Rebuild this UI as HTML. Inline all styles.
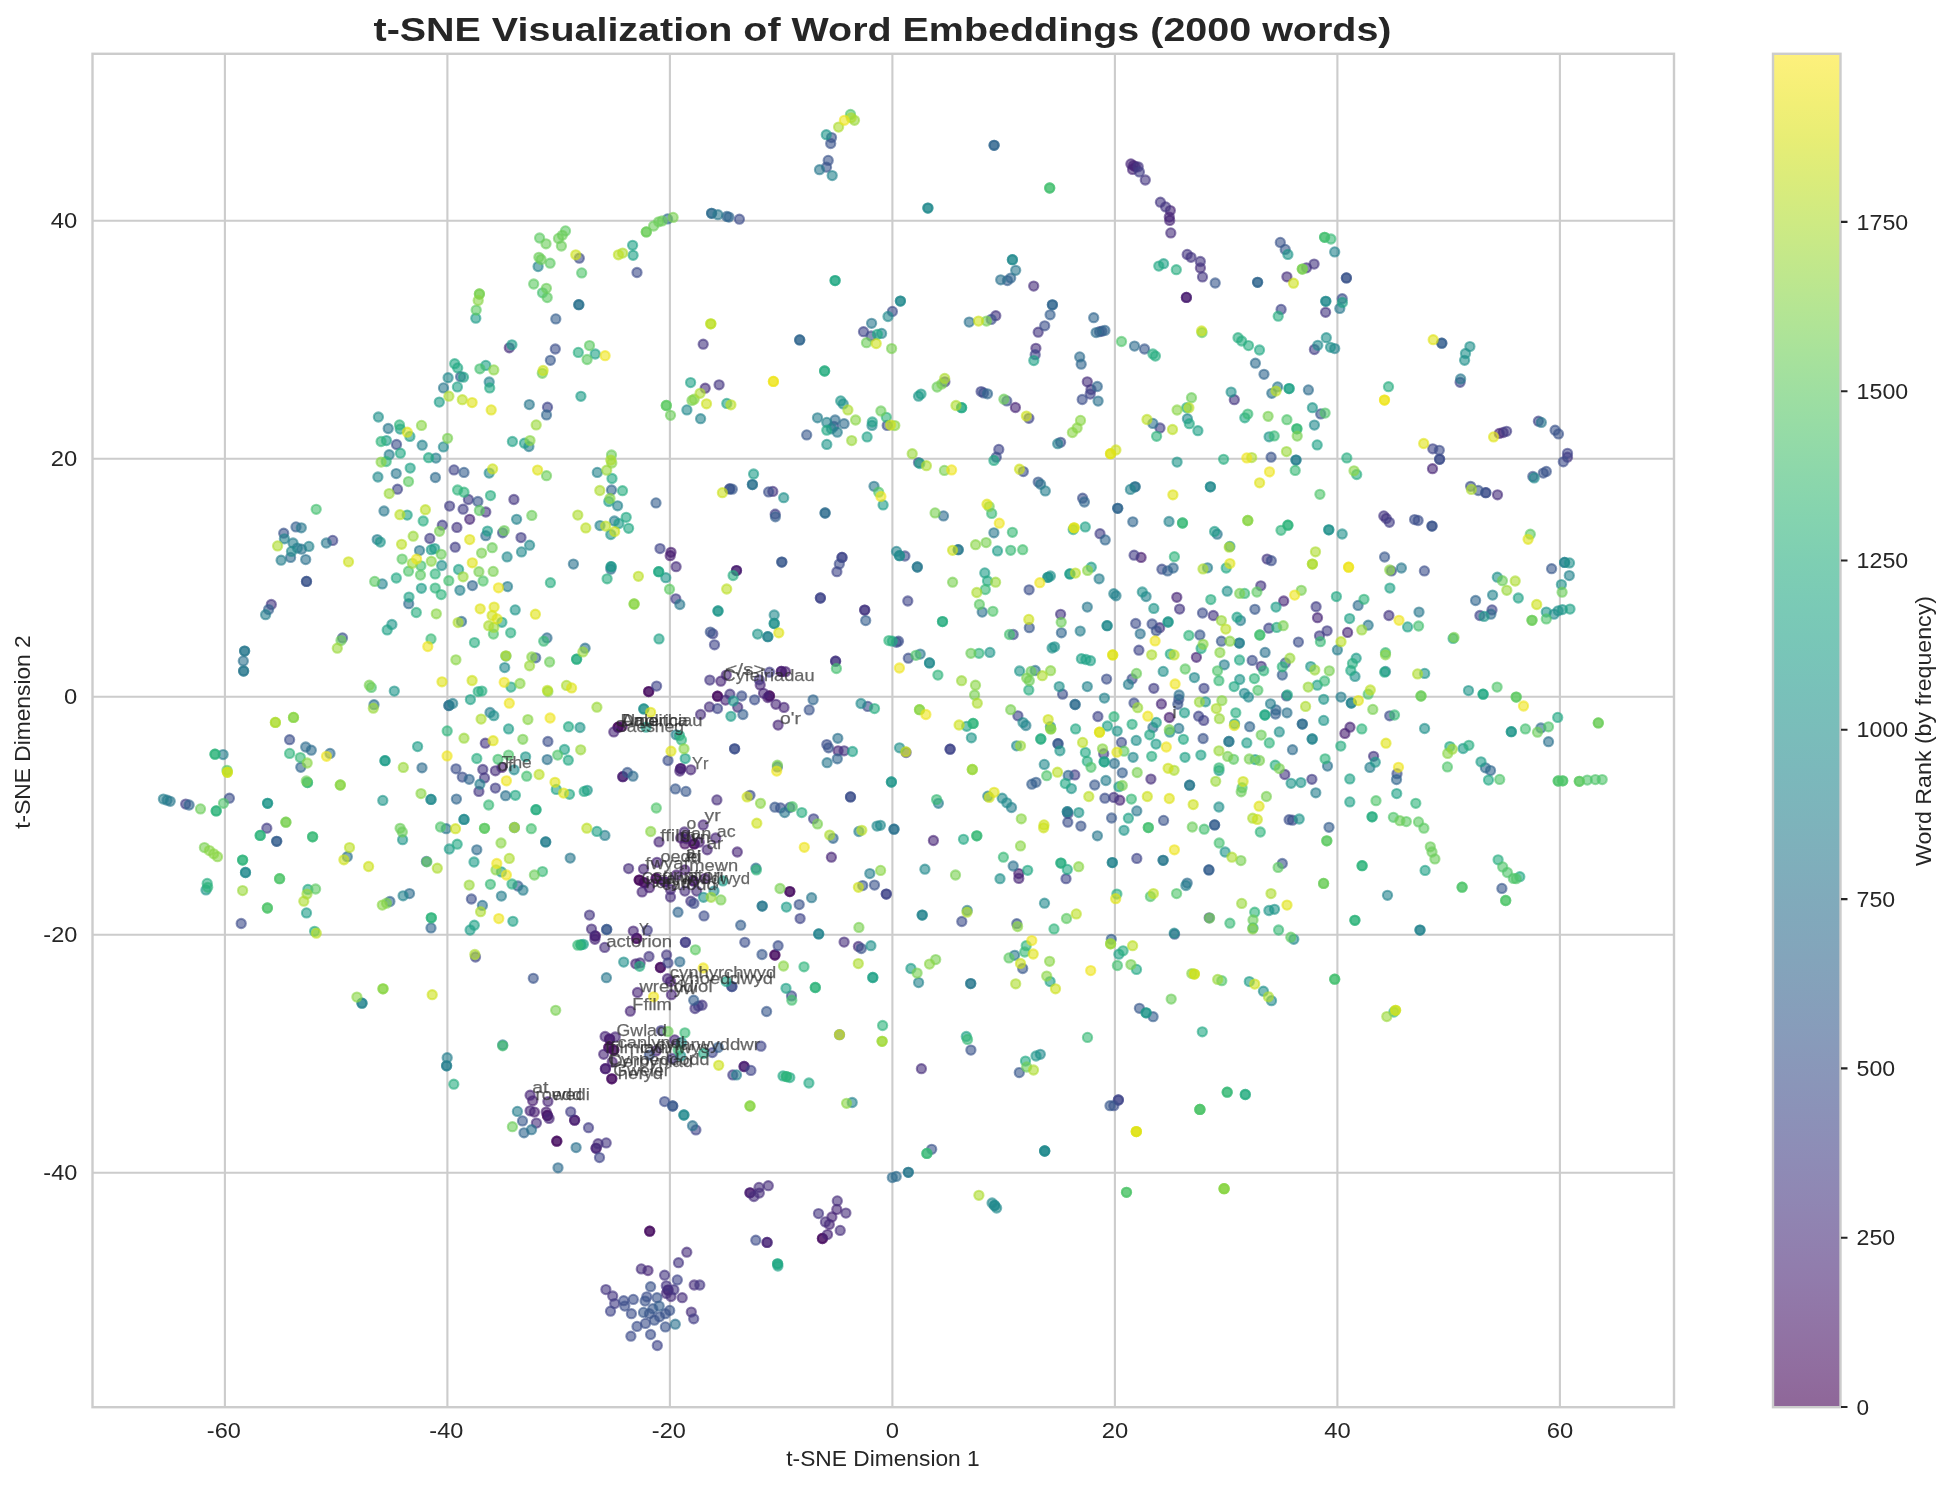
<!DOCTYPE html><html><head><meta charset="utf-8"><title>t-SNE</title><style>html,body{margin:0;padding:0;background:#fff}svg{display:block}text{font-family:"Liberation Sans",sans-serif;fill:#262626}</style></head><body>
<svg style="will-change:transform" width="1951" height="1485" viewBox="0 0 1951 1485">
<rect width="1951" height="1485" fill="#fff"/>
<path d="M224.9 53.8V1407.2M447.4 53.8V1407.2M669.9 53.8V1407.2M892.4 53.8V1407.2M1114.9 53.8V1407.2M1337.4 53.8V1407.2M1559.9 53.8V1407.2M92.5 220.8H1674.0M92.5 458.8H1674.0M92.5 696.8H1674.0M92.5 934.8H1674.0M92.5 1172.8H1674.0" stroke="#cccccc" stroke-width="2.1" fill="none"/>
<g fill-opacity="0.6" stroke-opacity="0.6" stroke-width="2.1"><circle cx="618.1" cy="727.2" r="4.6" fill="#450559" stroke="#450559"/>
<circle cx="618.1" cy="727.2" r="4.6" fill="#450559" stroke="#450559"/>
<circle cx="639.2" cy="880.1" r="4.6" fill="#450559" stroke="#450559"/>
<circle cx="639.2" cy="880.1" r="4.6" fill="#450559" stroke="#450559"/>
<circle cx="648.7" cy="691.6" r="4.6" fill="#470d60" stroke="#470d60"/>
<circle cx="648.7" cy="691.6" r="4.6" fill="#470d60" stroke="#470d60"/>
<circle cx="622.3" cy="726.3" r="4.6" fill="#470d60" stroke="#470d60"/>
<circle cx="769.5" cy="695.9" r="4.6" fill="#470d60" stroke="#470d60"/>
<circle cx="769.5" cy="695.9" r="4.6" fill="#470d60" stroke="#470d60"/>
<circle cx="717.5" cy="696.2" r="4.6" fill="#470d60" stroke="#470d60"/>
<circle cx="717.5" cy="696.2" r="4.6" fill="#470d60" stroke="#470d60"/>
<circle cx="684.9" cy="843.9" r="4.6" fill="#470d60" stroke="#470d60"/>
<circle cx="694.2" cy="843.9" r="4.6" fill="#470d60" stroke="#470d60"/>
<circle cx="694.2" cy="843.9" r="4.6" fill="#470d60" stroke="#470d60"/>
<circle cx="636.7" cy="938.4" r="4.6" fill="#470d60" stroke="#470d60"/>
<circle cx="636.7" cy="938.4" r="4.6" fill="#470d60" stroke="#470d60"/>
<circle cx="660.4" cy="967.5" r="4.6" fill="#470d60" stroke="#470d60"/>
<circle cx="660.4" cy="967.5" r="4.6" fill="#470d60" stroke="#470d60"/>
<circle cx="774.9" cy="955.0" r="4.6" fill="#470d60" stroke="#470d60"/>
<circle cx="774.9" cy="955.0" r="4.6" fill="#470d60" stroke="#470d60"/>
<circle cx="789.8" cy="891.6" r="4.6" fill="#470d60" stroke="#470d60"/>
<circle cx="789.8" cy="891.6" r="4.6" fill="#470d60" stroke="#470d60"/>
<circle cx="644.3" cy="882.6" r="4.6" fill="#470d60" stroke="#470d60"/>
<circle cx="644.3" cy="882.6" r="4.6" fill="#470d60" stroke="#470d60"/>
<circle cx="656.1" cy="878.4" r="4.6" fill="#470d60" stroke="#470d60"/>
<circle cx="656.1" cy="878.4" r="4.6" fill="#470d60" stroke="#470d60"/>
<circle cx="609.6" cy="1039.1" r="4.6" fill="#470d60" stroke="#470d60"/>
<circle cx="609.6" cy="1039.1" r="4.6" fill="#470d60" stroke="#470d60"/>
<circle cx="608.8" cy="1047.5" r="4.6" fill="#470d60" stroke="#470d60"/>
<circle cx="608.8" cy="1047.5" r="4.6" fill="#470d60" stroke="#470d60"/>
<circle cx="613.8" cy="1050.1" r="4.6" fill="#470d60" stroke="#470d60"/>
<circle cx="613.8" cy="1050.1" r="4.6" fill="#470d60" stroke="#470d60"/>
<circle cx="611.8" cy="1078.8" r="4.6" fill="#470d60" stroke="#470d60"/>
<circle cx="611.8" cy="1078.8" r="4.6" fill="#470d60" stroke="#470d60"/>
<circle cx="547.4" cy="1115.5" r="4.6" fill="#470d60" stroke="#470d60"/>
<circle cx="547.4" cy="1115.5" r="4.6" fill="#470d60" stroke="#470d60"/>
<circle cx="556.8" cy="1141.2" r="4.6" fill="#470d60" stroke="#470d60"/>
<circle cx="556.8" cy="1141.2" r="4.6" fill="#470d60" stroke="#470d60"/>
<circle cx="649.7" cy="1231.2" r="4.6" fill="#470d60" stroke="#470d60"/>
<circle cx="649.7" cy="1231.2" r="4.6" fill="#470d60" stroke="#470d60"/>
<circle cx="822.4" cy="1238.5" r="4.6" fill="#470d60" stroke="#470d60"/>
<circle cx="822.4" cy="1238.5" r="4.6" fill="#470d60" stroke="#470d60"/>
<circle cx="1186.4" cy="297.4" r="4.6" fill="#481d6f" stroke="#481d6f"/>
<circle cx="1186.4" cy="297.4" r="4.6" fill="#481d6f" stroke="#481d6f"/>
<circle cx="671.0" cy="552.3" r="4.6" fill="#481d6f" stroke="#481d6f"/>
<circle cx="670.2" cy="555.7" r="4.6" fill="#481d6f" stroke="#481d6f"/>
<circle cx="736.5" cy="570.6" r="4.6" fill="#481d6f" stroke="#481d6f"/>
<circle cx="736.5" cy="570.6" r="4.6" fill="#481d6f" stroke="#481d6f"/>
<circle cx="1141.1" cy="557.4" r="4.6" fill="#481d6f" stroke="#481d6f"/>
<circle cx="501.9" cy="767.4" r="4.6" fill="#481d6f" stroke="#481d6f"/>
<circle cx="622.8" cy="776.7" r="4.6" fill="#481d6f" stroke="#481d6f"/>
<circle cx="622.8" cy="776.7" r="4.6" fill="#481d6f" stroke="#481d6f"/>
<circle cx="680.7" cy="768.6" r="4.6" fill="#481d6f" stroke="#481d6f"/>
<circle cx="680.7" cy="768.6" r="4.6" fill="#481d6f" stroke="#481d6f"/>
<circle cx="781.3" cy="671.4" r="4.6" fill="#481d6f" stroke="#481d6f"/>
<circle cx="781.3" cy="671.4" r="4.6" fill="#481d6f" stroke="#481d6f"/>
<circle cx="785.5" cy="671.7" r="4.6" fill="#481d6f" stroke="#481d6f"/>
<circle cx="767.8" cy="697.6" r="4.6" fill="#481d6f" stroke="#481d6f"/>
<circle cx="680.7" cy="838.0" r="4.6" fill="#481d6f" stroke="#481d6f"/>
<circle cx="686.6" cy="838.8" r="4.6" fill="#481d6f" stroke="#481d6f"/>
<circle cx="699.3" cy="842.2" r="4.6" fill="#481d6f" stroke="#481d6f"/>
<circle cx="1169.3" cy="717.5" r="4.6" fill="#481d6f" stroke="#481d6f"/>
<circle cx="1344.9" cy="733.4" r="4.6" fill="#481d6f" stroke="#481d6f"/>
<circle cx="595.2" cy="935.9" r="4.6" fill="#481d6f" stroke="#481d6f"/>
<circle cx="595.2" cy="935.9" r="4.6" fill="#481d6f" stroke="#481d6f"/>
<circle cx="670.5" cy="981.6" r="4.6" fill="#481d6f" stroke="#481d6f"/>
<circle cx="649.4" cy="887.7" r="4.6" fill="#481d6f" stroke="#481d6f"/>
<circle cx="664.6" cy="881.8" r="4.6" fill="#481d6f" stroke="#481d6f"/>
<circle cx="664.6" cy="881.8" r="4.6" fill="#481d6f" stroke="#481d6f"/>
<circle cx="676.4" cy="875.0" r="4.6" fill="#481d6f" stroke="#481d6f"/>
<circle cx="684.9" cy="869.9" r="4.6" fill="#481d6f" stroke="#481d6f"/>
<circle cx="693.3" cy="880.9" r="4.6" fill="#481d6f" stroke="#481d6f"/>
<circle cx="693.3" cy="880.9" r="4.6" fill="#481d6f" stroke="#481d6f"/>
<circle cx="705.2" cy="878.4" r="4.6" fill="#481d6f" stroke="#481d6f"/>
<circle cx="605.4" cy="1068.7" r="4.6" fill="#481d6f" stroke="#481d6f"/>
<circle cx="605.4" cy="1068.7" r="4.6" fill="#481d6f" stroke="#481d6f"/>
<circle cx="612.2" cy="1061.9" r="4.6" fill="#481d6f" stroke="#481d6f"/>
<circle cx="744.1" cy="1066.5" r="4.6" fill="#481d6f" stroke="#481d6f"/>
<circle cx="744.1" cy="1066.5" r="4.6" fill="#481d6f" stroke="#481d6f"/>
<circle cx="532.7" cy="1100.8" r="4.6" fill="#481d6f" stroke="#481d6f"/>
<circle cx="1018.8" cy="873.6" r="4.6" fill="#481d6f" stroke="#481d6f"/>
<circle cx="534.4" cy="1112.1" r="4.6" fill="#481d6f" stroke="#481d6f"/>
<circle cx="546.2" cy="1112.1" r="4.6" fill="#481d6f" stroke="#481d6f"/>
<circle cx="574.6" cy="1120.2" r="4.6" fill="#481d6f" stroke="#481d6f"/>
<circle cx="574.6" cy="1120.2" r="4.6" fill="#481d6f" stroke="#481d6f"/>
<circle cx="750.0" cy="1192.8" r="4.6" fill="#481d6f" stroke="#481d6f"/>
<circle cx="750.0" cy="1192.8" r="4.6" fill="#481d6f" stroke="#481d6f"/>
<circle cx="1130.9" cy="163.9" r="4.6" fill="#482576" stroke="#482576"/>
<circle cx="1133.5" cy="165.6" r="4.6" fill="#482576" stroke="#482576"/>
<circle cx="1135.5" cy="166.8" r="4.6" fill="#482576" stroke="#482576"/>
<circle cx="1132.6" cy="169.4" r="4.6" fill="#482576" stroke="#482576"/>
<circle cx="1170.3" cy="210.6" r="4.6" fill="#482576" stroke="#482576"/>
<circle cx="1169.3" cy="217.1" r="4.6" fill="#482576" stroke="#482576"/>
<circle cx="1169.7" cy="220.4" r="4.6" fill="#482576" stroke="#482576"/>
<circle cx="469.7" cy="519.3" r="4.6" fill="#482576" stroke="#482576"/>
<circle cx="1015.4" cy="407.5" r="4.6" fill="#482576" stroke="#482576"/>
<circle cx="1432.5" cy="468.7" r="4.6" fill="#482576" stroke="#482576"/>
<circle cx="1176.8" cy="597.3" r="4.6" fill="#482576" stroke="#482576"/>
<circle cx="1283.7" cy="601.0" r="4.6" fill="#482576" stroke="#482576"/>
<circle cx="1499.3" cy="433.4" r="4.6" fill="#482576" stroke="#482576"/>
<circle cx="613.8" cy="731.9" r="4.6" fill="#482576" stroke="#482576"/>
<circle cx="679.8" cy="771.1" r="4.6" fill="#482576" stroke="#482576"/>
<circle cx="690.8" cy="769.8" r="4.6" fill="#482576" stroke="#482576"/>
<circle cx="720.8" cy="681.2" r="4.6" fill="#482576" stroke="#482576"/>
<circle cx="726.3" cy="675.1" r="4.6" fill="#482576" stroke="#482576"/>
<circle cx="760.2" cy="684.9" r="4.6" fill="#482576" stroke="#482576"/>
<circle cx="763.5" cy="693.3" r="4.6" fill="#482576" stroke="#482576"/>
<circle cx="775.9" cy="704.3" r="4.6" fill="#482576" stroke="#482576"/>
<circle cx="784.0" cy="707.4" r="4.6" fill="#482576" stroke="#482576"/>
<circle cx="725.5" cy="700.1" r="4.6" fill="#482576" stroke="#482576"/>
<circle cx="778.1" cy="725.1" r="4.6" fill="#482576" stroke="#482576"/>
<circle cx="703.2" cy="824.9" r="4.6" fill="#482576" stroke="#482576"/>
<circle cx="684.4" cy="832.0" r="4.6" fill="#482576" stroke="#482576"/>
<circle cx="659.0" cy="841.9" r="4.6" fill="#482576" stroke="#482576"/>
<circle cx="715.7" cy="838.0" r="4.6" fill="#482576" stroke="#482576"/>
<circle cx="707.2" cy="849.8" r="4.6" fill="#482576" stroke="#482576"/>
<circle cx="737.3" cy="852.0" r="4.6" fill="#482576" stroke="#482576"/>
<circle cx="838.1" cy="750.8" r="4.6" fill="#482576" stroke="#482576"/>
<circle cx="1119.8" cy="800.2" r="4.6" fill="#482576" stroke="#482576"/>
<circle cx="933.4" cy="840.5" r="4.6" fill="#482576" stroke="#482576"/>
<circle cx="1317.5" cy="617.7" r="4.6" fill="#482576" stroke="#482576"/>
<circle cx="1347.6" cy="632.4" r="4.6" fill="#482576" stroke="#482576"/>
<circle cx="1196.4" cy="657.3" r="4.6" fill="#482576" stroke="#482576"/>
<circle cx="1161.4" cy="704.0" r="4.6" fill="#482576" stroke="#482576"/>
<circle cx="1350.0" cy="727.2" r="4.6" fill="#482576" stroke="#482576"/>
<circle cx="594.9" cy="939.3" r="4.6" fill="#482576" stroke="#482576"/>
<circle cx="633.3" cy="931.1" r="4.6" fill="#482576" stroke="#482576"/>
<circle cx="635.8" cy="963.8" r="4.6" fill="#482576" stroke="#482576"/>
<circle cx="667.5" cy="978.7" r="4.6" fill="#482576" stroke="#482576"/>
<circle cx="637.5" cy="992.5" r="4.6" fill="#482576" stroke="#482576"/>
<circle cx="671.4" cy="994.7" r="4.6" fill="#482576" stroke="#482576"/>
<circle cx="630.3" cy="1011.2" r="4.6" fill="#482576" stroke="#482576"/>
<circle cx="643.5" cy="869.1" r="4.6" fill="#482576" stroke="#482576"/>
<circle cx="657.0" cy="862.3" r="4.6" fill="#482576" stroke="#482576"/>
<circle cx="642.1" cy="891.9" r="4.6" fill="#482576" stroke="#482576"/>
<circle cx="670.5" cy="889.4" r="4.6" fill="#482576" stroke="#482576"/>
<circle cx="605.1" cy="1036.5" r="4.6" fill="#482576" stroke="#482576"/>
<circle cx="615.2" cy="1037.0" r="4.6" fill="#482576" stroke="#482576"/>
<circle cx="674.7" cy="1039.9" r="4.6" fill="#482576" stroke="#482576"/>
<circle cx="603.7" cy="1054.3" r="4.6" fill="#482576" stroke="#482576"/>
<circle cx="656.1" cy="1050.9" r="4.6" fill="#482576" stroke="#482576"/>
<circle cx="530.1" cy="1095.2" r="4.6" fill="#482576" stroke="#482576"/>
<circle cx="547.9" cy="1101.6" r="4.6" fill="#482576" stroke="#482576"/>
<circle cx="831.4" cy="857.2" r="4.6" fill="#482576" stroke="#482576"/>
<circle cx="1018.8" cy="878.4" r="4.6" fill="#482576" stroke="#482576"/>
<circle cx="530.1" cy="1110.8" r="4.6" fill="#482576" stroke="#482576"/>
<circle cx="549.1" cy="1118.4" r="4.6" fill="#482576" stroke="#482576"/>
<circle cx="596.1" cy="1148.3" r="4.6" fill="#482576" stroke="#482576"/>
<circle cx="596.1" cy="1148.3" r="4.6" fill="#482576" stroke="#482576"/>
<circle cx="767.1" cy="1242.4" r="4.6" fill="#482576" stroke="#482576"/>
<circle cx="767.1" cy="1242.4" r="4.6" fill="#482576" stroke="#482576"/>
<circle cx="648.0" cy="1270.6" r="4.6" fill="#482576" stroke="#482576"/>
<circle cx="668.0" cy="1290.1" r="4.6" fill="#482576" stroke="#482576"/>
<circle cx="668.0" cy="1290.1" r="4.6" fill="#482576" stroke="#482576"/>
<circle cx="836.8" cy="1209.4" r="4.6" fill="#482576" stroke="#482576"/>
<circle cx="831.9" cy="1217.0" r="4.6" fill="#482576" stroke="#482576"/>
<circle cx="829.3" cy="1224.4" r="4.6" fill="#482576" stroke="#482576"/>
<circle cx="827.5" cy="1234.6" r="4.6" fill="#482576" stroke="#482576"/>
<circle cx="509.3" cy="347.8" r="4.6" fill="#472e7c" stroke="#472e7c"/>
<circle cx="1033.7" cy="286.1" r="4.6" fill="#472e7c" stroke="#472e7c"/>
<circle cx="1035.9" cy="348.3" r="4.6" fill="#472e7c" stroke="#472e7c"/>
<circle cx="1170.8" cy="232.9" r="4.6" fill="#472e7c" stroke="#472e7c"/>
<circle cx="1200.4" cy="268.0" r="4.6" fill="#472e7c" stroke="#472e7c"/>
<circle cx="1286.9" cy="276.8" r="4.6" fill="#472e7c" stroke="#472e7c"/>
<circle cx="676.1" cy="566.7" r="4.6" fill="#472e7c" stroke="#472e7c"/>
<circle cx="705.2" cy="388.2" r="4.6" fill="#472e7c" stroke="#472e7c"/>
<circle cx="1087.3" cy="381.8" r="4.6" fill="#472e7c" stroke="#472e7c"/>
<circle cx="1503.2" cy="432.5" r="4.6" fill="#472e7c" stroke="#472e7c"/>
<circle cx="1497.5" cy="494.8" r="4.6" fill="#472e7c" stroke="#472e7c"/>
<circle cx="495.4" cy="770.8" r="4.6" fill="#472e7c" stroke="#472e7c"/>
<circle cx="716.9" cy="799.9" r="4.6" fill="#472e7c" stroke="#472e7c"/>
<circle cx="737.7" cy="707.2" r="4.6" fill="#472e7c" stroke="#472e7c"/>
<circle cx="709.4" cy="706.9" r="4.6" fill="#472e7c" stroke="#472e7c"/>
<circle cx="700.6" cy="714.5" r="4.6" fill="#472e7c" stroke="#472e7c"/>
<circle cx="1150.9" cy="779.1" r="4.6" fill="#472e7c" stroke="#472e7c"/>
<circle cx="591.5" cy="929.1" r="4.6" fill="#472e7c" stroke="#472e7c"/>
<circle cx="604.7" cy="947.4" r="4.6" fill="#472e7c" stroke="#472e7c"/>
<circle cx="640.1" cy="962.9" r="4.6" fill="#472e7c" stroke="#472e7c"/>
<circle cx="628.6" cy="868.6" r="4.6" fill="#472e7c" stroke="#472e7c"/>
<circle cx="670.5" cy="897.0" r="4.6" fill="#472e7c" stroke="#472e7c"/>
<circle cx="684.9" cy="891.1" r="4.6" fill="#472e7c" stroke="#472e7c"/>
<circle cx="696.7" cy="891.1" r="4.6" fill="#472e7c" stroke="#472e7c"/>
<circle cx="844.1" cy="942.1" r="4.6" fill="#472e7c" stroke="#472e7c"/>
<circle cx="858.4" cy="946.5" r="4.6" fill="#472e7c" stroke="#472e7c"/>
<circle cx="921.4" cy="1068.7" r="4.6" fill="#472e7c" stroke="#472e7c"/>
<circle cx="536.4" cy="1123.1" r="4.6" fill="#472e7c" stroke="#472e7c"/>
<circle cx="598.1" cy="1143.7" r="4.6" fill="#472e7c" stroke="#472e7c"/>
<circle cx="768.3" cy="1185.7" r="4.6" fill="#472e7c" stroke="#472e7c"/>
<circle cx="759.0" cy="1187.4" r="4.6" fill="#472e7c" stroke="#472e7c"/>
<circle cx="759.3" cy="1193.1" r="4.6" fill="#472e7c" stroke="#472e7c"/>
<circle cx="753.9" cy="1196.5" r="4.6" fill="#472e7c" stroke="#472e7c"/>
<circle cx="686.8" cy="1252.2" r="4.6" fill="#472e7c" stroke="#472e7c"/>
<circle cx="641.3" cy="1268.9" r="4.6" fill="#472e7c" stroke="#472e7c"/>
<circle cx="694.2" cy="1285.0" r="4.6" fill="#472e7c" stroke="#472e7c"/>
<circle cx="666.3" cy="1293.4" r="4.6" fill="#472e7c" stroke="#472e7c"/>
<circle cx="671.0" cy="1296.5" r="4.6" fill="#472e7c" stroke="#472e7c"/>
<circle cx="682.2" cy="1297.7" r="4.6" fill="#472e7c" stroke="#472e7c"/>
<circle cx="691.3" cy="1312.1" r="4.6" fill="#472e7c" stroke="#472e7c"/>
<circle cx="837.3" cy="1200.9" r="4.6" fill="#472e7c" stroke="#472e7c"/>
<circle cx="845.9" cy="1213.1" r="4.6" fill="#472e7c" stroke="#472e7c"/>
<circle cx="825.4" cy="1221.9" r="4.6" fill="#472e7c" stroke="#472e7c"/>
<circle cx="840.2" cy="1230.4" r="4.6" fill="#472e7c" stroke="#472e7c"/>
<circle cx="703.2" cy="344.2" r="4.6" fill="#453581" stroke="#453581"/>
<circle cx="995.8" cy="315.7" r="4.6" fill="#453581" stroke="#453581"/>
<circle cx="1038.2" cy="332.2" r="4.6" fill="#453581" stroke="#453581"/>
<circle cx="1138.2" cy="166.8" r="4.6" fill="#453581" stroke="#453581"/>
<circle cx="1145.3" cy="180.0" r="4.6" fill="#453581" stroke="#453581"/>
<circle cx="1160.4" cy="202.2" r="4.6" fill="#453581" stroke="#453581"/>
<circle cx="1165.6" cy="206.9" r="4.6" fill="#453581" stroke="#453581"/>
<circle cx="1187.2" cy="254.4" r="4.6" fill="#453581" stroke="#453581"/>
<circle cx="1191.0" cy="257.3" r="4.6" fill="#453581" stroke="#453581"/>
<circle cx="1200.3" cy="261.5" r="4.6" fill="#453581" stroke="#453581"/>
<circle cx="1202.5" cy="276.9" r="4.6" fill="#453581" stroke="#453581"/>
<circle cx="1314.1" cy="264.1" r="4.6" fill="#453581" stroke="#453581"/>
<circle cx="1306.5" cy="267.8" r="4.6" fill="#453581" stroke="#453581"/>
<circle cx="1325.6" cy="312.3" r="4.6" fill="#453581" stroke="#453581"/>
<circle cx="456.9" cy="527.4" r="4.6" fill="#453581" stroke="#453581"/>
<circle cx="513.9" cy="499.5" r="4.6" fill="#453581" stroke="#453581"/>
<circle cx="485.8" cy="512.0" r="4.6" fill="#453581" stroke="#453581"/>
<circle cx="772.8" cy="491.4" r="4.6" fill="#453581" stroke="#453581"/>
<circle cx="719.1" cy="384.8" r="4.6" fill="#453581" stroke="#453581"/>
<circle cx="1091.0" cy="389.6" r="4.6" fill="#453581" stroke="#453581"/>
<circle cx="1234.3" cy="399.7" r="4.6" fill="#453581" stroke="#453581"/>
<circle cx="1383.8" cy="515.9" r="4.6" fill="#453581" stroke="#453581"/>
<circle cx="1386.3" cy="518.5" r="4.6" fill="#453581" stroke="#453581"/>
<circle cx="1267.1" cy="559.1" r="4.6" fill="#453581" stroke="#453581"/>
<circle cx="1260.8" cy="585.8" r="4.6" fill="#453581" stroke="#453581"/>
<circle cx="1567.5" cy="457.2" r="4.6" fill="#453581" stroke="#453581"/>
<circle cx="271.3" cy="604.5" r="4.6" fill="#453581" stroke="#453581"/>
<circle cx="485.3" cy="743.2" r="4.6" fill="#453581" stroke="#453581"/>
<circle cx="482.8" cy="769.5" r="4.6" fill="#453581" stroke="#453581"/>
<circle cx="484.5" cy="777.9" r="4.6" fill="#453581" stroke="#453581"/>
<circle cx="478.9" cy="791.4" r="4.6" fill="#453581" stroke="#453581"/>
<circle cx="709.8" cy="680.1" r="4.6" fill="#453581" stroke="#453581"/>
<circle cx="759.3" cy="679.8" r="4.6" fill="#453581" stroke="#453581"/>
<circle cx="729.9" cy="694.2" r="4.6" fill="#453581" stroke="#453581"/>
<circle cx="864.7" cy="610.1" r="4.6" fill="#453581" stroke="#453581"/>
<circle cx="864.7" cy="610.1" r="4.6" fill="#453581" stroke="#453581"/>
<circle cx="1060.6" cy="614.3" r="4.6" fill="#453581" stroke="#453581"/>
<circle cx="835.6" cy="661.2" r="4.6" fill="#453581" stroke="#453581"/>
<circle cx="835.6" cy="661.2" r="4.6" fill="#453581" stroke="#453581"/>
<circle cx="844.1" cy="750.8" r="4.6" fill="#453581" stroke="#453581"/>
<circle cx="1113.8" cy="797.4" r="4.6" fill="#453581" stroke="#453581"/>
<circle cx="1179.6" cy="609.1" r="4.6" fill="#453581" stroke="#453581"/>
<circle cx="1213.3" cy="615.5" r="4.6" fill="#453581" stroke="#453581"/>
<circle cx="1388.9" cy="615.5" r="4.6" fill="#453581" stroke="#453581"/>
<circle cx="1159.7" cy="627.7" r="4.6" fill="#453581" stroke="#453581"/>
<circle cx="1261.2" cy="666.3" r="4.6" fill="#453581" stroke="#453581"/>
<circle cx="1373.6" cy="756.3" r="4.6" fill="#453581" stroke="#453581"/>
<circle cx="1284.8" cy="774.5" r="4.6" fill="#453581" stroke="#453581"/>
<circle cx="589.5" cy="915.1" r="4.6" fill="#453581" stroke="#453581"/>
<circle cx="649.0" cy="956.5" r="4.6" fill="#453581" stroke="#453581"/>
<circle cx="666.6" cy="955.0" r="4.6" fill="#453581" stroke="#453581"/>
<circle cx="702.1" cy="1005.2" r="4.6" fill="#453581" stroke="#453581"/>
<circle cx="695.0" cy="1008.6" r="4.6" fill="#453581" stroke="#453581"/>
<circle cx="690.8" cy="901.2" r="4.6" fill="#453581" stroke="#453581"/>
<circle cx="672.2" cy="1058.5" r="4.6" fill="#453581" stroke="#453581"/>
<circle cx="606.2" cy="1142.9" r="4.6" fill="#453581" stroke="#453581"/>
<circle cx="678.5" cy="1262.7" r="4.6" fill="#453581" stroke="#453581"/>
<circle cx="664.6" cy="1275.2" r="4.6" fill="#453581" stroke="#453581"/>
<circle cx="699.8" cy="1285.0" r="4.6" fill="#453581" stroke="#453581"/>
<circle cx="666.3" cy="1285.8" r="4.6" fill="#453581" stroke="#453581"/>
<circle cx="673.9" cy="1289.7" r="4.6" fill="#453581" stroke="#453581"/>
<circle cx="605.9" cy="1289.6" r="4.6" fill="#453581" stroke="#453581"/>
<circle cx="612.7" cy="1296.0" r="4.6" fill="#453581" stroke="#453581"/>
<circle cx="818.5" cy="1213.6" r="4.6" fill="#453581" stroke="#453581"/>
<circle cx="1139.4" cy="171.9" r="4.6" fill="#433e85" stroke="#433e85"/>
<circle cx="1314.4" cy="349.5" r="4.6" fill="#433e85" stroke="#433e85"/>
<circle cx="449.6" cy="506.1" r="4.6" fill="#433e85" stroke="#433e85"/>
<circle cx="463.1" cy="509.2" r="4.6" fill="#433e85" stroke="#433e85"/>
<circle cx="442.3" cy="525.2" r="4.6" fill="#433e85" stroke="#433e85"/>
<circle cx="429.8" cy="538.4" r="4.6" fill="#433e85" stroke="#433e85"/>
<circle cx="455.2" cy="547.2" r="4.6" fill="#433e85" stroke="#433e85"/>
<circle cx="468.4" cy="499.5" r="4.6" fill="#433e85" stroke="#433e85"/>
<circle cx="521.0" cy="537.6" r="4.6" fill="#433e85" stroke="#433e85"/>
<circle cx="675.8" cy="598.8" r="4.6" fill="#433e85" stroke="#433e85"/>
<circle cx="775.2" cy="514.2" r="4.6" fill="#433e85" stroke="#433e85"/>
<circle cx="944.9" cy="381.8" r="4.6" fill="#433e85" stroke="#433e85"/>
<circle cx="1100.0" cy="533.7" r="4.6" fill="#433e85" stroke="#433e85"/>
<circle cx="1160.0" cy="428.0" r="4.6" fill="#433e85" stroke="#433e85"/>
<circle cx="1389.4" cy="522.3" r="4.6" fill="#433e85" stroke="#433e85"/>
<circle cx="1134.1" cy="555.2" r="4.6" fill="#433e85" stroke="#433e85"/>
<circle cx="1506.6" cy="431.3" r="4.6" fill="#433e85" stroke="#433e85"/>
<circle cx="185.7" cy="804.1" r="4.6" fill="#433e85" stroke="#433e85"/>
<circle cx="266.8" cy="828.2" r="4.6" fill="#433e85" stroke="#433e85"/>
<circle cx="495.4" cy="788.1" r="4.6" fill="#433e85" stroke="#433e85"/>
<circle cx="769.5" cy="672.2" r="4.6" fill="#433e85" stroke="#433e85"/>
<circle cx="1103.7" cy="753.7" r="4.6" fill="#433e85" stroke="#433e85"/>
<circle cx="906.1" cy="752.5" r="4.6" fill="#433e85" stroke="#433e85"/>
<circle cx="1074.8" cy="774.9" r="4.6" fill="#433e85" stroke="#433e85"/>
<circle cx="1316.1" cy="606.7" r="4.6" fill="#433e85" stroke="#433e85"/>
<circle cx="1327.1" cy="630.8" r="4.6" fill="#433e85" stroke="#433e85"/>
<circle cx="1319.5" cy="635.8" r="4.6" fill="#433e85" stroke="#433e85"/>
<circle cx="1153.8" cy="688.3" r="4.6" fill="#433e85" stroke="#433e85"/>
<circle cx="1203.7" cy="720.4" r="4.6" fill="#433e85" stroke="#433e85"/>
<circle cx="1311.9" cy="779.3" r="4.6" fill="#433e85" stroke="#433e85"/>
<circle cx="647.3" cy="930.3" r="4.6" fill="#433e85" stroke="#433e85"/>
<circle cx="685.4" cy="942.3" r="4.6" fill="#433e85" stroke="#433e85"/>
<circle cx="685.4" cy="942.3" r="4.6" fill="#433e85" stroke="#433e85"/>
<circle cx="698.4" cy="1006.1" r="4.6" fill="#433e85" stroke="#433e85"/>
<circle cx="661.2" cy="1030.6" r="4.6" fill="#433e85" stroke="#433e85"/>
<circle cx="732.8" cy="1074.9" r="4.6" fill="#433e85" stroke="#433e85"/>
<circle cx="1209.2" cy="917.8" r="4.6" fill="#433e85" stroke="#433e85"/>
<circle cx="570.7" cy="1111.8" r="4.6" fill="#433e85" stroke="#433e85"/>
<circle cx="588.5" cy="1127.7" r="4.6" fill="#433e85" stroke="#433e85"/>
<circle cx="614.7" cy="1303.6" r="4.6" fill="#433e85" stroke="#433e85"/>
<circle cx="693.7" cy="1318.8" r="4.6" fill="#433e85" stroke="#433e85"/>
<circle cx="863.5" cy="331.7" r="4.6" fill="#404588" stroke="#404588"/>
<circle cx="1281.1" cy="309.4" r="4.6" fill="#404588" stroke="#404588"/>
<circle cx="454.0" cy="469.9" r="4.6" fill="#404588" stroke="#404588"/>
<circle cx="397.5" cy="489.2" r="4.6" fill="#404588" stroke="#404588"/>
<circle cx="332.7" cy="540.4" r="4.6" fill="#404588" stroke="#404588"/>
<circle cx="547.5" cy="407.2" r="4.6" fill="#404588" stroke="#404588"/>
<circle cx="660.0" cy="548.6" r="4.6" fill="#404588" stroke="#404588"/>
<circle cx="1035.2" cy="354.7" r="4.6" fill="#404588" stroke="#404588"/>
<circle cx="1090.2" cy="394.1" r="4.6" fill="#404588" stroke="#404588"/>
<circle cx="981.1" cy="391.6" r="4.6" fill="#404588" stroke="#404588"/>
<circle cx="1028.9" cy="418.3" r="4.6" fill="#404588" stroke="#404588"/>
<circle cx="998.8" cy="449.4" r="4.6" fill="#404588" stroke="#404588"/>
<circle cx="842.0" cy="557.4" r="4.6" fill="#404588" stroke="#404588"/>
<circle cx="842.0" cy="557.4" r="4.6" fill="#404588" stroke="#404588"/>
<circle cx="836.9" cy="571.7" r="4.6" fill="#404588" stroke="#404588"/>
<circle cx="820.4" cy="598.0" r="4.6" fill="#404588" stroke="#404588"/>
<circle cx="820.4" cy="598.0" r="4.6" fill="#404588" stroke="#404588"/>
<circle cx="907.8" cy="601.0" r="4.6" fill="#404588" stroke="#404588"/>
<circle cx="1432.8" cy="448.8" r="4.6" fill="#404588" stroke="#404588"/>
<circle cx="1460.1" cy="382.3" r="4.6" fill="#404588" stroke="#404588"/>
<circle cx="1538.4" cy="421.2" r="4.6" fill="#404588" stroke="#404588"/>
<circle cx="1567.5" cy="453.3" r="4.6" fill="#404588" stroke="#404588"/>
<circle cx="712.8" cy="633.8" r="4.6" fill="#404588" stroke="#404588"/>
<circle cx="714.5" cy="644.8" r="4.6" fill="#404588" stroke="#404588"/>
<circle cx="656.6" cy="686.1" r="4.6" fill="#404588" stroke="#404588"/>
<circle cx="717.5" cy="708.6" r="4.6" fill="#404588" stroke="#404588"/>
<circle cx="1017.9" cy="715.8" r="4.6" fill="#404588" stroke="#404588"/>
<circle cx="1097.9" cy="716.5" r="4.6" fill="#404588" stroke="#404588"/>
<circle cx="950.1" cy="749.2" r="4.6" fill="#404588" stroke="#404588"/>
<circle cx="950.1" cy="749.2" r="4.6" fill="#404588" stroke="#404588"/>
<circle cx="1068.0" cy="813.4" r="4.6" fill="#404588" stroke="#404588"/>
<circle cx="813.6" cy="818.8" r="4.6" fill="#404588" stroke="#404588"/>
<circle cx="1268.8" cy="628.2" r="4.6" fill="#404588" stroke="#404588"/>
<circle cx="1138.9" cy="650.2" r="4.6" fill="#404588" stroke="#404588"/>
<circle cx="1204.0" cy="688.3" r="4.6" fill="#404588" stroke="#404588"/>
<circle cx="1198.6" cy="716.2" r="4.6" fill="#404588" stroke="#404588"/>
<circle cx="1492.0" cy="609.9" r="4.6" fill="#404588" stroke="#404588"/>
<circle cx="1479.9" cy="615.5" r="4.6" fill="#404588" stroke="#404588"/>
<circle cx="475.5" cy="957.0" r="4.6" fill="#404588" stroke="#404588"/>
<circle cx="668.0" cy="962.9" r="4.6" fill="#404588" stroke="#404588"/>
<circle cx="712.3" cy="1052.6" r="4.6" fill="#404588" stroke="#404588"/>
<circle cx="761.0" cy="1046.2" r="4.6" fill="#404588" stroke="#404588"/>
<circle cx="750.9" cy="1070.4" r="4.6" fill="#404588" stroke="#404588"/>
<circle cx="1066.0" cy="878.7" r="4.6" fill="#404588" stroke="#404588"/>
<circle cx="886.3" cy="894.1" r="4.6" fill="#404588" stroke="#404588"/>
<circle cx="886.3" cy="894.1" r="4.6" fill="#404588" stroke="#404588"/>
<circle cx="800.1" cy="918.6" r="4.6" fill="#404588" stroke="#404588"/>
<circle cx="1118.4" cy="1100.0" r="4.6" fill="#404588" stroke="#404588"/>
<circle cx="1118.4" cy="1100.0" r="4.6" fill="#404588" stroke="#404588"/>
<circle cx="1136.8" cy="858.4" r="4.6" fill="#404588" stroke="#404588"/>
<circle cx="599.5" cy="1157.6" r="4.6" fill="#404588" stroke="#404588"/>
<circle cx="695.9" cy="1129.9" r="4.6" fill="#404588" stroke="#404588"/>
<circle cx="677.3" cy="1279.9" r="4.6" fill="#404588" stroke="#404588"/>
<circle cx="610.5" cy="1311.2" r="4.6" fill="#404588" stroke="#404588"/>
<circle cx="657.3" cy="1345.5" r="4.6" fill="#404588" stroke="#404588"/>
<circle cx="579.3" cy="258.2" r="4.6" fill="#3e4c8a" stroke="#3e4c8a"/>
<circle cx="637.0" cy="272.5" r="4.6" fill="#3e4c8a" stroke="#3e4c8a"/>
<circle cx="739.4" cy="219.2" r="4.6" fill="#3e4c8a" stroke="#3e4c8a"/>
<circle cx="892.4" cy="311.4" r="4.6" fill="#3e4c8a" stroke="#3e4c8a"/>
<circle cx="871.1" cy="336.0" r="4.6" fill="#3e4c8a" stroke="#3e4c8a"/>
<circle cx="1006.8" cy="400.9" r="4.6" fill="#3e4c8a" stroke="#3e4c8a"/>
<circle cx="904.9" cy="556.0" r="4.6" fill="#3e4c8a" stroke="#3e4c8a"/>
<circle cx="839.3" cy="564.1" r="4.6" fill="#3e4c8a" stroke="#3e4c8a"/>
<circle cx="1439.3" cy="450.3" r="4.6" fill="#3e4c8a" stroke="#3e4c8a"/>
<circle cx="1439.6" cy="459.3" r="4.6" fill="#3e4c8a" stroke="#3e4c8a"/>
<circle cx="1439.6" cy="459.3" r="4.6" fill="#3e4c8a" stroke="#3e4c8a"/>
<circle cx="1161.9" cy="569.2" r="4.6" fill="#3e4c8a" stroke="#3e4c8a"/>
<circle cx="1391.4" cy="570.9" r="4.6" fill="#3e4c8a" stroke="#3e4c8a"/>
<circle cx="1563.3" cy="461.8" r="4.6" fill="#3e4c8a" stroke="#3e4c8a"/>
<circle cx="867.7" cy="706.4" r="4.6" fill="#3e4c8a" stroke="#3e4c8a"/>
<circle cx="1121.5" cy="742.4" r="4.6" fill="#3e4c8a" stroke="#3e4c8a"/>
<circle cx="1202.5" cy="613.0" r="4.6" fill="#3e4c8a" stroke="#3e4c8a"/>
<circle cx="1135.7" cy="623.5" r="4.6" fill="#3e4c8a" stroke="#3e4c8a"/>
<circle cx="1132.1" cy="679.0" r="4.6" fill="#3e4c8a" stroke="#3e4c8a"/>
<circle cx="1389.7" cy="715.8" r="4.6" fill="#3e4c8a" stroke="#3e4c8a"/>
<circle cx="241.2" cy="923.5" r="4.6" fill="#3e4c8a" stroke="#3e4c8a"/>
<circle cx="731.9" cy="986.6" r="4.6" fill="#3e4c8a" stroke="#3e4c8a"/>
<circle cx="731.9" cy="986.6" r="4.6" fill="#3e4c8a" stroke="#3e4c8a"/>
<circle cx="791.5" cy="995.9" r="4.6" fill="#3e4c8a" stroke="#3e4c8a"/>
<circle cx="704.0" cy="915.9" r="4.6" fill="#3e4c8a" stroke="#3e4c8a"/>
<circle cx="693.9" cy="903.4" r="4.6" fill="#3e4c8a" stroke="#3e4c8a"/>
<circle cx="664.6" cy="1101.6" r="4.6" fill="#3e4c8a" stroke="#3e4c8a"/>
<circle cx="961.8" cy="921.5" r="4.6" fill="#3e4c8a" stroke="#3e4c8a"/>
<circle cx="755.8" cy="1240.2" r="4.6" fill="#3e4c8a" stroke="#3e4c8a"/>
<circle cx="623.7" cy="1300.7" r="4.6" fill="#3e4c8a" stroke="#3e4c8a"/>
<circle cx="630.9" cy="1336.2" r="4.6" fill="#3e4c8a" stroke="#3e4c8a"/>
<circle cx="555.3" cy="349.0" r="4.6" fill="#3c4f8a" stroke="#3c4f8a"/>
<circle cx="991.2" cy="319.4" r="4.6" fill="#3c4f8a" stroke="#3c4f8a"/>
<circle cx="1044.7" cy="325.8" r="4.6" fill="#3c4f8a" stroke="#3c4f8a"/>
<circle cx="1342.2" cy="298.7" r="4.6" fill="#3c4f8a" stroke="#3c4f8a"/>
<circle cx="396.5" cy="444.5" r="4.6" fill="#3c4f8a" stroke="#3c4f8a"/>
<circle cx="502.6" cy="532.8" r="4.6" fill="#3c4f8a" stroke="#3c4f8a"/>
<circle cx="768.6" cy="491.9" r="4.6" fill="#3c4f8a" stroke="#3c4f8a"/>
<circle cx="729.7" cy="488.9" r="4.6" fill="#3c4f8a" stroke="#3c4f8a"/>
<circle cx="729.7" cy="488.9" r="4.6" fill="#3c4f8a" stroke="#3c4f8a"/>
<circle cx="1082.2" cy="399.5" r="4.6" fill="#3c4f8a" stroke="#3c4f8a"/>
<circle cx="983.6" cy="392.9" r="4.6" fill="#3c4f8a" stroke="#3c4f8a"/>
<circle cx="833.9" cy="426.3" r="4.6" fill="#3c4f8a" stroke="#3c4f8a"/>
<circle cx="887.2" cy="425.4" r="4.6" fill="#3c4f8a" stroke="#3c4f8a"/>
<circle cx="1060.6" cy="442.3" r="4.6" fill="#3c4f8a" stroke="#3c4f8a"/>
<circle cx="996.3" cy="457.2" r="4.6" fill="#3c4f8a" stroke="#3c4f8a"/>
<circle cx="1023.3" cy="471.6" r="4.6" fill="#3c4f8a" stroke="#3c4f8a"/>
<circle cx="1082.6" cy="498.2" r="4.6" fill="#3c4f8a" stroke="#3c4f8a"/>
<circle cx="1029.1" cy="589.8" r="4.6" fill="#3c4f8a" stroke="#3c4f8a"/>
<circle cx="1414.6" cy="519.6" r="4.6" fill="#3c4f8a" stroke="#3c4f8a"/>
<circle cx="1418.1" cy="520.5" r="4.6" fill="#3c4f8a" stroke="#3c4f8a"/>
<circle cx="1271.3" cy="560.7" r="4.6" fill="#3c4f8a" stroke="#3c4f8a"/>
<circle cx="1424.4" cy="570.9" r="4.6" fill="#3c4f8a" stroke="#3c4f8a"/>
<circle cx="1470.6" cy="486.3" r="4.6" fill="#3c4f8a" stroke="#3c4f8a"/>
<circle cx="1485.8" cy="492.7" r="4.6" fill="#3c4f8a" stroke="#3c4f8a"/>
<circle cx="1485.8" cy="492.7" r="4.6" fill="#3c4f8a" stroke="#3c4f8a"/>
<circle cx="289.6" cy="739.7" r="4.6" fill="#3c4f8a" stroke="#3c4f8a"/>
<circle cx="456.0" cy="768.8" r="4.6" fill="#3c4f8a" stroke="#3c4f8a"/>
<circle cx="462.3" cy="777.1" r="4.6" fill="#3c4f8a" stroke="#3c4f8a"/>
<circle cx="229.4" cy="798.2" r="4.6" fill="#3c4f8a" stroke="#3c4f8a"/>
<circle cx="547.9" cy="741.5" r="4.6" fill="#3c4f8a" stroke="#3c4f8a"/>
<circle cx="668.0" cy="760.5" r="4.6" fill="#3c4f8a" stroke="#3c4f8a"/>
<circle cx="734.6" cy="748.8" r="4.6" fill="#3c4f8a" stroke="#3c4f8a"/>
<circle cx="734.6" cy="748.8" r="4.6" fill="#3c4f8a" stroke="#3c4f8a"/>
<circle cx="750.0" cy="795.3" r="4.6" fill="#3c4f8a" stroke="#3c4f8a"/>
<circle cx="780.5" cy="807.9" r="4.6" fill="#3c4f8a" stroke="#3c4f8a"/>
<circle cx="741.7" cy="696.0" r="4.6" fill="#3c4f8a" stroke="#3c4f8a"/>
<circle cx="754.6" cy="699.8" r="4.6" fill="#3c4f8a" stroke="#3c4f8a"/>
<circle cx="1013.2" cy="634.5" r="4.6" fill="#3c4f8a" stroke="#3c4f8a"/>
<circle cx="896.5" cy="642.3" r="4.6" fill="#3c4f8a" stroke="#3c4f8a"/>
<circle cx="898.5" cy="641.2" r="4.6" fill="#3c4f8a" stroke="#3c4f8a"/>
<circle cx="908.3" cy="658.2" r="4.6" fill="#3c4f8a" stroke="#3c4f8a"/>
<circle cx="1062.6" cy="694.2" r="4.6" fill="#3c4f8a" stroke="#3c4f8a"/>
<circle cx="1106.6" cy="679.1" r="4.6" fill="#3c4f8a" stroke="#3c4f8a"/>
<circle cx="826.8" cy="744.6" r="4.6" fill="#3c4f8a" stroke="#3c4f8a"/>
<circle cx="1104.9" cy="798.2" r="4.6" fill="#3c4f8a" stroke="#3c4f8a"/>
<circle cx="850.5" cy="796.9" r="4.6" fill="#3c4f8a" stroke="#3c4f8a"/>
<circle cx="850.5" cy="796.9" r="4.6" fill="#3c4f8a" stroke="#3c4f8a"/>
<circle cx="1067.8" cy="822.2" r="4.6" fill="#3c4f8a" stroke="#3c4f8a"/>
<circle cx="1152.1" cy="624.0" r="4.6" fill="#3c4f8a" stroke="#3c4f8a"/>
<circle cx="1298.4" cy="642.1" r="4.6" fill="#3c4f8a" stroke="#3c4f8a"/>
<circle cx="1252.2" cy="660.4" r="4.6" fill="#3c4f8a" stroke="#3c4f8a"/>
<circle cx="1178.8" cy="699.3" r="4.6" fill="#3c4f8a" stroke="#3c4f8a"/>
<circle cx="1134.0" cy="703.0" r="4.6" fill="#3c4f8a" stroke="#3c4f8a"/>
<circle cx="1397.0" cy="773.7" r="4.6" fill="#3c4f8a" stroke="#3c4f8a"/>
<circle cx="1289.1" cy="819.7" r="4.6" fill="#3c4f8a" stroke="#3c4f8a"/>
<circle cx="1292.5" cy="820.2" r="4.6" fill="#3c4f8a" stroke="#3c4f8a"/>
<circle cx="471.4" cy="899.0" r="4.6" fill="#3c4f8a" stroke="#3c4f8a"/>
<circle cx="744.8" cy="942.3" r="4.6" fill="#3c4f8a" stroke="#3c4f8a"/>
<circle cx="778.1" cy="945.7" r="4.6" fill="#3c4f8a" stroke="#3c4f8a"/>
<circle cx="633.3" cy="1299.4" r="4.6" fill="#3c4f8a" stroke="#3c4f8a"/>
<circle cx="624.8" cy="1306.1" r="4.6" fill="#3c4f8a" stroke="#3c4f8a"/>
<circle cx="631.4" cy="1313.7" r="4.6" fill="#3c4f8a" stroke="#3c4f8a"/>
<circle cx="646.8" cy="1296.8" r="4.6" fill="#3c4f8a" stroke="#3c4f8a"/>
<circle cx="645.5" cy="1323.4" r="4.6" fill="#3c4f8a" stroke="#3c4f8a"/>
<circle cx="637.0" cy="1326.4" r="4.6" fill="#3c4f8a" stroke="#3c4f8a"/>
<circle cx="650.6" cy="1334.5" r="4.6" fill="#3c4f8a" stroke="#3c4f8a"/>
<circle cx="1113.8" cy="1105.7" r="4.6" fill="#3c4f8a" stroke="#3c4f8a"/>
<circle cx="831.5" cy="137.6" r="4.6" fill="#3a538b" stroke="#3a538b"/>
<circle cx="830.7" cy="143.5" r="4.6" fill="#3a538b" stroke="#3a538b"/>
<circle cx="828.2" cy="160.4" r="4.6" fill="#3a538b" stroke="#3a538b"/>
<circle cx="826.5" cy="167.2" r="4.6" fill="#3a538b" stroke="#3a538b"/>
<circle cx="1099.5" cy="331.7" r="4.6" fill="#3a538b" stroke="#3a538b"/>
<circle cx="1102.0" cy="331.2" r="4.6" fill="#3a538b" stroke="#3a538b"/>
<circle cx="1280.3" cy="242.4" r="4.6" fill="#3a538b" stroke="#3a538b"/>
<circle cx="1346.4" cy="277.9" r="4.6" fill="#3a538b" stroke="#3a538b"/>
<circle cx="1346.4" cy="277.9" r="4.6" fill="#3a538b" stroke="#3a538b"/>
<circle cx="283.7" cy="533.2" r="4.6" fill="#3a538b" stroke="#3a538b"/>
<circle cx="306.5" cy="581.4" r="4.6" fill="#3a538b" stroke="#3a538b"/>
<circle cx="306.5" cy="581.4" r="4.6" fill="#3a538b" stroke="#3a538b"/>
<circle cx="918.5" cy="462.6" r="4.6" fill="#3a538b" stroke="#3a538b"/>
<circle cx="1320.7" cy="413.9" r="4.6" fill="#3a538b" stroke="#3a538b"/>
<circle cx="1271.1" cy="457.2" r="4.6" fill="#3a538b" stroke="#3a538b"/>
<circle cx="1432.0" cy="526.1" r="4.6" fill="#3a538b" stroke="#3a538b"/>
<circle cx="1432.0" cy="526.1" r="4.6" fill="#3a538b" stroke="#3a538b"/>
<circle cx="1555.1" cy="430.2" r="4.6" fill="#3a538b" stroke="#3a538b"/>
<circle cx="1558.5" cy="433.9" r="4.6" fill="#3a538b" stroke="#3a538b"/>
<circle cx="1546.3" cy="471.4" r="4.6" fill="#3a538b" stroke="#3a538b"/>
<circle cx="1543.3" cy="473.1" r="4.6" fill="#3a538b" stroke="#3a538b"/>
<circle cx="1532.8" cy="476.5" r="4.6" fill="#3a538b" stroke="#3a538b"/>
<circle cx="1478.3" cy="490.5" r="4.6" fill="#3a538b" stroke="#3a538b"/>
<circle cx="342.5" cy="637.9" r="4.6" fill="#3a538b" stroke="#3a538b"/>
<circle cx="710.3" cy="632.1" r="4.6" fill="#3a538b" stroke="#3a538b"/>
<circle cx="789.8" cy="807.5" r="4.6" fill="#3a538b" stroke="#3a538b"/>
<circle cx="809.2" cy="709.9" r="4.6" fill="#3a538b" stroke="#3a538b"/>
<circle cx="828.5" cy="747.8" r="4.6" fill="#3a538b" stroke="#3a538b"/>
<circle cx="1080.9" cy="826.1" r="4.6" fill="#3a538b" stroke="#3a538b"/>
<circle cx="1156.3" cy="630.8" r="4.6" fill="#3a538b" stroke="#3a538b"/>
<circle cx="1177.8" cy="704.3" r="4.6" fill="#3a538b" stroke="#3a538b"/>
<circle cx="1286.5" cy="695.9" r="4.6" fill="#3a538b" stroke="#3a538b"/>
<circle cx="1203.1" cy="738.5" r="4.6" fill="#3a538b" stroke="#3a538b"/>
<circle cx="1163.6" cy="820.4" r="4.6" fill="#3a538b" stroke="#3a538b"/>
<circle cx="533.3" cy="978.3" r="4.6" fill="#3a538b" stroke="#3a538b"/>
<circle cx="649.4" cy="1055.1" r="4.6" fill="#3a538b" stroke="#3a538b"/>
<circle cx="874.5" cy="885.1" r="4.6" fill="#3a538b" stroke="#3a538b"/>
<circle cx="799.2" cy="904.6" r="4.6" fill="#3a538b" stroke="#3a538b"/>
<circle cx="1016.8" cy="923.7" r="4.6" fill="#3a538b" stroke="#3a538b"/>
<circle cx="861.3" cy="948.6" r="4.6" fill="#3a538b" stroke="#3a538b"/>
<circle cx="970.9" cy="1050.1" r="4.6" fill="#3a538b" stroke="#3a538b"/>
<circle cx="1282.3" cy="863.5" r="4.6" fill="#3a538b" stroke="#3a538b"/>
<circle cx="1174.6" cy="934.2" r="4.6" fill="#3a538b" stroke="#3a538b"/>
<circle cx="650.6" cy="1286.7" r="4.6" fill="#3a538b" stroke="#3a538b"/>
<circle cx="645.1" cy="1301.1" r="4.6" fill="#3a538b" stroke="#3a538b"/>
<circle cx="657.0" cy="1297.7" r="4.6" fill="#3a538b" stroke="#3a538b"/>
<circle cx="649.4" cy="1313.7" r="4.6" fill="#3a538b" stroke="#3a538b"/>
<circle cx="669.7" cy="1310.4" r="4.6" fill="#3a538b" stroke="#3a538b"/>
<circle cx="665.4" cy="1313.7" r="4.6" fill="#3a538b" stroke="#3a538b"/>
<circle cx="659.5" cy="1316.8" r="4.6" fill="#3a538b" stroke="#3a538b"/>
<circle cx="654.4" cy="1320.2" r="4.6" fill="#3a538b" stroke="#3a538b"/>
<circle cx="665.4" cy="1326.9" r="4.6" fill="#3a538b" stroke="#3a538b"/>
<circle cx="931.7" cy="1149.3" r="4.6" fill="#3a538b" stroke="#3a538b"/>
<circle cx="1215.2" cy="283.0" r="4.6" fill="#38598c" stroke="#38598c"/>
<circle cx="1285.2" cy="249.4" r="4.6" fill="#38598c" stroke="#38598c"/>
<circle cx="1144.5" cy="349.0" r="4.6" fill="#38598c" stroke="#38598c"/>
<circle cx="550.4" cy="360.3" r="4.6" fill="#38598c" stroke="#38598c"/>
<circle cx="477.9" cy="501.5" r="4.6" fill="#38598c" stroke="#38598c"/>
<circle cx="781.8" cy="562.1" r="4.6" fill="#38598c" stroke="#38598c"/>
<circle cx="781.8" cy="562.1" r="4.6" fill="#38598c" stroke="#38598c"/>
<circle cx="732.3" cy="489.2" r="4.6" fill="#38598c" stroke="#38598c"/>
<circle cx="806.7" cy="434.9" r="4.6" fill="#38598c" stroke="#38598c"/>
<circle cx="1038.2" cy="482.1" r="4.6" fill="#38598c" stroke="#38598c"/>
<circle cx="1384.6" cy="557.0" r="4.6" fill="#38598c" stroke="#38598c"/>
<circle cx="1551.6" cy="568.7" r="4.6" fill="#38598c" stroke="#38598c"/>
<circle cx="627.4" cy="772.5" r="4.6" fill="#38598c" stroke="#38598c"/>
<circle cx="675.4" cy="788.9" r="4.6" fill="#38598c" stroke="#38598c"/>
<circle cx="685.9" cy="791.4" r="4.6" fill="#38598c" stroke="#38598c"/>
<circle cx="774.9" cy="807.2" r="4.6" fill="#38598c" stroke="#38598c"/>
<circle cx="1029.3" cy="627.7" r="4.6" fill="#38598c" stroke="#38598c"/>
<circle cx="1058.0" cy="743.7" r="4.6" fill="#38598c" stroke="#38598c"/>
<circle cx="1058.0" cy="743.7" r="4.6" fill="#38598c" stroke="#38598c"/>
<circle cx="1094.7" cy="785.0" r="4.6" fill="#38598c" stroke="#38598c"/>
<circle cx="1111.6" cy="818.0" r="4.6" fill="#38598c" stroke="#38598c"/>
<circle cx="1254.9" cy="609.3" r="4.6" fill="#38598c" stroke="#38598c"/>
<circle cx="1199.9" cy="635.0" r="4.6" fill="#38598c" stroke="#38598c"/>
<circle cx="1221.4" cy="641.2" r="4.6" fill="#38598c" stroke="#38598c"/>
<circle cx="1285.4" cy="662.9" r="4.6" fill="#38598c" stroke="#38598c"/>
<circle cx="606.7" cy="929.5" r="4.6" fill="#38598c" stroke="#38598c"/>
<circle cx="606.7" cy="929.5" r="4.6" fill="#38598c" stroke="#38598c"/>
<circle cx="766.6" cy="1011.5" r="4.6" fill="#38598c" stroke="#38598c"/>
<circle cx="762.0" cy="954.5" r="4.6" fill="#38598c" stroke="#38598c"/>
<circle cx="862.7" cy="885.6" r="4.6" fill="#38598c" stroke="#38598c"/>
<circle cx="1022.7" cy="968.5" r="4.6" fill="#38598c" stroke="#38598c"/>
<circle cx="1019.3" cy="1072.6" r="4.6" fill="#38598c" stroke="#38598c"/>
<circle cx="1139.4" cy="1008.3" r="4.6" fill="#38598c" stroke="#38598c"/>
<circle cx="1501.9" cy="888.4" r="4.6" fill="#38598c" stroke="#38598c"/>
<circle cx="522.5" cy="1120.9" r="4.6" fill="#38598c" stroke="#38598c"/>
<circle cx="672.7" cy="1106.0" r="4.6" fill="#38598c" stroke="#38598c"/>
<circle cx="672.7" cy="1106.0" r="4.6" fill="#38598c" stroke="#38598c"/>
<circle cx="652.8" cy="1308.7" r="4.6" fill="#38598c" stroke="#38598c"/>
<circle cx="643.5" cy="1312.4" r="4.6" fill="#38598c" stroke="#38598c"/>
<circle cx="1110.0" cy="1105.7" r="4.6" fill="#38598c" stroke="#38598c"/>
<circle cx="555.8" cy="318.9" r="4.6" fill="#355f8d" stroke="#355f8d"/>
<circle cx="1007.4" cy="280.6" r="4.6" fill="#355f8d" stroke="#355f8d"/>
<circle cx="1050.1" cy="314.8" r="4.6" fill="#355f8d" stroke="#355f8d"/>
<circle cx="1441.8" cy="343.2" r="4.6" fill="#355f8d" stroke="#355f8d"/>
<circle cx="1441.8" cy="343.2" r="4.6" fill="#355f8d" stroke="#355f8d"/>
<circle cx="460.6" cy="376.7" r="4.6" fill="#355f8d" stroke="#355f8d"/>
<circle cx="464.0" cy="472.4" r="4.6" fill="#355f8d" stroke="#355f8d"/>
<circle cx="296.0" cy="526.9" r="4.6" fill="#355f8d" stroke="#355f8d"/>
<circle cx="656.0" cy="502.9" r="4.6" fill="#355f8d" stroke="#355f8d"/>
<circle cx="775.4" cy="516.8" r="4.6" fill="#355f8d" stroke="#355f8d"/>
<circle cx="1167.6" cy="570.9" r="4.6" fill="#355f8d" stroke="#355f8d"/>
<circle cx="268.6" cy="609.6" r="4.6" fill="#355f8d" stroke="#355f8d"/>
<circle cx="276.7" cy="841.3" r="4.6" fill="#355f8d" stroke="#355f8d"/>
<circle cx="276.7" cy="841.3" r="4.6" fill="#355f8d" stroke="#355f8d"/>
<circle cx="535.7" cy="657.8" r="4.6" fill="#355f8d" stroke="#355f8d"/>
<circle cx="777.4" cy="766.9" r="4.6" fill="#355f8d" stroke="#355f8d"/>
<circle cx="742.9" cy="714.5" r="4.6" fill="#355f8d" stroke="#355f8d"/>
<circle cx="865.7" cy="620.6" r="4.6" fill="#355f8d" stroke="#355f8d"/>
<circle cx="1031.8" cy="784.2" r="4.6" fill="#355f8d" stroke="#355f8d"/>
<circle cx="1036.0" cy="782.3" r="4.6" fill="#355f8d" stroke="#355f8d"/>
<circle cx="1122.3" cy="772.8" r="4.6" fill="#355f8d" stroke="#355f8d"/>
<circle cx="1282.3" cy="675.1" r="4.6" fill="#355f8d" stroke="#355f8d"/>
<circle cx="1275.5" cy="714.0" r="4.6" fill="#355f8d" stroke="#355f8d"/>
<circle cx="1214.6" cy="824.9" r="4.6" fill="#355f8d" stroke="#355f8d"/>
<circle cx="1214.6" cy="824.9" r="4.6" fill="#355f8d" stroke="#355f8d"/>
<circle cx="1329.0" cy="827.3" r="4.6" fill="#355f8d" stroke="#355f8d"/>
<circle cx="426.4" cy="861.5" r="4.6" fill="#355f8d" stroke="#355f8d"/>
<circle cx="517.9" cy="886.0" r="4.6" fill="#355f8d" stroke="#355f8d"/>
<circle cx="693.7" cy="1000.2" r="4.6" fill="#355f8d" stroke="#355f8d"/>
<circle cx="740.7" cy="925.2" r="4.6" fill="#355f8d" stroke="#355f8d"/>
<circle cx="718.2" cy="1047.5" r="4.6" fill="#355f8d" stroke="#355f8d"/>
<circle cx="1111.3" cy="939.3" r="4.6" fill="#355f8d" stroke="#355f8d"/>
<circle cx="839.5" cy="1034.7" r="4.6" fill="#355f8d" stroke="#355f8d"/>
<circle cx="1208.9" cy="869.9" r="4.6" fill="#355f8d" stroke="#355f8d"/>
<circle cx="1208.9" cy="869.9" r="4.6" fill="#355f8d" stroke="#355f8d"/>
<circle cx="1153.1" cy="1016.7" r="4.6" fill="#355f8d" stroke="#355f8d"/>
<circle cx="659.2" cy="1306.1" r="4.6" fill="#355f8d" stroke="#355f8d"/>
<circle cx="726.8" cy="216.4" r="4.6" fill="#31668e" stroke="#31668e"/>
<circle cx="728.9" cy="217.1" r="4.6" fill="#31668e" stroke="#31668e"/>
<circle cx="994.1" cy="145.3" r="4.6" fill="#31668e" stroke="#31668e"/>
<circle cx="994.1" cy="145.3" r="4.6" fill="#31668e" stroke="#31668e"/>
<circle cx="1010.7" cy="278.1" r="4.6" fill="#31668e" stroke="#31668e"/>
<circle cx="799.7" cy="339.9" r="4.6" fill="#31668e" stroke="#31668e"/>
<circle cx="799.7" cy="339.9" r="4.6" fill="#31668e" stroke="#31668e"/>
<circle cx="1052.4" cy="304.8" r="4.6" fill="#31668e" stroke="#31668e"/>
<circle cx="1052.4" cy="304.8" r="4.6" fill="#31668e" stroke="#31668e"/>
<circle cx="1093.7" cy="317.7" r="4.6" fill="#31668e" stroke="#31668e"/>
<circle cx="1104.9" cy="330.4" r="4.6" fill="#31668e" stroke="#31668e"/>
<circle cx="1257.6" cy="282.3" r="4.6" fill="#31668e" stroke="#31668e"/>
<circle cx="1257.6" cy="282.3" r="4.6" fill="#31668e" stroke="#31668e"/>
<circle cx="546.5" cy="414.9" r="4.6" fill="#31668e" stroke="#31668e"/>
<circle cx="611.5" cy="490.0" r="4.6" fill="#31668e" stroke="#31668e"/>
<circle cx="472.4" cy="585.6" r="4.6" fill="#31668e" stroke="#31668e"/>
<circle cx="1081.2" cy="364.2" r="4.6" fill="#31668e" stroke="#31668e"/>
<circle cx="1097.3" cy="386.5" r="4.6" fill="#31668e" stroke="#31668e"/>
<circle cx="987.5" cy="393.8" r="4.6" fill="#31668e" stroke="#31668e"/>
<circle cx="1084.4" cy="502.0" r="4.6" fill="#31668e" stroke="#31668e"/>
<circle cx="1117.7" cy="508.3" r="4.6" fill="#31668e" stroke="#31668e"/>
<circle cx="1117.7" cy="508.3" r="4.6" fill="#31668e" stroke="#31668e"/>
<circle cx="1105.2" cy="539.9" r="4.6" fill="#31668e" stroke="#31668e"/>
<circle cx="1264.0" cy="374.3" r="4.6" fill="#31668e" stroke="#31668e"/>
<circle cx="1132.8" cy="521.8" r="4.6" fill="#31668e" stroke="#31668e"/>
<circle cx="1173.2" cy="568.0" r="4.6" fill="#31668e" stroke="#31668e"/>
<circle cx="1475.6" cy="600.5" r="4.6" fill="#31668e" stroke="#31668e"/>
<circle cx="300.8" cy="767.3" r="4.6" fill="#31668e" stroke="#31668e"/>
<circle cx="189.1" cy="805.0" r="4.6" fill="#31668e" stroke="#31668e"/>
<circle cx="456.4" cy="799.1" r="4.6" fill="#31668e" stroke="#31668e"/>
<circle cx="469.2" cy="779.3" r="4.6" fill="#31668e" stroke="#31668e"/>
<circle cx="1061.4" cy="632.8" r="4.6" fill="#31668e" stroke="#31668e"/>
<circle cx="813.1" cy="699.8" r="4.6" fill="#31668e" stroke="#31668e"/>
<circle cx="837.3" cy="758.8" r="4.6" fill="#31668e" stroke="#31668e"/>
<circle cx="1068.2" cy="775.4" r="4.6" fill="#31668e" stroke="#31668e"/>
<circle cx="833.1" cy="838.3" r="4.6" fill="#31668e" stroke="#31668e"/>
<circle cx="1276.0" cy="709.9" r="4.6" fill="#31668e" stroke="#31668e"/>
<circle cx="1249.7" cy="726.7" r="4.6" fill="#31668e" stroke="#31668e"/>
<circle cx="1396.5" cy="779.6" r="4.6" fill="#31668e" stroke="#31668e"/>
<circle cx="1490.5" cy="770.6" r="4.6" fill="#31668e" stroke="#31668e"/>
<circle cx="389.9" cy="901.5" r="4.6" fill="#31668e" stroke="#31668e"/>
<circle cx="431.0" cy="927.9" r="4.6" fill="#31668e" stroke="#31668e"/>
<circle cx="678.0" cy="912.2" r="4.6" fill="#31668e" stroke="#31668e"/>
<circle cx="524.0" cy="1132.8" r="4.6" fill="#31668e" stroke="#31668e"/>
<circle cx="667.6" cy="218.9" r="4.6" fill="#2f6c8e" stroke="#2f6c8e"/>
<circle cx="711.6" cy="213.3" r="4.6" fill="#2f6c8e" stroke="#2f6c8e"/>
<circle cx="711.6" cy="213.3" r="4.6" fill="#2f6c8e" stroke="#2f6c8e"/>
<circle cx="1096.1" cy="332.6" r="4.6" fill="#2f6c8e" stroke="#2f6c8e"/>
<circle cx="1134.5" cy="346.1" r="4.6" fill="#2f6c8e" stroke="#2f6c8e"/>
<circle cx="435.4" cy="477.5" r="4.6" fill="#2f6c8e" stroke="#2f6c8e"/>
<circle cx="290.6" cy="557.4" r="4.6" fill="#2f6c8e" stroke="#2f6c8e"/>
<circle cx="485.8" cy="535.7" r="4.6" fill="#2f6c8e" stroke="#2f6c8e"/>
<circle cx="610.8" cy="569.2" r="4.6" fill="#2f6c8e" stroke="#2f6c8e"/>
<circle cx="1079.7" cy="356.9" r="4.6" fill="#2f6c8e" stroke="#2f6c8e"/>
<circle cx="835.1" cy="420.0" r="4.6" fill="#2f6c8e" stroke="#2f6c8e"/>
<circle cx="844.1" cy="423.7" r="4.6" fill="#2f6c8e" stroke="#2f6c8e"/>
<circle cx="825.1" cy="513.0" r="4.6" fill="#2f6c8e" stroke="#2f6c8e"/>
<circle cx="825.1" cy="513.0" r="4.6" fill="#2f6c8e" stroke="#2f6c8e"/>
<circle cx="943.5" cy="515.9" r="4.6" fill="#2f6c8e" stroke="#2f6c8e"/>
<circle cx="1255.4" cy="363.2" r="4.6" fill="#2f6c8e" stroke="#2f6c8e"/>
<circle cx="1308.4" cy="389.9" r="4.6" fill="#2f6c8e" stroke="#2f6c8e"/>
<circle cx="408.7" cy="603.7" r="4.6" fill="#2f6c8e" stroke="#2f6c8e"/>
<circle cx="461.5" cy="621.5" r="4.6" fill="#2f6c8e" stroke="#2f6c8e"/>
<circle cx="305.7" cy="747.0" r="4.6" fill="#2f6c8e" stroke="#2f6c8e"/>
<circle cx="311.3" cy="750.2" r="4.6" fill="#2f6c8e" stroke="#2f6c8e"/>
<circle cx="330.0" cy="753.4" r="4.6" fill="#2f6c8e" stroke="#2f6c8e"/>
<circle cx="422.0" cy="767.8" r="4.6" fill="#2f6c8e" stroke="#2f6c8e"/>
<circle cx="547.0" cy="637.9" r="4.6" fill="#2f6c8e" stroke="#2f6c8e"/>
<circle cx="476.8" cy="849.8" r="4.6" fill="#2f6c8e" stroke="#2f6c8e"/>
<circle cx="633.0" cy="776.2" r="4.6" fill="#2f6c8e" stroke="#2f6c8e"/>
<circle cx="1075.1" cy="704.5" r="4.6" fill="#2f6c8e" stroke="#2f6c8e"/>
<circle cx="1075.1" cy="704.5" r="4.6" fill="#2f6c8e" stroke="#2f6c8e"/>
<circle cx="1358.1" cy="605.4" r="4.6" fill="#2f6c8e" stroke="#2f6c8e"/>
<circle cx="1152.9" cy="727.5" r="4.6" fill="#2f6c8e" stroke="#2f6c8e"/>
<circle cx="1302.3" cy="724.1" r="4.6" fill="#2f6c8e" stroke="#2f6c8e"/>
<circle cx="1302.3" cy="724.1" r="4.6" fill="#2f6c8e" stroke="#2f6c8e"/>
<circle cx="1292.5" cy="749.7" r="4.6" fill="#2f6c8e" stroke="#2f6c8e"/>
<circle cx="1490.9" cy="614.2" r="4.6" fill="#2f6c8e" stroke="#2f6c8e"/>
<circle cx="1540.9" cy="728.0" r="4.6" fill="#2f6c8e" stroke="#2f6c8e"/>
<circle cx="1485.4" cy="767.8" r="4.6" fill="#2f6c8e" stroke="#2f6c8e"/>
<circle cx="409.5" cy="893.6" r="4.6" fill="#2f6c8e" stroke="#2f6c8e"/>
<circle cx="679.8" cy="961.8" r="4.6" fill="#2f6c8e" stroke="#2f6c8e"/>
<circle cx="755.9" cy="868.2" r="4.6" fill="#2f6c8e" stroke="#2f6c8e"/>
<circle cx="1187.2" cy="883.1" r="4.6" fill="#2f6c8e" stroke="#2f6c8e"/>
<circle cx="558.0" cy="1167.8" r="4.6" fill="#2f6c8e" stroke="#2f6c8e"/>
<circle cx="896.2" cy="1176.4" r="4.6" fill="#2f6c8e" stroke="#2f6c8e"/>
<circle cx="892.3" cy="1177.6" r="4.6" fill="#2f6c8e" stroke="#2f6c8e"/>
<circle cx="578.8" cy="304.7" r="4.6" fill="#2c728e" stroke="#2c728e"/>
<circle cx="578.8" cy="304.7" r="4.6" fill="#2c728e" stroke="#2c728e"/>
<circle cx="1000.7" cy="279.8" r="4.6" fill="#2c728e" stroke="#2c728e"/>
<circle cx="969.2" cy="322.1" r="4.6" fill="#2c728e" stroke="#2c728e"/>
<circle cx="301.6" cy="549.2" r="4.6" fill="#2c728e" stroke="#2c728e"/>
<circle cx="305.7" cy="559.6" r="4.6" fill="#2c728e" stroke="#2c728e"/>
<circle cx="573.4" cy="564.1" r="4.6" fill="#2c728e" stroke="#2c728e"/>
<circle cx="752.4" cy="484.6" r="4.6" fill="#2c728e" stroke="#2c728e"/>
<circle cx="752.4" cy="484.6" r="4.6" fill="#2c728e" stroke="#2c728e"/>
<circle cx="1098.1" cy="401.1" r="4.6" fill="#2c728e" stroke="#2c728e"/>
<circle cx="1040.6" cy="484.3" r="4.6" fill="#2c728e" stroke="#2c728e"/>
<circle cx="1271.8" cy="393.3" r="4.6" fill="#2c728e" stroke="#2c728e"/>
<circle cx="1152.9" cy="423.4" r="4.6" fill="#2c728e" stroke="#2c728e"/>
<circle cx="1135.1" cy="486.8" r="4.6" fill="#2c728e" stroke="#2c728e"/>
<circle cx="1135.1" cy="486.8" r="4.6" fill="#2c728e" stroke="#2c728e"/>
<circle cx="243.3" cy="660.9" r="4.6" fill="#2c728e" stroke="#2c728e"/>
<circle cx="374.0" cy="704.7" r="4.6" fill="#2c728e" stroke="#2c728e"/>
<circle cx="448.9" cy="705.5" r="4.6" fill="#2c728e" stroke="#2c728e"/>
<circle cx="448.9" cy="705.5" r="4.6" fill="#2c728e" stroke="#2c728e"/>
<circle cx="585.1" cy="648.2" r="4.6" fill="#2c728e" stroke="#2c728e"/>
<circle cx="547.2" cy="759.6" r="4.6" fill="#2c728e" stroke="#2c728e"/>
<circle cx="505.6" cy="795.7" r="4.6" fill="#2c728e" stroke="#2c728e"/>
<circle cx="982.2" cy="612.1" r="4.6" fill="#2c728e" stroke="#2c728e"/>
<circle cx="1035.2" cy="670.5" r="4.6" fill="#2c728e" stroke="#2c728e"/>
<circle cx="1114.4" cy="763.5" r="4.6" fill="#2c728e" stroke="#2c728e"/>
<circle cx="837.8" cy="738.3" r="4.6" fill="#2c728e" stroke="#2c728e"/>
<circle cx="894.0" cy="829.2" r="4.6" fill="#2c728e" stroke="#2c728e"/>
<circle cx="894.0" cy="829.2" r="4.6" fill="#2c728e" stroke="#2c728e"/>
<circle cx="1140.2" cy="633.8" r="4.6" fill="#2c728e" stroke="#2c728e"/>
<circle cx="1265.1" cy="652.4" r="4.6" fill="#2c728e" stroke="#2c728e"/>
<circle cx="1179.1" cy="695.0" r="4.6" fill="#2c728e" stroke="#2c728e"/>
<circle cx="1287.0" cy="712.8" r="4.6" fill="#2c728e" stroke="#2c728e"/>
<circle cx="1327.5" cy="766.1" r="4.6" fill="#2c728e" stroke="#2c728e"/>
<circle cx="1548.5" cy="741.7" r="4.6" fill="#2c728e" stroke="#2c728e"/>
<circle cx="347.3" cy="856.7" r="4.6" fill="#2c728e" stroke="#2c728e"/>
<circle cx="482.4" cy="905.4" r="4.6" fill="#2c728e" stroke="#2c728e"/>
<circle cx="1013.2" cy="866.0" r="4.6" fill="#2c728e" stroke="#2c728e"/>
<circle cx="531.5" cy="1129.7" r="4.6" fill="#2c728e" stroke="#2c728e"/>
<circle cx="576.1" cy="1147.6" r="4.6" fill="#2c728e" stroke="#2c728e"/>
<circle cx="692.5" cy="1125.7" r="4.6" fill="#2c728e" stroke="#2c728e"/>
<circle cx="675.3" cy="1324.2" r="4.6" fill="#2c728e" stroke="#2c728e"/>
<circle cx="717.9" cy="214.7" r="4.6" fill="#2a788e" stroke="#2a788e"/>
<circle cx="819.5" cy="169.7" r="4.6" fill="#2a788e" stroke="#2a788e"/>
<circle cx="1015.7" cy="270.3" r="4.6" fill="#2a788e" stroke="#2a788e"/>
<circle cx="871.6" cy="323.3" r="4.6" fill="#2a788e" stroke="#2a788e"/>
<circle cx="1339.8" cy="308.4" r="4.6" fill="#2a788e" stroke="#2a788e"/>
<circle cx="443.5" cy="387.9" r="4.6" fill="#2a788e" stroke="#2a788e"/>
<circle cx="388.2" cy="428.5" r="4.6" fill="#2a788e" stroke="#2a788e"/>
<circle cx="396.2" cy="473.6" r="4.6" fill="#2a788e" stroke="#2a788e"/>
<circle cx="384.0" cy="511.0" r="4.6" fill="#2a788e" stroke="#2a788e"/>
<circle cx="419.5" cy="550.6" r="4.6" fill="#2a788e" stroke="#2a788e"/>
<circle cx="301.3" cy="527.8" r="4.6" fill="#2a788e" stroke="#2a788e"/>
<circle cx="326.3" cy="543.0" r="4.6" fill="#2a788e" stroke="#2a788e"/>
<circle cx="529.3" cy="404.6" r="4.6" fill="#2a788e" stroke="#2a788e"/>
<circle cx="874.0" cy="486.3" r="4.6" fill="#2a788e" stroke="#2a788e"/>
<circle cx="993.9" cy="532.8" r="4.6" fill="#2a788e" stroke="#2a788e"/>
<circle cx="958.2" cy="549.7" r="4.6" fill="#2a788e" stroke="#2a788e"/>
<circle cx="958.2" cy="549.7" r="4.6" fill="#2a788e" stroke="#2a788e"/>
<circle cx="917.3" cy="567.0" r="4.6" fill="#2a788e" stroke="#2a788e"/>
<circle cx="917.3" cy="567.0" r="4.6" fill="#2a788e" stroke="#2a788e"/>
<circle cx="1277.6" cy="386.9" r="4.6" fill="#2a788e" stroke="#2a788e"/>
<circle cx="1217.2" cy="534.2" r="4.6" fill="#2a788e" stroke="#2a788e"/>
<circle cx="1401.4" cy="568.0" r="4.6" fill="#2a788e" stroke="#2a788e"/>
<circle cx="1460.6" cy="378.9" r="4.6" fill="#2a788e" stroke="#2a788e"/>
<circle cx="1541.3" cy="422.4" r="4.6" fill="#2a788e" stroke="#2a788e"/>
<circle cx="244.6" cy="651.1" r="4.6" fill="#2a788e" stroke="#2a788e"/>
<circle cx="244.6" cy="651.1" r="4.6" fill="#2a788e" stroke="#2a788e"/>
<circle cx="243.6" cy="671.0" r="4.6" fill="#2a788e" stroke="#2a788e"/>
<circle cx="243.6" cy="671.0" r="4.6" fill="#2a788e" stroke="#2a788e"/>
<circle cx="167.1" cy="800.2" r="4.6" fill="#2a788e" stroke="#2a788e"/>
<circle cx="170.2" cy="801.3" r="4.6" fill="#2a788e" stroke="#2a788e"/>
<circle cx="446.2" cy="828.7" r="4.6" fill="#2a788e" stroke="#2a788e"/>
<circle cx="679.8" cy="604.5" r="4.6" fill="#2a788e" stroke="#2a788e"/>
<circle cx="784.7" cy="812.6" r="4.6" fill="#2a788e" stroke="#2a788e"/>
<circle cx="1087.3" cy="607.1" r="4.6" fill="#2a788e" stroke="#2a788e"/>
<circle cx="920.2" cy="654.1" r="4.6" fill="#2a788e" stroke="#2a788e"/>
<circle cx="827.1" cy="762.7" r="4.6" fill="#2a788e" stroke="#2a788e"/>
<circle cx="1097.4" cy="835.8" r="4.6" fill="#2a788e" stroke="#2a788e"/>
<circle cx="1419.0" cy="612.1" r="4.6" fill="#2a788e" stroke="#2a788e"/>
<circle cx="1368.2" cy="625.2" r="4.6" fill="#2a788e" stroke="#2a788e"/>
<circle cx="1178.8" cy="728.4" r="4.6" fill="#2a788e" stroke="#2a788e"/>
<circle cx="1228.9" cy="741.5" r="4.6" fill="#2a788e" stroke="#2a788e"/>
<circle cx="1228.9" cy="741.5" r="4.6" fill="#2a788e" stroke="#2a788e"/>
<circle cx="1189.6" cy="785.2" r="4.6" fill="#2a788e" stroke="#2a788e"/>
<circle cx="1189.6" cy="785.2" r="4.6" fill="#2a788e" stroke="#2a788e"/>
<circle cx="1136.8" cy="810.9" r="4.6" fill="#2a788e" stroke="#2a788e"/>
<circle cx="570.2" cy="858.1" r="4.6" fill="#2a788e" stroke="#2a788e"/>
<circle cx="502.7" cy="1045.0" r="4.6" fill="#2a788e" stroke="#2a788e"/>
<circle cx="606.4" cy="977.7" r="4.6" fill="#2a788e" stroke="#2a788e"/>
<circle cx="762.2" cy="906.1" r="4.6" fill="#2a788e" stroke="#2a788e"/>
<circle cx="762.2" cy="906.1" r="4.6" fill="#2a788e" stroke="#2a788e"/>
<circle cx="811.6" cy="897.7" r="4.6" fill="#2a788e" stroke="#2a788e"/>
<circle cx="967.2" cy="910.5" r="4.6" fill="#2a788e" stroke="#2a788e"/>
<circle cx="1014.6" cy="955.3" r="4.6" fill="#2a788e" stroke="#2a788e"/>
<circle cx="970.7" cy="983.6" r="4.6" fill="#2a788e" stroke="#2a788e"/>
<circle cx="970.7" cy="983.6" r="4.6" fill="#2a788e" stroke="#2a788e"/>
<circle cx="1163.1" cy="860.3" r="4.6" fill="#2a788e" stroke="#2a788e"/>
<circle cx="1163.1" cy="860.3" r="4.6" fill="#2a788e" stroke="#2a788e"/>
<circle cx="908.3" cy="1172.3" r="4.6" fill="#2a788e" stroke="#2a788e"/>
<circle cx="908.3" cy="1172.3" r="4.6" fill="#2a788e" stroke="#2a788e"/>
<circle cx="389.2" cy="454.7" r="4.6" fill="#277e8e" stroke="#277e8e"/>
<circle cx="435.9" cy="458.1" r="4.6" fill="#277e8e" stroke="#277e8e"/>
<circle cx="377.2" cy="539.6" r="4.6" fill="#277e8e" stroke="#277e8e"/>
<circle cx="293.0" cy="543.0" r="4.6" fill="#277e8e" stroke="#277e8e"/>
<circle cx="297.4" cy="548.1" r="4.6" fill="#277e8e" stroke="#277e8e"/>
<circle cx="281.1" cy="560.2" r="4.6" fill="#277e8e" stroke="#277e8e"/>
<circle cx="528.9" cy="446.6" r="4.6" fill="#277e8e" stroke="#277e8e"/>
<circle cx="614.4" cy="521.0" r="4.6" fill="#277e8e" stroke="#277e8e"/>
<circle cx="507.5" cy="586.6" r="4.6" fill="#277e8e" stroke="#277e8e"/>
<circle cx="817.5" cy="417.8" r="4.6" fill="#277e8e" stroke="#277e8e"/>
<circle cx="837.3" cy="432.2" r="4.6" fill="#277e8e" stroke="#277e8e"/>
<circle cx="1057.7" cy="443.7" r="4.6" fill="#277e8e" stroke="#277e8e"/>
<circle cx="1045.3" cy="490.9" r="4.6" fill="#277e8e" stroke="#277e8e"/>
<circle cx="1099.1" cy="578.8" r="4.6" fill="#277e8e" stroke="#277e8e"/>
<circle cx="1116.0" cy="595.8" r="4.6" fill="#277e8e" stroke="#277e8e"/>
<circle cx="1296.0" cy="460.1" r="4.6" fill="#277e8e" stroke="#277e8e"/>
<circle cx="1296.0" cy="460.1" r="4.6" fill="#277e8e" stroke="#277e8e"/>
<circle cx="1207.5" cy="567.8" r="4.6" fill="#277e8e" stroke="#277e8e"/>
<circle cx="265.6" cy="614.7" r="4.6" fill="#277e8e" stroke="#277e8e"/>
<circle cx="452.7" cy="703.5" r="4.6" fill="#277e8e" stroke="#277e8e"/>
<circle cx="223.1" cy="754.6" r="4.6" fill="#277e8e" stroke="#277e8e"/>
<circle cx="163.4" cy="799.1" r="4.6" fill="#277e8e" stroke="#277e8e"/>
<circle cx="490.0" cy="712.5" r="4.6" fill="#277e8e" stroke="#277e8e"/>
<circle cx="479.9" cy="784.2" r="4.6" fill="#277e8e" stroke="#277e8e"/>
<circle cx="604.9" cy="835.4" r="4.6" fill="#277e8e" stroke="#277e8e"/>
<circle cx="545.7" cy="841.9" r="4.6" fill="#277e8e" stroke="#277e8e"/>
<circle cx="545.7" cy="841.9" r="4.6" fill="#277e8e" stroke="#277e8e"/>
<circle cx="676.1" cy="734.8" r="4.6" fill="#277e8e" stroke="#277e8e"/>
<circle cx="1080.2" cy="631.1" r="4.6" fill="#277e8e" stroke="#277e8e"/>
<circle cx="1025.9" cy="725.5" r="4.6" fill="#277e8e" stroke="#277e8e"/>
<circle cx="1105.9" cy="780.5" r="4.6" fill="#277e8e" stroke="#277e8e"/>
<circle cx="1011.5" cy="807.5" r="4.6" fill="#277e8e" stroke="#277e8e"/>
<circle cx="938.4" cy="803.3" r="4.6" fill="#277e8e" stroke="#277e8e"/>
<circle cx="1067.3" cy="811.7" r="4.6" fill="#277e8e" stroke="#277e8e"/>
<circle cx="1067.3" cy="811.7" r="4.6" fill="#277e8e" stroke="#277e8e"/>
<circle cx="858.9" cy="831.5" r="4.6" fill="#277e8e" stroke="#277e8e"/>
<circle cx="1240.5" cy="620.6" r="4.6" fill="#277e8e" stroke="#277e8e"/>
<circle cx="1239.3" cy="643.1" r="4.6" fill="#277e8e" stroke="#277e8e"/>
<circle cx="1239.3" cy="643.1" r="4.6" fill="#277e8e" stroke="#277e8e"/>
<circle cx="1337.4" cy="649.9" r="4.6" fill="#277e8e" stroke="#277e8e"/>
<circle cx="1224.3" cy="664.8" r="4.6" fill="#277e8e" stroke="#277e8e"/>
<circle cx="1128.4" cy="684.4" r="4.6" fill="#277e8e" stroke="#277e8e"/>
<circle cx="1341.0" cy="697.1" r="4.6" fill="#277e8e" stroke="#277e8e"/>
<circle cx="1270.5" cy="703.8" r="4.6" fill="#277e8e" stroke="#277e8e"/>
<circle cx="1369.9" cy="767.4" r="4.6" fill="#277e8e" stroke="#277e8e"/>
<circle cx="1315.8" cy="792.8" r="4.6" fill="#277e8e" stroke="#277e8e"/>
<circle cx="447.2" cy="1057.7" r="4.6" fill="#277e8e" stroke="#277e8e"/>
<circle cx="446.6" cy="1065.8" r="4.6" fill="#277e8e" stroke="#277e8e"/>
<circle cx="446.6" cy="1065.8" r="4.6" fill="#277e8e" stroke="#277e8e"/>
<circle cx="523.0" cy="890.2" r="4.6" fill="#277e8e" stroke="#277e8e"/>
<circle cx="501.4" cy="896.1" r="4.6" fill="#277e8e" stroke="#277e8e"/>
<circle cx="736.5" cy="1074.9" r="4.6" fill="#277e8e" stroke="#277e8e"/>
<circle cx="869.8" cy="873.6" r="4.6" fill="#277e8e" stroke="#277e8e"/>
<circle cx="1185.9" cy="885.5" r="4.6" fill="#277e8e" stroke="#277e8e"/>
<circle cx="517.4" cy="1111.4" r="4.6" fill="#277e8e" stroke="#277e8e"/>
<circle cx="538.1" cy="266.6" r="4.6" fill="#25848e" stroke="#25848e"/>
<circle cx="832.2" cy="175.6" r="4.6" fill="#25848e" stroke="#25848e"/>
<circle cx="881.6" cy="333.4" r="4.6" fill="#25848e" stroke="#25848e"/>
<circle cx="1334.7" cy="251.9" r="4.6" fill="#25848e" stroke="#25848e"/>
<circle cx="1334.7" cy="348.6" r="4.6" fill="#25848e" stroke="#25848e"/>
<circle cx="422.2" cy="445.2" r="4.6" fill="#25848e" stroke="#25848e"/>
<circle cx="382.3" cy="583.9" r="4.6" fill="#25848e" stroke="#25848e"/>
<circle cx="459.9" cy="590.3" r="4.6" fill="#25848e" stroke="#25848e"/>
<circle cx="284.4" cy="538.8" r="4.6" fill="#25848e" stroke="#25848e"/>
<circle cx="308.9" cy="546.4" r="4.6" fill="#25848e" stroke="#25848e"/>
<circle cx="489.2" cy="382.0" r="4.6" fill="#25848e" stroke="#25848e"/>
<circle cx="597.3" cy="472.4" r="4.6" fill="#25848e" stroke="#25848e"/>
<circle cx="617.6" cy="505.8" r="4.6" fill="#25848e" stroke="#25848e"/>
<circle cx="600.0" cy="525.6" r="4.6" fill="#25848e" stroke="#25848e"/>
<circle cx="516.6" cy="519.3" r="4.6" fill="#25848e" stroke="#25848e"/>
<circle cx="700.6" cy="418.7" r="4.6" fill="#25848e" stroke="#25848e"/>
<circle cx="826.8" cy="422.4" r="4.6" fill="#25848e" stroke="#25848e"/>
<circle cx="831.4" cy="428.8" r="4.6" fill="#25848e" stroke="#25848e"/>
<circle cx="896.5" cy="551.4" r="4.6" fill="#25848e" stroke="#25848e"/>
<circle cx="1113.8" cy="593.7" r="4.6" fill="#25848e" stroke="#25848e"/>
<circle cx="1130.4" cy="489.4" r="4.6" fill="#25848e" stroke="#25848e"/>
<circle cx="1169.0" cy="521.5" r="4.6" fill="#25848e" stroke="#25848e"/>
<circle cx="1146.1" cy="596.6" r="4.6" fill="#25848e" stroke="#25848e"/>
<circle cx="1564.6" cy="562.4" r="4.6" fill="#25848e" stroke="#25848e"/>
<circle cx="1564.6" cy="562.4" r="4.6" fill="#25848e" stroke="#25848e"/>
<circle cx="1569.3" cy="575.6" r="4.6" fill="#25848e" stroke="#25848e"/>
<circle cx="1492.6" cy="595.1" r="4.6" fill="#25848e" stroke="#25848e"/>
<circle cx="767.8" cy="636.7" r="4.6" fill="#25848e" stroke="#25848e"/>
<circle cx="767.8" cy="636.7" r="4.6" fill="#25848e" stroke="#25848e"/>
<circle cx="514.4" cy="827.5" r="4.6" fill="#25848e" stroke="#25848e"/>
<circle cx="1087.3" cy="686.6" r="4.6" fill="#25848e" stroke="#25848e"/>
<circle cx="1104.4" cy="698.1" r="4.6" fill="#25848e" stroke="#25848e"/>
<circle cx="987.8" cy="796.2" r="4.6" fill="#25848e" stroke="#25848e"/>
<circle cx="1385.5" cy="671.4" r="4.6" fill="#25848e" stroke="#25848e"/>
<circle cx="1351.3" cy="703.0" r="4.6" fill="#25848e" stroke="#25848e"/>
<circle cx="1351.3" cy="703.0" r="4.6" fill="#25848e" stroke="#25848e"/>
<circle cx="1312.2" cy="739.0" r="4.6" fill="#25848e" stroke="#25848e"/>
<circle cx="1312.2" cy="739.0" r="4.6" fill="#25848e" stroke="#25848e"/>
<circle cx="403.1" cy="895.8" r="4.6" fill="#25848e" stroke="#25848e"/>
<circle cx="362.0" cy="1003.2" r="4.6" fill="#25848e" stroke="#25848e"/>
<circle cx="362.0" cy="1003.2" r="4.6" fill="#25848e" stroke="#25848e"/>
<circle cx="1112.3" cy="862.6" r="4.6" fill="#25848e" stroke="#25848e"/>
<circle cx="1112.3" cy="862.6" r="4.6" fill="#25848e" stroke="#25848e"/>
<circle cx="818.7" cy="933.9" r="4.6" fill="#25848e" stroke="#25848e"/>
<circle cx="818.7" cy="933.9" r="4.6" fill="#25848e" stroke="#25848e"/>
<circle cx="922.2" cy="915.1" r="4.6" fill="#25848e" stroke="#25848e"/>
<circle cx="922.2" cy="915.1" r="4.6" fill="#25848e" stroke="#25848e"/>
<circle cx="918.6" cy="982.6" r="4.6" fill="#25848e" stroke="#25848e"/>
<circle cx="852.2" cy="1102.5" r="4.6" fill="#25848e" stroke="#25848e"/>
<circle cx="1387.5" cy="895.3" r="4.6" fill="#25848e" stroke="#25848e"/>
<circle cx="1420.0" cy="930.1" r="4.6" fill="#25848e" stroke="#25848e"/>
<circle cx="1420.0" cy="930.1" r="4.6" fill="#25848e" stroke="#25848e"/>
<circle cx="927.9" cy="208.1" r="4.6" fill="#238a8d" stroke="#238a8d"/>
<circle cx="927.9" cy="208.1" r="4.6" fill="#238a8d" stroke="#238a8d"/>
<circle cx="1012.4" cy="259.7" r="4.6" fill="#238a8d" stroke="#238a8d"/>
<circle cx="1012.4" cy="259.7" r="4.6" fill="#238a8d" stroke="#238a8d"/>
<circle cx="900.4" cy="301.1" r="4.6" fill="#238a8d" stroke="#238a8d"/>
<circle cx="900.4" cy="301.1" r="4.6" fill="#238a8d" stroke="#238a8d"/>
<circle cx="888.0" cy="316.5" r="4.6" fill="#238a8d" stroke="#238a8d"/>
<circle cx="1325.8" cy="301.3" r="4.6" fill="#238a8d" stroke="#238a8d"/>
<circle cx="1325.8" cy="301.3" r="4.6" fill="#238a8d" stroke="#238a8d"/>
<circle cx="1317.8" cy="345.3" r="4.6" fill="#238a8d" stroke="#238a8d"/>
<circle cx="448.1" cy="377.7" r="4.6" fill="#238a8d" stroke="#238a8d"/>
<circle cx="443.4" cy="446.9" r="4.6" fill="#238a8d" stroke="#238a8d"/>
<circle cx="377.9" cy="477.0" r="4.6" fill="#238a8d" stroke="#238a8d"/>
<circle cx="291.5" cy="551.4" r="4.6" fill="#238a8d" stroke="#238a8d"/>
<circle cx="489.2" cy="473.1" r="4.6" fill="#238a8d" stroke="#238a8d"/>
<circle cx="529.6" cy="545.2" r="4.6" fill="#238a8d" stroke="#238a8d"/>
<circle cx="521.5" cy="551.9" r="4.6" fill="#238a8d" stroke="#238a8d"/>
<circle cx="507.1" cy="556.9" r="4.6" fill="#238a8d" stroke="#238a8d"/>
<circle cx="686.9" cy="409.9" r="4.6" fill="#238a8d" stroke="#238a8d"/>
<circle cx="843.2" cy="403.9" r="4.6" fill="#238a8d" stroke="#238a8d"/>
<circle cx="872.0" cy="425.4" r="4.6" fill="#238a8d" stroke="#238a8d"/>
<circle cx="899.5" cy="555.7" r="4.6" fill="#238a8d" stroke="#238a8d"/>
<circle cx="899.5" cy="555.7" r="4.6" fill="#238a8d" stroke="#238a8d"/>
<circle cx="1187.4" cy="418.7" r="4.6" fill="#238a8d" stroke="#238a8d"/>
<circle cx="1314.4" cy="425.1" r="4.6" fill="#238a8d" stroke="#238a8d"/>
<circle cx="1210.4" cy="486.8" r="4.6" fill="#238a8d" stroke="#238a8d"/>
<circle cx="1210.4" cy="486.8" r="4.6" fill="#238a8d" stroke="#238a8d"/>
<circle cx="1534.2" cy="477.9" r="4.6" fill="#238a8d" stroke="#238a8d"/>
<circle cx="431.0" cy="799.4" r="4.6" fill="#238a8d" stroke="#238a8d"/>
<circle cx="431.0" cy="799.4" r="4.6" fill="#238a8d" stroke="#238a8d"/>
<circle cx="464.0" cy="819.4" r="4.6" fill="#238a8d" stroke="#238a8d"/>
<circle cx="464.0" cy="819.4" r="4.6" fill="#238a8d" stroke="#238a8d"/>
<circle cx="504.7" cy="667.6" r="4.6" fill="#238a8d" stroke="#238a8d"/>
<circle cx="774.2" cy="615.0" r="4.6" fill="#238a8d" stroke="#238a8d"/>
<circle cx="514.1" cy="769.8" r="4.6" fill="#238a8d" stroke="#238a8d"/>
<circle cx="1107.1" cy="625.7" r="4.6" fill="#238a8d" stroke="#238a8d"/>
<circle cx="1107.1" cy="625.7" r="4.6" fill="#238a8d" stroke="#238a8d"/>
<circle cx="929.5" cy="662.9" r="4.6" fill="#238a8d" stroke="#238a8d"/>
<circle cx="929.5" cy="662.9" r="4.6" fill="#238a8d" stroke="#238a8d"/>
<circle cx="861.0" cy="703.5" r="4.6" fill="#238a8d" stroke="#238a8d"/>
<circle cx="1023.0" cy="722.6" r="4.6" fill="#238a8d" stroke="#238a8d"/>
<circle cx="1050.4" cy="726.7" r="4.6" fill="#238a8d" stroke="#238a8d"/>
<circle cx="1016.6" cy="745.8" r="4.6" fill="#238a8d" stroke="#238a8d"/>
<circle cx="1044.3" cy="764.4" r="4.6" fill="#238a8d" stroke="#238a8d"/>
<circle cx="1002.2" cy="798.2" r="4.6" fill="#238a8d" stroke="#238a8d"/>
<circle cx="1006.8" cy="802.8" r="4.6" fill="#238a8d" stroke="#238a8d"/>
<circle cx="877.0" cy="826.1" r="4.6" fill="#238a8d" stroke="#238a8d"/>
<circle cx="880.4" cy="825.3" r="4.6" fill="#238a8d" stroke="#238a8d"/>
<circle cx="1194.4" cy="677.6" r="4.6" fill="#238a8d" stroke="#238a8d"/>
<circle cx="1244.4" cy="693.3" r="4.6" fill="#238a8d" stroke="#238a8d"/>
<circle cx="1248.5" cy="697.1" r="4.6" fill="#238a8d" stroke="#238a8d"/>
<circle cx="1133.1" cy="757.3" r="4.6" fill="#238a8d" stroke="#238a8d"/>
<circle cx="1554.0" cy="614.2" r="4.6" fill="#238a8d" stroke="#238a8d"/>
<circle cx="245.5" cy="872.5" r="4.6" fill="#238a8d" stroke="#238a8d"/>
<circle cx="245.5" cy="872.5" r="4.6" fill="#238a8d" stroke="#238a8d"/>
<circle cx="714.0" cy="891.1" r="4.6" fill="#238a8d" stroke="#238a8d"/>
<circle cx="924.9" cy="869.2" r="4.6" fill="#238a8d" stroke="#238a8d"/>
<circle cx="1044.5" cy="903.2" r="4.6" fill="#238a8d" stroke="#238a8d"/>
<circle cx="1040.3" cy="1054.3" r="4.6" fill="#238a8d" stroke="#238a8d"/>
<circle cx="1174.2" cy="933.2" r="4.6" fill="#238a8d" stroke="#238a8d"/>
<circle cx="1293.8" cy="939.3" r="4.6" fill="#238a8d" stroke="#238a8d"/>
<circle cx="1271.5" cy="1000.7" r="4.6" fill="#238a8d" stroke="#238a8d"/>
<circle cx="683.9" cy="1115.0" r="4.6" fill="#238a8d" stroke="#238a8d"/>
<circle cx="683.9" cy="1115.0" r="4.6" fill="#238a8d" stroke="#238a8d"/>
<circle cx="1044.7" cy="1151.0" r="4.6" fill="#238a8d" stroke="#238a8d"/>
<circle cx="1044.7" cy="1151.0" r="4.6" fill="#238a8d" stroke="#238a8d"/>
<circle cx="1044.7" cy="1151.0" r="4.6" fill="#238a8d" stroke="#238a8d"/>
<circle cx="992.1" cy="1203.0" r="4.6" fill="#238a8d" stroke="#238a8d"/>
<circle cx="994.6" cy="1205.5" r="4.6" fill="#238a8d" stroke="#238a8d"/>
<circle cx="994.6" cy="1205.5" r="4.6" fill="#238a8d" stroke="#238a8d"/>
<circle cx="996.6" cy="1208.0" r="4.6" fill="#238a8d" stroke="#238a8d"/>
<circle cx="1326.3" cy="337.7" r="4.6" fill="#21918c" stroke="#21918c"/>
<circle cx="1330.5" cy="347.3" r="4.6" fill="#21918c" stroke="#21918c"/>
<circle cx="1469.9" cy="346.6" r="4.6" fill="#21918c" stroke="#21918c"/>
<circle cx="378.4" cy="417.0" r="4.6" fill="#21918c" stroke="#21918c"/>
<circle cx="441.7" cy="565.5" r="4.6" fill="#21918c" stroke="#21918c"/>
<circle cx="783.7" cy="497.7" r="4.6" fill="#21918c" stroke="#21918c"/>
<circle cx="1047.9" cy="577.3" r="4.6" fill="#21918c" stroke="#21918c"/>
<circle cx="1047.9" cy="577.3" r="4.6" fill="#21918c" stroke="#21918c"/>
<circle cx="1050.4" cy="576.0" r="4.6" fill="#21918c" stroke="#21918c"/>
<circle cx="1231.1" cy="392.1" r="4.6" fill="#21918c" stroke="#21918c"/>
<circle cx="1328.8" cy="529.8" r="4.6" fill="#21918c" stroke="#21918c"/>
<circle cx="1328.8" cy="529.8" r="4.6" fill="#21918c" stroke="#21918c"/>
<circle cx="1342.2" cy="534.0" r="4.6" fill="#21918c" stroke="#21918c"/>
<circle cx="1229.9" cy="546.4" r="4.6" fill="#21918c" stroke="#21918c"/>
<circle cx="1227.2" cy="591.2" r="4.6" fill="#21918c" stroke="#21918c"/>
<circle cx="1142.3" cy="592.0" r="4.6" fill="#21918c" stroke="#21918c"/>
<circle cx="1464.6" cy="360.3" r="4.6" fill="#21918c" stroke="#21918c"/>
<circle cx="1465.5" cy="353.5" r="4.6" fill="#21918c" stroke="#21918c"/>
<circle cx="1569.5" cy="562.9" r="4.6" fill="#21918c" stroke="#21918c"/>
<circle cx="1561.4" cy="584.6" r="4.6" fill="#21918c" stroke="#21918c"/>
<circle cx="1497.3" cy="577.2" r="4.6" fill="#21918c" stroke="#21918c"/>
<circle cx="774.2" cy="623.5" r="4.6" fill="#21918c" stroke="#21918c"/>
<circle cx="774.2" cy="623.5" r="4.6" fill="#21918c" stroke="#21918c"/>
<circle cx="493.8" cy="715.7" r="4.6" fill="#21918c" stroke="#21918c"/>
<circle cx="643.8" cy="708.9" r="4.6" fill="#21918c" stroke="#21918c"/>
<circle cx="643.8" cy="708.9" r="4.6" fill="#21918c" stroke="#21918c"/>
<circle cx="1052.1" cy="648.0" r="4.6" fill="#21918c" stroke="#21918c"/>
<circle cx="1054.6" cy="646.8" r="4.6" fill="#21918c" stroke="#21918c"/>
<circle cx="1059.2" cy="686.6" r="4.6" fill="#21918c" stroke="#21918c"/>
<circle cx="899.5" cy="747.8" r="4.6" fill="#21918c" stroke="#21918c"/>
<circle cx="1163.2" cy="671.4" r="4.6" fill="#21918c" stroke="#21918c"/>
<circle cx="1355.0" cy="676.4" r="4.6" fill="#21918c" stroke="#21918c"/>
<circle cx="1169.8" cy="732.2" r="4.6" fill="#21918c" stroke="#21918c"/>
<circle cx="1424.6" cy="728.5" r="4.6" fill="#21918c" stroke="#21918c"/>
<circle cx="1279.3" cy="731.9" r="4.6" fill="#21918c" stroke="#21918c"/>
<circle cx="1136.2" cy="740.4" r="4.6" fill="#21918c" stroke="#21918c"/>
<circle cx="1218.9" cy="807.0" r="4.6" fill="#21918c" stroke="#21918c"/>
<circle cx="1558.2" cy="610.8" r="4.6" fill="#21918c" stroke="#21918c"/>
<circle cx="623.7" cy="962.1" r="4.6" fill="#21918c" stroke="#21918c"/>
<circle cx="703.5" cy="897.3" r="4.6" fill="#21918c" stroke="#21918c"/>
<circle cx="681.5" cy="1042.4" r="4.6" fill="#21918c" stroke="#21918c"/>
<circle cx="680.7" cy="1056.0" r="4.6" fill="#21918c" stroke="#21918c"/>
<circle cx="1000.0" cy="878.7" r="4.6" fill="#21918c" stroke="#21918c"/>
<circle cx="870.9" cy="945.7" r="4.6" fill="#21918c" stroke="#21918c"/>
<circle cx="1263.4" cy="991.2" r="4.6" fill="#21918c" stroke="#21918c"/>
<circle cx="826.3" cy="134.7" r="4.6" fill="#1f968b" stroke="#1f968b"/>
<circle cx="1287.9" cy="254.4" r="4.6" fill="#1f968b" stroke="#1f968b"/>
<circle cx="380.3" cy="542.1" r="4.6" fill="#1f968b" stroke="#1f968b"/>
<circle cx="610.8" cy="534.5" r="4.6" fill="#1f968b" stroke="#1f968b"/>
<circle cx="611.1" cy="566.7" r="4.6" fill="#1f968b" stroke="#1f968b"/>
<circle cx="611.1" cy="566.7" r="4.6" fill="#1f968b" stroke="#1f968b"/>
<circle cx="665.8" cy="577.7" r="4.6" fill="#1f968b" stroke="#1f968b"/>
<circle cx="918.5" cy="396.2" r="4.6" fill="#1f968b" stroke="#1f968b"/>
<circle cx="840.7" cy="400.9" r="4.6" fill="#1f968b" stroke="#1f968b"/>
<circle cx="826.8" cy="444.4" r="4.6" fill="#1f968b" stroke="#1f968b"/>
<circle cx="1312.4" cy="407.7" r="4.6" fill="#1f968b" stroke="#1f968b"/>
<circle cx="1269.1" cy="436.8" r="4.6" fill="#1f968b" stroke="#1f968b"/>
<circle cx="1177.1" cy="462.1" r="4.6" fill="#1f968b" stroke="#1f968b"/>
<circle cx="391.9" cy="624.5" r="4.6" fill="#1f968b" stroke="#1f968b"/>
<circle cx="394.3" cy="691.1" r="4.6" fill="#1f968b" stroke="#1f968b"/>
<circle cx="267.6" cy="803.3" r="4.6" fill="#1f968b" stroke="#1f968b"/>
<circle cx="267.6" cy="803.3" r="4.6" fill="#1f968b" stroke="#1f968b"/>
<circle cx="382.8" cy="800.4" r="4.6" fill="#1f968b" stroke="#1f968b"/>
<circle cx="402.6" cy="839.7" r="4.6" fill="#1f968b" stroke="#1f968b"/>
<circle cx="515.2" cy="609.9" r="4.6" fill="#1f968b" stroke="#1f968b"/>
<circle cx="718.0" cy="611.0" r="4.6" fill="#1f968b" stroke="#1f968b"/>
<circle cx="718.0" cy="611.0" r="4.6" fill="#1f968b" stroke="#1f968b"/>
<circle cx="757.6" cy="634.1" r="4.6" fill="#1f968b" stroke="#1f968b"/>
<circle cx="580.0" cy="727.5" r="4.6" fill="#1f968b" stroke="#1f968b"/>
<circle cx="525.6" cy="756.8" r="4.6" fill="#1f968b" stroke="#1f968b"/>
<circle cx="587.3" cy="790.3" r="4.6" fill="#1f968b" stroke="#1f968b"/>
<circle cx="733.3" cy="701.0" r="4.6" fill="#1f968b" stroke="#1f968b"/>
<circle cx="989.9" cy="652.4" r="4.6" fill="#1f968b" stroke="#1f968b"/>
<circle cx="1019.6" cy="671.0" r="4.6" fill="#1f968b" stroke="#1f968b"/>
<circle cx="1117.2" cy="731.1" r="4.6" fill="#1f968b" stroke="#1f968b"/>
<circle cx="971.4" cy="737.8" r="4.6" fill="#1f968b" stroke="#1f968b"/>
<circle cx="1059.9" cy="750.8" r="4.6" fill="#1f968b" stroke="#1f968b"/>
<circle cx="1071.4" cy="788.6" r="4.6" fill="#1f968b" stroke="#1f968b"/>
<circle cx="891.4" cy="782.0" r="4.6" fill="#1f968b" stroke="#1f968b"/>
<circle cx="891.4" cy="782.0" r="4.6" fill="#1f968b" stroke="#1f968b"/>
<circle cx="1078.8" cy="812.6" r="4.6" fill="#1f968b" stroke="#1f968b"/>
<circle cx="1124.0" cy="830.3" r="4.6" fill="#1f968b" stroke="#1f968b"/>
<circle cx="1153.8" cy="608.4" r="4.6" fill="#1f968b" stroke="#1f968b"/>
<circle cx="1168.1" cy="622.0" r="4.6" fill="#1f968b" stroke="#1f968b"/>
<circle cx="1168.1" cy="622.0" r="4.6" fill="#1f968b" stroke="#1f968b"/>
<circle cx="1310.7" cy="666.6" r="4.6" fill="#1f968b" stroke="#1f968b"/>
<circle cx="1424.7" cy="673.4" r="4.6" fill="#1f968b" stroke="#1f968b"/>
<circle cx="1239.7" cy="679.5" r="4.6" fill="#1f968b" stroke="#1f968b"/>
<circle cx="1323.7" cy="699.3" r="4.6" fill="#1f968b" stroke="#1f968b"/>
<circle cx="1205.5" cy="701.8" r="4.6" fill="#1f968b" stroke="#1f968b"/>
<circle cx="1323.7" cy="720.4" r="4.6" fill="#1f968b" stroke="#1f968b"/>
<circle cx="1375.3" cy="762.2" r="4.6" fill="#1f968b" stroke="#1f968b"/>
<circle cx="1291.1" cy="783.3" r="4.6" fill="#1f968b" stroke="#1f968b"/>
<circle cx="1300.9" cy="782.6" r="4.6" fill="#1f968b" stroke="#1f968b"/>
<circle cx="1299.2" cy="819.0" r="4.6" fill="#1f968b" stroke="#1f968b"/>
<circle cx="1225.1" cy="852.0" r="4.6" fill="#1f968b" stroke="#1f968b"/>
<circle cx="1484.1" cy="616.4" r="4.6" fill="#1f968b" stroke="#1f968b"/>
<circle cx="1546.3" cy="612.1" r="4.6" fill="#1f968b" stroke="#1f968b"/>
<circle cx="1562.4" cy="609.6" r="4.6" fill="#1f968b" stroke="#1f968b"/>
<circle cx="1468.5" cy="690.6" r="4.6" fill="#1f968b" stroke="#1f968b"/>
<circle cx="1511.3" cy="731.7" r="4.6" fill="#1f968b" stroke="#1f968b"/>
<circle cx="1511.3" cy="731.7" r="4.6" fill="#1f968b" stroke="#1f968b"/>
<circle cx="206.0" cy="889.9" r="4.6" fill="#1f968b" stroke="#1f968b"/>
<circle cx="1036.0" cy="1056.0" r="4.6" fill="#1f968b" stroke="#1f968b"/>
<circle cx="1268.9" cy="910.5" r="4.6" fill="#1f968b" stroke="#1f968b"/>
<circle cx="1274.5" cy="909.3" r="4.6" fill="#1f968b" stroke="#1f968b"/>
<circle cx="1146.1" cy="1012.8" r="4.6" fill="#1f968b" stroke="#1f968b"/>
<circle cx="1146.1" cy="1012.8" r="4.6" fill="#1f968b" stroke="#1f968b"/>
<circle cx="475.8" cy="318.2" r="4.6" fill="#1e9c89" stroke="#1e9c89"/>
<circle cx="511.9" cy="344.8" r="4.6" fill="#1e9c89" stroke="#1e9c89"/>
<circle cx="439.3" cy="402.1" r="4.6" fill="#1e9c89" stroke="#1e9c89"/>
<circle cx="400.2" cy="429.1" r="4.6" fill="#1e9c89" stroke="#1e9c89"/>
<circle cx="409.9" cy="436.4" r="4.6" fill="#1e9c89" stroke="#1e9c89"/>
<circle cx="386.4" cy="440.6" r="4.6" fill="#1e9c89" stroke="#1e9c89"/>
<circle cx="431.3" cy="549.7" r="4.6" fill="#1e9c89" stroke="#1e9c89"/>
<circle cx="434.7" cy="548.6" r="4.6" fill="#1e9c89" stroke="#1e9c89"/>
<circle cx="421.4" cy="588.3" r="4.6" fill="#1e9c89" stroke="#1e9c89"/>
<circle cx="580.9" cy="396.3" r="4.6" fill="#1e9c89" stroke="#1e9c89"/>
<circle cx="524.5" cy="443.2" r="4.6" fill="#1e9c89" stroke="#1e9c89"/>
<circle cx="608.8" cy="501.5" r="4.6" fill="#1e9c89" stroke="#1e9c89"/>
<circle cx="618.9" cy="523.5" r="4.6" fill="#1e9c89" stroke="#1e9c89"/>
<circle cx="487.5" cy="531.1" r="4.6" fill="#1e9c89" stroke="#1e9c89"/>
<circle cx="753.6" cy="474.0" r="4.6" fill="#1e9c89" stroke="#1e9c89"/>
<circle cx="921.0" cy="394.1" r="4.6" fill="#1e9c89" stroke="#1e9c89"/>
<circle cx="883.1" cy="504.9" r="4.6" fill="#1e9c89" stroke="#1e9c89"/>
<circle cx="997.5" cy="550.9" r="4.6" fill="#1e9c89" stroke="#1e9c89"/>
<circle cx="984.8" cy="572.9" r="4.6" fill="#1e9c89" stroke="#1e9c89"/>
<circle cx="1069.9" cy="573.9" r="4.6" fill="#1e9c89" stroke="#1e9c89"/>
<circle cx="1069.9" cy="573.9" r="4.6" fill="#1e9c89" stroke="#1e9c89"/>
<circle cx="1091.3" cy="567.2" r="4.6" fill="#1e9c89" stroke="#1e9c89"/>
<circle cx="1214.6" cy="531.5" r="4.6" fill="#1e9c89" stroke="#1e9c89"/>
<circle cx="417.6" cy="746.6" r="4.6" fill="#1e9c89" stroke="#1e9c89"/>
<circle cx="385.0" cy="760.7" r="4.6" fill="#1e9c89" stroke="#1e9c89"/>
<circle cx="385.0" cy="760.7" r="4.6" fill="#1e9c89" stroke="#1e9c89"/>
<circle cx="449.3" cy="849.0" r="4.6" fill="#1e9c89" stroke="#1e9c89"/>
<circle cx="508.6" cy="728.9" r="4.6" fill="#1e9c89" stroke="#1e9c89"/>
<circle cx="646.0" cy="727.2" r="4.6" fill="#1e9c89" stroke="#1e9c89"/>
<circle cx="730.9" cy="716.3" r="4.6" fill="#1e9c89" stroke="#1e9c89"/>
<circle cx="1118.9" cy="786.7" r="4.6" fill="#1e9c89" stroke="#1e9c89"/>
<circle cx="1276.0" cy="607.1" r="4.6" fill="#1e9c89" stroke="#1e9c89"/>
<circle cx="1356.2" cy="658.2" r="4.6" fill="#1e9c89" stroke="#1e9c89"/>
<circle cx="1184.5" cy="712.8" r="4.6" fill="#1e9c89" stroke="#1e9c89"/>
<circle cx="1156.3" cy="722.4" r="4.6" fill="#1e9c89" stroke="#1e9c89"/>
<circle cx="1156.0" cy="744.1" r="4.6" fill="#1e9c89" stroke="#1e9c89"/>
<circle cx="1246.8" cy="742.9" r="4.6" fill="#1e9c89" stroke="#1e9c89"/>
<circle cx="1219.0" cy="770.6" r="4.6" fill="#1e9c89" stroke="#1e9c89"/>
<circle cx="1463.1" cy="748.5" r="4.6" fill="#1e9c89" stroke="#1e9c89"/>
<circle cx="1481.0" cy="761.8" r="4.6" fill="#1e9c89" stroke="#1e9c89"/>
<circle cx="306.5" cy="912.9" r="4.6" fill="#1e9c89" stroke="#1e9c89"/>
<circle cx="474.0" cy="862.0" r="4.6" fill="#1e9c89" stroke="#1e9c89"/>
<circle cx="501.4" cy="871.9" r="4.6" fill="#1e9c89" stroke="#1e9c89"/>
<circle cx="470.1" cy="930.0" r="4.6" fill="#1e9c89" stroke="#1e9c89"/>
<circle cx="786.4" cy="907.1" r="4.6" fill="#1e9c89" stroke="#1e9c89"/>
<circle cx="722.9" cy="880.9" r="4.6" fill="#1e9c89" stroke="#1e9c89"/>
<circle cx="910.9" cy="968.5" r="4.6" fill="#1e9c89" stroke="#1e9c89"/>
<circle cx="1253.0" cy="927.9" r="4.6" fill="#1e9c89" stroke="#1e9c89"/>
<circle cx="1249.3" cy="981.6" r="4.6" fill="#1e9c89" stroke="#1e9c89"/>
<circle cx="632.6" cy="245.3" r="4.6" fill="#1fa287" stroke="#1fa287"/>
<circle cx="633.1" cy="255.3" r="4.6" fill="#1fa287" stroke="#1fa287"/>
<circle cx="1163.6" cy="263.7" r="4.6" fill="#1fa287" stroke="#1fa287"/>
<circle cx="1342.4" cy="302.5" r="4.6" fill="#1fa287" stroke="#1fa287"/>
<circle cx="463.5" cy="377.2" r="4.6" fill="#1fa287" stroke="#1fa287"/>
<circle cx="457.4" cy="386.9" r="4.6" fill="#1fa287" stroke="#1fa287"/>
<circle cx="410.2" cy="468.1" r="4.6" fill="#1fa287" stroke="#1fa287"/>
<circle cx="407.2" cy="515.1" r="4.6" fill="#1fa287" stroke="#1fa287"/>
<circle cx="458.6" cy="569.5" r="4.6" fill="#1fa287" stroke="#1fa287"/>
<circle cx="409.0" cy="597.1" r="4.6" fill="#1fa287" stroke="#1fa287"/>
<circle cx="595.2" cy="354.0" r="4.6" fill="#1fa287" stroke="#1fa287"/>
<circle cx="485.8" cy="365.4" r="4.6" fill="#1fa287" stroke="#1fa287"/>
<circle cx="512.4" cy="441.5" r="4.6" fill="#1fa287" stroke="#1fa287"/>
<circle cx="690.6" cy="382.6" r="4.6" fill="#1fa287" stroke="#1fa287"/>
<circle cx="726.8" cy="403.4" r="4.6" fill="#1fa287" stroke="#1fa287"/>
<circle cx="1033.8" cy="360.6" r="4.6" fill="#1fa287" stroke="#1fa287"/>
<circle cx="872.3" cy="422.0" r="4.6" fill="#1fa287" stroke="#1fa287"/>
<circle cx="867.1" cy="436.9" r="4.6" fill="#1fa287" stroke="#1fa287"/>
<circle cx="919.8" cy="463.5" r="4.6" fill="#1fa287" stroke="#1fa287"/>
<circle cx="1085.3" cy="526.9" r="4.6" fill="#1fa287" stroke="#1fa287"/>
<circle cx="1289.1" cy="388.6" r="4.6" fill="#1fa287" stroke="#1fa287"/>
<circle cx="1289.1" cy="388.6" r="4.6" fill="#1fa287" stroke="#1fa287"/>
<circle cx="1197.9" cy="430.7" r="4.6" fill="#1fa287" stroke="#1fa287"/>
<circle cx="1317.2" cy="444.9" r="4.6" fill="#1fa287" stroke="#1fa287"/>
<circle cx="1389.9" cy="588.1" r="4.6" fill="#1fa287" stroke="#1fa287"/>
<circle cx="1518.3" cy="598.0" r="4.6" fill="#1fa287" stroke="#1fa287"/>
<circle cx="387.2" cy="629.9" r="4.6" fill="#1fa287" stroke="#1fa287"/>
<circle cx="501.9" cy="622.3" r="4.6" fill="#1fa287" stroke="#1fa287"/>
<circle cx="659.0" cy="638.9" r="4.6" fill="#1fa287" stroke="#1fa287"/>
<circle cx="470.4" cy="699.6" r="4.6" fill="#1fa287" stroke="#1fa287"/>
<circle cx="564.5" cy="749.5" r="4.6" fill="#1fa287" stroke="#1fa287"/>
<circle cx="556.3" cy="789.4" r="4.6" fill="#1fa287" stroke="#1fa287"/>
<circle cx="596.9" cy="831.4" r="4.6" fill="#1fa287" stroke="#1fa287"/>
<circle cx="685.2" cy="758.6" r="4.6" fill="#1fa287" stroke="#1fa287"/>
<circle cx="1081.4" cy="658.7" r="4.6" fill="#1fa287" stroke="#1fa287"/>
<circle cx="1085.9" cy="659.5" r="4.6" fill="#1fa287" stroke="#1fa287"/>
<circle cx="1090.5" cy="660.7" r="4.6" fill="#1fa287" stroke="#1fa287"/>
<circle cx="1107.4" cy="726.0" r="4.6" fill="#1fa287" stroke="#1fa287"/>
<circle cx="966.7" cy="726.3" r="4.6" fill="#1fa287" stroke="#1fa287"/>
<circle cx="1104.2" cy="761.8" r="4.6" fill="#1fa287" stroke="#1fa287"/>
<circle cx="1104.2" cy="761.8" r="4.6" fill="#1fa287" stroke="#1fa287"/>
<circle cx="852.5" cy="751.5" r="4.6" fill="#1fa287" stroke="#1fa287"/>
<circle cx="1349.6" cy="618.6" r="4.6" fill="#1fa287" stroke="#1fa287"/>
<circle cx="1237.0" cy="617.2" r="4.6" fill="#1fa287" stroke="#1fa287"/>
<circle cx="1407.6" cy="626.9" r="4.6" fill="#1fa287" stroke="#1fa287"/>
<circle cx="1453.1" cy="638.4" r="4.6" fill="#1fa287" stroke="#1fa287"/>
<circle cx="1317.3" cy="685.2" r="4.6" fill="#1fa287" stroke="#1fa287"/>
<circle cx="1234.6" cy="723.8" r="4.6" fill="#1fa287" stroke="#1fa287"/>
<circle cx="1185.0" cy="757.3" r="4.6" fill="#1fa287" stroke="#1fa287"/>
<circle cx="1200.9" cy="755.1" r="4.6" fill="#1fa287" stroke="#1fa287"/>
<circle cx="1255.2" cy="759.6" r="4.6" fill="#1fa287" stroke="#1fa287"/>
<circle cx="1349.8" cy="778.9" r="4.6" fill="#1fa287" stroke="#1fa287"/>
<circle cx="1396.7" cy="793.6" r="4.6" fill="#1fa287" stroke="#1fa287"/>
<circle cx="1349.8" cy="801.9" r="4.6" fill="#1fa287" stroke="#1fa287"/>
<circle cx="1128.4" cy="818.2" r="4.6" fill="#1fa287" stroke="#1fa287"/>
<circle cx="1570.0" cy="609.1" r="4.6" fill="#1fa287" stroke="#1fa287"/>
<circle cx="512.9" cy="921.3" r="4.6" fill="#1fa287" stroke="#1fa287"/>
<circle cx="474.3" cy="925.2" r="4.6" fill="#1fa287" stroke="#1fa287"/>
<circle cx="583.4" cy="944.3" r="4.6" fill="#1fa287" stroke="#1fa287"/>
<circle cx="726.3" cy="981.6" r="4.6" fill="#1fa287" stroke="#1fa287"/>
<circle cx="786.0" cy="988.3" r="4.6" fill="#1fa287" stroke="#1fa287"/>
<circle cx="1118.9" cy="954.2" r="4.6" fill="#1fa287" stroke="#1fa287"/>
<circle cx="872.8" cy="977.5" r="4.6" fill="#1fa287" stroke="#1fa287"/>
<circle cx="872.8" cy="977.5" r="4.6" fill="#1fa287" stroke="#1fa287"/>
<circle cx="1050.1" cy="981.6" r="4.6" fill="#1fa287" stroke="#1fa287"/>
<circle cx="966.3" cy="1036.5" r="4.6" fill="#1fa287" stroke="#1fa287"/>
<circle cx="1425.1" cy="870.4" r="4.6" fill="#1fa287" stroke="#1fa287"/>
<circle cx="777.9" cy="1266.0" r="4.6" fill="#1fa287" stroke="#1fa287"/>
<circle cx="835.1" cy="280.6" r="4.6" fill="#22a884" stroke="#22a884"/>
<circle cx="835.1" cy="280.6" r="4.6" fill="#22a884" stroke="#22a884"/>
<circle cx="877.4" cy="334.3" r="4.6" fill="#22a884" stroke="#22a884"/>
<circle cx="1158.8" cy="266.1" r="4.6" fill="#22a884" stroke="#22a884"/>
<circle cx="1259.5" cy="350.0" r="4.6" fill="#22a884" stroke="#22a884"/>
<circle cx="454.7" cy="363.7" r="4.6" fill="#22a884" stroke="#22a884"/>
<circle cx="457.7" cy="367.9" r="4.6" fill="#22a884" stroke="#22a884"/>
<circle cx="400.4" cy="453.2" r="4.6" fill="#22a884" stroke="#22a884"/>
<circle cx="428.6" cy="457.7" r="4.6" fill="#22a884" stroke="#22a884"/>
<circle cx="396.3" cy="578.0" r="4.6" fill="#22a884" stroke="#22a884"/>
<circle cx="489.7" cy="387.9" r="4.6" fill="#22a884" stroke="#22a884"/>
<circle cx="612.0" cy="478.5" r="4.6" fill="#22a884" stroke="#22a884"/>
<circle cx="626.2" cy="517.3" r="4.6" fill="#22a884" stroke="#22a884"/>
<circle cx="628.6" cy="528.3" r="4.6" fill="#22a884" stroke="#22a884"/>
<circle cx="658.7" cy="571.7" r="4.6" fill="#22a884" stroke="#22a884"/>
<circle cx="658.7" cy="571.7" r="4.6" fill="#22a884" stroke="#22a884"/>
<circle cx="961.6" cy="407.7" r="4.6" fill="#22a884" stroke="#22a884"/>
<circle cx="961.6" cy="407.7" r="4.6" fill="#22a884" stroke="#22a884"/>
<circle cx="826.8" cy="430.2" r="4.6" fill="#22a884" stroke="#22a884"/>
<circle cx="993.9" cy="460.4" r="4.6" fill="#22a884" stroke="#22a884"/>
<circle cx="1073.2" cy="529.5" r="4.6" fill="#22a884" stroke="#22a884"/>
<circle cx="987.5" cy="581.0" r="4.6" fill="#22a884" stroke="#22a884"/>
<circle cx="1189.3" cy="423.7" r="4.6" fill="#22a884" stroke="#22a884"/>
<circle cx="1244.8" cy="417.8" r="4.6" fill="#22a884" stroke="#22a884"/>
<circle cx="1226.2" cy="568.0" r="4.6" fill="#22a884" stroke="#22a884"/>
<circle cx="1336.4" cy="596.6" r="4.6" fill="#22a884" stroke="#22a884"/>
<circle cx="457.2" cy="844.2" r="4.6" fill="#22a884" stroke="#22a884"/>
<circle cx="505.9" cy="656.1" r="4.6" fill="#22a884" stroke="#22a884"/>
<circle cx="511.0" cy="687.1" r="4.6" fill="#22a884" stroke="#22a884"/>
<circle cx="568.5" cy="726.7" r="4.6" fill="#22a884" stroke="#22a884"/>
<circle cx="568.3" cy="760.2" r="4.6" fill="#22a884" stroke="#22a884"/>
<circle cx="515.4" cy="795.3" r="4.6" fill="#22a884" stroke="#22a884"/>
<circle cx="569.5" cy="794.3" r="4.6" fill="#22a884" stroke="#22a884"/>
<circle cx="584.2" cy="791.4" r="4.6" fill="#22a884" stroke="#22a884"/>
<circle cx="679.5" cy="735.6" r="4.6" fill="#22a884" stroke="#22a884"/>
<circle cx="892.3" cy="641.2" r="4.6" fill="#22a884" stroke="#22a884"/>
<circle cx="1075.6" cy="728.9" r="4.6" fill="#22a884" stroke="#22a884"/>
<circle cx="1085.4" cy="752.5" r="4.6" fill="#22a884" stroke="#22a884"/>
<circle cx="1065.3" cy="783.5" r="4.6" fill="#22a884" stroke="#22a884"/>
<circle cx="963.5" cy="839.3" r="4.6" fill="#22a884" stroke="#22a884"/>
<circle cx="1201.1" cy="648.5" r="4.6" fill="#22a884" stroke="#22a884"/>
<circle cx="1170.3" cy="654.1" r="4.6" fill="#22a884" stroke="#22a884"/>
<circle cx="1239.5" cy="660.0" r="4.6" fill="#22a884" stroke="#22a884"/>
<circle cx="1350.8" cy="670.5" r="4.6" fill="#22a884" stroke="#22a884"/>
<circle cx="1384.6" cy="672.2" r="4.6" fill="#22a884" stroke="#22a884"/>
<circle cx="1234.1" cy="686.6" r="4.6" fill="#22a884" stroke="#22a884"/>
<circle cx="1287.4" cy="695.0" r="4.6" fill="#22a884" stroke="#22a884"/>
<circle cx="1264.9" cy="715.0" r="4.6" fill="#22a884" stroke="#22a884"/>
<circle cx="1264.9" cy="715.0" r="4.6" fill="#22a884" stroke="#22a884"/>
<circle cx="1149.7" cy="734.8" r="4.6" fill="#22a884" stroke="#22a884"/>
<circle cx="1183.4" cy="739.3" r="4.6" fill="#22a884" stroke="#22a884"/>
<circle cx="1449.8" cy="746.6" r="4.6" fill="#22a884" stroke="#22a884"/>
<circle cx="1483.1" cy="694.2" r="4.6" fill="#22a884" stroke="#22a884"/>
<circle cx="1483.1" cy="694.2" r="4.6" fill="#22a884" stroke="#22a884"/>
<circle cx="1557.7" cy="717.4" r="4.6" fill="#22a884" stroke="#22a884"/>
<circle cx="1488.5" cy="780.1" r="4.6" fill="#22a884" stroke="#22a884"/>
<circle cx="307.9" cy="889.4" r="4.6" fill="#22a884" stroke="#22a884"/>
<circle cx="314.6" cy="931.3" r="4.6" fill="#22a884" stroke="#22a884"/>
<circle cx="703.5" cy="1053.4" r="4.6" fill="#22a884" stroke="#22a884"/>
<circle cx="783.0" cy="1075.9" r="4.6" fill="#22a884" stroke="#22a884"/>
<circle cx="789.8" cy="1077.6" r="4.6" fill="#22a884" stroke="#22a884"/>
<circle cx="1027.7" cy="870.3" r="4.6" fill="#22a884" stroke="#22a884"/>
<circle cx="1067.3" cy="869.4" r="4.6" fill="#22a884" stroke="#22a884"/>
<circle cx="1025.5" cy="1061.1" r="4.6" fill="#22a884" stroke="#22a884"/>
<circle cx="808.9" cy="1083.0" r="4.6" fill="#22a884" stroke="#22a884"/>
<circle cx="1136.5" cy="969.4" r="4.6" fill="#22a884" stroke="#22a884"/>
<circle cx="1202.3" cy="1031.8" r="4.6" fill="#22a884" stroke="#22a884"/>
<circle cx="1519.8" cy="876.7" r="4.6" fill="#22a884" stroke="#22a884"/>
<circle cx="777.6" cy="1263.8" r="4.6" fill="#22a884" stroke="#22a884"/>
<circle cx="777.6" cy="1263.8" r="4.6" fill="#22a884" stroke="#22a884"/>
<circle cx="1176.3" cy="269.7" r="4.6" fill="#28ae80" stroke="#28ae80"/>
<circle cx="1278.2" cy="316.2" r="4.6" fill="#28ae80" stroke="#28ae80"/>
<circle cx="1238.0" cy="337.7" r="4.6" fill="#28ae80" stroke="#28ae80"/>
<circle cx="1241.7" cy="341.0" r="4.6" fill="#28ae80" stroke="#28ae80"/>
<circle cx="1248.5" cy="345.6" r="4.6" fill="#28ae80" stroke="#28ae80"/>
<circle cx="423.2" cy="521.0" r="4.6" fill="#28ae80" stroke="#28ae80"/>
<circle cx="578.3" cy="352.4" r="4.6" fill="#28ae80" stroke="#28ae80"/>
<circle cx="622.5" cy="490.7" r="4.6" fill="#28ae80" stroke="#28ae80"/>
<circle cx="490.5" cy="495.6" r="4.6" fill="#28ae80" stroke="#28ae80"/>
<circle cx="550.4" cy="582.7" r="4.6" fill="#28ae80" stroke="#28ae80"/>
<circle cx="607.1" cy="578.8" r="4.6" fill="#28ae80" stroke="#28ae80"/>
<circle cx="733.1" cy="575.5" r="4.6" fill="#28ae80" stroke="#28ae80"/>
<circle cx="824.6" cy="371.0" r="4.6" fill="#28ae80" stroke="#28ae80"/>
<circle cx="824.6" cy="371.0" r="4.6" fill="#28ae80" stroke="#28ae80"/>
<circle cx="1152.9" cy="354.0" r="4.6" fill="#28ae80" stroke="#28ae80"/>
<circle cx="1155.4" cy="356.1" r="4.6" fill="#28ae80" stroke="#28ae80"/>
<circle cx="1186.7" cy="407.7" r="4.6" fill="#28ae80" stroke="#28ae80"/>
<circle cx="1388.5" cy="386.7" r="4.6" fill="#28ae80" stroke="#28ae80"/>
<circle cx="1223.6" cy="459.3" r="4.6" fill="#28ae80" stroke="#28ae80"/>
<circle cx="1346.8" cy="457.9" r="4.6" fill="#28ae80" stroke="#28ae80"/>
<circle cx="1356.7" cy="474.5" r="4.6" fill="#28ae80" stroke="#28ae80"/>
<circle cx="1210.8" cy="599.6" r="4.6" fill="#28ae80" stroke="#28ae80"/>
<circle cx="416.3" cy="612.5" r="4.6" fill="#28ae80" stroke="#28ae80"/>
<circle cx="510.7" cy="632.8" r="4.6" fill="#28ae80" stroke="#28ae80"/>
<circle cx="474.5" cy="642.6" r="4.6" fill="#28ae80" stroke="#28ae80"/>
<circle cx="576.6" cy="659.2" r="4.6" fill="#28ae80" stroke="#28ae80"/>
<circle cx="576.6" cy="659.2" r="4.6" fill="#28ae80" stroke="#28ae80"/>
<circle cx="478.2" cy="691.6" r="4.6" fill="#28ae80" stroke="#28ae80"/>
<circle cx="481.9" cy="691.1" r="4.6" fill="#28ae80" stroke="#28ae80"/>
<circle cx="476.8" cy="758.5" r="4.6" fill="#28ae80" stroke="#28ae80"/>
<circle cx="536.0" cy="809.7" r="4.6" fill="#28ae80" stroke="#28ae80"/>
<circle cx="536.0" cy="809.7" r="4.6" fill="#28ae80" stroke="#28ae80"/>
<circle cx="942.5" cy="621.6" r="4.6" fill="#28ae80" stroke="#28ae80"/>
<circle cx="942.5" cy="621.6" r="4.6" fill="#28ae80" stroke="#28ae80"/>
<circle cx="1028.8" cy="690.0" r="4.6" fill="#28ae80" stroke="#28ae80"/>
<circle cx="874.5" cy="708.6" r="4.6" fill="#28ae80" stroke="#28ae80"/>
<circle cx="1040.8" cy="739.0" r="4.6" fill="#28ae80" stroke="#28ae80"/>
<circle cx="1040.8" cy="739.0" r="4.6" fill="#28ae80" stroke="#28ae80"/>
<circle cx="1087.3" cy="761.3" r="4.6" fill="#28ae80" stroke="#28ae80"/>
<circle cx="801.8" cy="812.6" r="4.6" fill="#28ae80" stroke="#28ae80"/>
<circle cx="1276.7" cy="627.4" r="4.6" fill="#28ae80" stroke="#28ae80"/>
<circle cx="1352.5" cy="663.4" r="4.6" fill="#28ae80" stroke="#28ae80"/>
<circle cx="1235.8" cy="712.8" r="4.6" fill="#28ae80" stroke="#28ae80"/>
<circle cx="1132.1" cy="724.3" r="4.6" fill="#28ae80" stroke="#28ae80"/>
<circle cx="1340.8" cy="746.1" r="4.6" fill="#28ae80" stroke="#28ae80"/>
<circle cx="1151.7" cy="756.3" r="4.6" fill="#28ae80" stroke="#28ae80"/>
<circle cx="1275.2" cy="765.2" r="4.6" fill="#28ae80" stroke="#28ae80"/>
<circle cx="1372.1" cy="816.8" r="4.6" fill="#28ae80" stroke="#28ae80"/>
<circle cx="1372.1" cy="816.8" r="4.6" fill="#28ae80" stroke="#28ae80"/>
<circle cx="1468.9" cy="745.3" r="4.6" fill="#28ae80" stroke="#28ae80"/>
<circle cx="207.2" cy="883.4" r="4.6" fill="#28ae80" stroke="#28ae80"/>
<circle cx="453.8" cy="1084.2" r="4.6" fill="#28ae80" stroke="#28ae80"/>
<circle cx="512.0" cy="884.0" r="4.6" fill="#28ae80" stroke="#28ae80"/>
<circle cx="580.9" cy="944.8" r="4.6" fill="#28ae80" stroke="#28ae80"/>
<circle cx="580.9" cy="944.8" r="4.6" fill="#28ae80" stroke="#28ae80"/>
<circle cx="639.7" cy="966.3" r="4.6" fill="#28ae80" stroke="#28ae80"/>
<circle cx="1060.9" cy="863.1" r="4.6" fill="#28ae80" stroke="#28ae80"/>
<circle cx="1060.9" cy="863.1" r="4.6" fill="#28ae80" stroke="#28ae80"/>
<circle cx="1116.9" cy="894.1" r="4.6" fill="#28ae80" stroke="#28ae80"/>
<circle cx="1123.1" cy="950.8" r="4.6" fill="#28ae80" stroke="#28ae80"/>
<circle cx="1245.3" cy="1094.5" r="4.6" fill="#28ae80" stroke="#28ae80"/>
<circle cx="1245.3" cy="1094.5" r="4.6" fill="#28ae80" stroke="#28ae80"/>
<circle cx="1498.1" cy="859.8" r="4.6" fill="#28ae80" stroke="#28ae80"/>
<circle cx="399.5" cy="424.9" r="4.6" fill="#2fb47c" stroke="#2fb47c"/>
<circle cx="381.1" cy="441.5" r="4.6" fill="#2fb47c" stroke="#2fb47c"/>
<circle cx="386.2" cy="461.5" r="4.6" fill="#2fb47c" stroke="#2fb47c"/>
<circle cx="457.6" cy="490.0" r="4.6" fill="#2fb47c" stroke="#2fb47c"/>
<circle cx="464.0" cy="492.2" r="4.6" fill="#2fb47c" stroke="#2fb47c"/>
<circle cx="435.2" cy="573.9" r="4.6" fill="#2fb47c" stroke="#2fb47c"/>
<circle cx="435.2" cy="588.1" r="4.6" fill="#2fb47c" stroke="#2fb47c"/>
<circle cx="441.2" cy="594.6" r="4.6" fill="#2fb47c" stroke="#2fb47c"/>
<circle cx="886.3" cy="417.3" r="4.6" fill="#2fb47c" stroke="#2fb47c"/>
<circle cx="1156.6" cy="436.3" r="4.6" fill="#2fb47c" stroke="#2fb47c"/>
<circle cx="1287.9" cy="525.2" r="4.6" fill="#2fb47c" stroke="#2fb47c"/>
<circle cx="1287.9" cy="525.2" r="4.6" fill="#2fb47c" stroke="#2fb47c"/>
<circle cx="1281.0" cy="530.3" r="4.6" fill="#2fb47c" stroke="#2fb47c"/>
<circle cx="1174.4" cy="556.7" r="4.6" fill="#2fb47c" stroke="#2fb47c"/>
<circle cx="1364.0" cy="599.3" r="4.6" fill="#2fb47c" stroke="#2fb47c"/>
<circle cx="447.2" cy="730.9" r="4.6" fill="#2fb47c" stroke="#2fb47c"/>
<circle cx="289.6" cy="753.4" r="4.6" fill="#2fb47c" stroke="#2fb47c"/>
<circle cx="215.0" cy="754.2" r="4.6" fill="#2fb47c" stroke="#2fb47c"/>
<circle cx="215.0" cy="754.2" r="4.6" fill="#2fb47c" stroke="#2fb47c"/>
<circle cx="216.2" cy="810.9" r="4.6" fill="#2fb47c" stroke="#2fb47c"/>
<circle cx="216.2" cy="810.9" r="4.6" fill="#2fb47c" stroke="#2fb47c"/>
<circle cx="260.2" cy="835.4" r="4.6" fill="#2fb47c" stroke="#2fb47c"/>
<circle cx="260.2" cy="835.4" r="4.6" fill="#2fb47c" stroke="#2fb47c"/>
<circle cx="681.5" cy="739.9" r="4.6" fill="#2fb47c" stroke="#2fb47c"/>
<circle cx="888.9" cy="640.6" r="4.6" fill="#2fb47c" stroke="#2fb47c"/>
<circle cx="979.0" cy="653.3" r="4.6" fill="#2fb47c" stroke="#2fb47c"/>
<circle cx="937.9" cy="675.1" r="4.6" fill="#2fb47c" stroke="#2fb47c"/>
<circle cx="1114.0" cy="716.7" r="4.6" fill="#2fb47c" stroke="#2fb47c"/>
<circle cx="973.1" cy="723.4" r="4.6" fill="#2fb47c" stroke="#2fb47c"/>
<circle cx="973.1" cy="723.4" r="4.6" fill="#2fb47c" stroke="#2fb47c"/>
<circle cx="1188.8" cy="635.5" r="4.6" fill="#2fb47c" stroke="#2fb47c"/>
<circle cx="1282.3" cy="666.8" r="4.6" fill="#2fb47c" stroke="#2fb47c"/>
<circle cx="1263.7" cy="670.8" r="4.6" fill="#2fb47c" stroke="#2fb47c"/>
<circle cx="1254.4" cy="678.6" r="4.6" fill="#2fb47c" stroke="#2fb47c"/>
<circle cx="1361.8" cy="728.9" r="4.6" fill="#2fb47c" stroke="#2fb47c"/>
<circle cx="1269.3" cy="742.9" r="4.6" fill="#2fb47c" stroke="#2fb47c"/>
<circle cx="1325.1" cy="758.8" r="4.6" fill="#2fb47c" stroke="#2fb47c"/>
<circle cx="1415.8" cy="803.3" r="4.6" fill="#2fb47c" stroke="#2fb47c"/>
<circle cx="1260.3" cy="832.0" r="4.6" fill="#2fb47c" stroke="#2fb47c"/>
<circle cx="242.6" cy="860.1" r="4.6" fill="#2fb47c" stroke="#2fb47c"/>
<circle cx="242.6" cy="860.1" r="4.6" fill="#2fb47c" stroke="#2fb47c"/>
<circle cx="207.7" cy="887.3" r="4.6" fill="#2fb47c" stroke="#2fb47c"/>
<circle cx="431.3" cy="917.8" r="4.6" fill="#2fb47c" stroke="#2fb47c"/>
<circle cx="431.3" cy="917.8" r="4.6" fill="#2fb47c" stroke="#2fb47c"/>
<circle cx="756.4" cy="869.9" r="4.6" fill="#2fb47c" stroke="#2fb47c"/>
<circle cx="786.4" cy="1076.6" r="4.6" fill="#2fb47c" stroke="#2fb47c"/>
<circle cx="786.4" cy="1076.6" r="4.6" fill="#2fb47c" stroke="#2fb47c"/>
<circle cx="1054.0" cy="928.9" r="4.6" fill="#2fb47c" stroke="#2fb47c"/>
<circle cx="1026.2" cy="945.7" r="4.6" fill="#2fb47c" stroke="#2fb47c"/>
<circle cx="804.0" cy="966.8" r="4.6" fill="#2fb47c" stroke="#2fb47c"/>
<circle cx="815.3" cy="987.5" r="4.6" fill="#2fb47c" stroke="#2fb47c"/>
<circle cx="815.3" cy="987.5" r="4.6" fill="#2fb47c" stroke="#2fb47c"/>
<circle cx="882.6" cy="1025.5" r="4.6" fill="#2fb47c" stroke="#2fb47c"/>
<circle cx="1362.1" cy="865.7" r="4.6" fill="#2fb47c" stroke="#2fb47c"/>
<circle cx="1362.1" cy="865.7" r="4.6" fill="#2fb47c" stroke="#2fb47c"/>
<circle cx="1254.7" cy="912.2" r="4.6" fill="#2fb47c" stroke="#2fb47c"/>
<circle cx="1354.9" cy="920.3" r="4.6" fill="#2fb47c" stroke="#2fb47c"/>
<circle cx="1354.9" cy="920.3" r="4.6" fill="#2fb47c" stroke="#2fb47c"/>
<circle cx="1393.9" cy="1012.0" r="4.6" fill="#2fb47c" stroke="#2fb47c"/>
<circle cx="1330.9" cy="239.0" r="4.6" fill="#38b977" stroke="#38b977"/>
<circle cx="991.7" cy="513.4" r="4.6" fill="#38b977" stroke="#38b977"/>
<circle cx="1012.4" cy="532.3" r="4.6" fill="#38b977" stroke="#38b977"/>
<circle cx="1010.7" cy="550.3" r="4.6" fill="#38b977" stroke="#38b977"/>
<circle cx="985.3" cy="589.5" r="4.6" fill="#38b977" stroke="#38b977"/>
<circle cx="1247.8" cy="414.1" r="4.6" fill="#38b977" stroke="#38b977"/>
<circle cx="1296.9" cy="428.8" r="4.6" fill="#38b977" stroke="#38b977"/>
<circle cx="1296.9" cy="428.8" r="4.6" fill="#38b977" stroke="#38b977"/>
<circle cx="1274.2" cy="435.9" r="4.6" fill="#38b977" stroke="#38b977"/>
<circle cx="1295.2" cy="470.4" r="4.6" fill="#38b977" stroke="#38b977"/>
<circle cx="1182.5" cy="523.0" r="4.6" fill="#38b977" stroke="#38b977"/>
<circle cx="1182.5" cy="523.0" r="4.6" fill="#38b977" stroke="#38b977"/>
<circle cx="1244.6" cy="593.4" r="4.6" fill="#38b977" stroke="#38b977"/>
<circle cx="431.0" cy="638.9" r="4.6" fill="#38b977" stroke="#38b977"/>
<circle cx="300.3" cy="757.6" r="4.6" fill="#38b977" stroke="#38b977"/>
<circle cx="307.5" cy="782.6" r="4.6" fill="#38b977" stroke="#38b977"/>
<circle cx="307.5" cy="782.6" r="4.6" fill="#38b977" stroke="#38b977"/>
<circle cx="312.6" cy="836.8" r="4.6" fill="#38b977" stroke="#38b977"/>
<circle cx="312.6" cy="836.8" r="4.6" fill="#38b977" stroke="#38b977"/>
<circle cx="543.7" cy="641.2" r="4.6" fill="#38b977" stroke="#38b977"/>
<circle cx="488.7" cy="805.0" r="4.6" fill="#38b977" stroke="#38b977"/>
<circle cx="936.6" cy="799.6" r="4.6" fill="#38b977" stroke="#38b977"/>
<circle cx="976.8" cy="835.8" r="4.6" fill="#38b977" stroke="#38b977"/>
<circle cx="976.8" cy="835.8" r="4.6" fill="#38b977" stroke="#38b977"/>
<circle cx="1320.4" cy="641.7" r="4.6" fill="#38b977" stroke="#38b977"/>
<circle cx="1385.5" cy="652.7" r="4.6" fill="#38b977" stroke="#38b977"/>
<circle cx="1218.9" cy="680.7" r="4.6" fill="#38b977" stroke="#38b977"/>
<circle cx="1324.6" cy="681.0" r="4.6" fill="#38b977" stroke="#38b977"/>
<circle cx="1394.5" cy="715.0" r="4.6" fill="#38b977" stroke="#38b977"/>
<circle cx="1219.0" cy="767.8" r="4.6" fill="#38b977" stroke="#38b977"/>
<circle cx="1131.4" cy="799.1" r="4.6" fill="#38b977" stroke="#38b977"/>
<circle cx="542.5" cy="871.6" r="4.6" fill="#38b977" stroke="#38b977"/>
<circle cx="490.4" cy="884.3" r="4.6" fill="#38b977" stroke="#38b977"/>
<circle cx="577.8" cy="945.2" r="4.6" fill="#38b977" stroke="#38b977"/>
<circle cx="684.9" cy="1032.8" r="4.6" fill="#38b977" stroke="#38b977"/>
<circle cx="678.1" cy="1050.1" r="4.6" fill="#38b977" stroke="#38b977"/>
<circle cx="1003.4" cy="857.2" r="4.6" fill="#38b977" stroke="#38b977"/>
<circle cx="1024.7" cy="952.0" r="4.6" fill="#38b977" stroke="#38b977"/>
<circle cx="967.5" cy="1039.4" r="4.6" fill="#38b977" stroke="#38b977"/>
<circle cx="1087.5" cy="1037.4" r="4.6" fill="#38b977" stroke="#38b977"/>
<circle cx="1229.9" cy="923.2" r="4.6" fill="#38b977" stroke="#38b977"/>
<circle cx="1278.6" cy="930.0" r="4.6" fill="#38b977" stroke="#38b977"/>
<circle cx="1227.2" cy="1092.2" r="4.6" fill="#38b977" stroke="#38b977"/>
<circle cx="1227.2" cy="1092.2" r="4.6" fill="#38b977" stroke="#38b977"/>
<circle cx="926.9" cy="1153.4" r="4.6" fill="#38b977" stroke="#38b977"/>
<circle cx="926.9" cy="1153.4" r="4.6" fill="#38b977" stroke="#38b977"/>
<circle cx="542.5" cy="292.8" r="4.6" fill="#44bf70" stroke="#44bf70"/>
<circle cx="1049.7" cy="188.0" r="4.6" fill="#44bf70" stroke="#44bf70"/>
<circle cx="1049.7" cy="188.0" r="4.6" fill="#44bf70" stroke="#44bf70"/>
<circle cx="1324.6" cy="237.3" r="4.6" fill="#44bf70" stroke="#44bf70"/>
<circle cx="1324.6" cy="237.3" r="4.6" fill="#44bf70" stroke="#44bf70"/>
<circle cx="316.2" cy="509.3" r="4.6" fill="#44bf70" stroke="#44bf70"/>
<circle cx="420.9" cy="565.8" r="4.6" fill="#44bf70" stroke="#44bf70"/>
<circle cx="448.8" cy="580.7" r="4.6" fill="#44bf70" stroke="#44bf70"/>
<circle cx="479.9" cy="368.8" r="4.6" fill="#44bf70" stroke="#44bf70"/>
<circle cx="1022.7" cy="549.7" r="4.6" fill="#44bf70" stroke="#44bf70"/>
<circle cx="498.0" cy="759.3" r="4.6" fill="#44bf70" stroke="#44bf70"/>
<circle cx="526.7" cy="776.2" r="4.6" fill="#44bf70" stroke="#44bf70"/>
<circle cx="531.3" cy="828.7" r="4.6" fill="#44bf70" stroke="#44bf70"/>
<circle cx="1009.5" cy="634.5" r="4.6" fill="#44bf70" stroke="#44bf70"/>
<circle cx="836.4" cy="668.5" r="4.6" fill="#44bf70" stroke="#44bf70"/>
<circle cx="1418.6" cy="626.0" r="4.6" fill="#44bf70" stroke="#44bf70"/>
<circle cx="1259.8" cy="635.0" r="4.6" fill="#44bf70" stroke="#44bf70"/>
<circle cx="1259.8" cy="635.0" r="4.6" fill="#44bf70" stroke="#44bf70"/>
<circle cx="1148.3" cy="827.6" r="4.6" fill="#44bf70" stroke="#44bf70"/>
<circle cx="1148.3" cy="827.6" r="4.6" fill="#44bf70" stroke="#44bf70"/>
<circle cx="1204.2" cy="829.2" r="4.6" fill="#44bf70" stroke="#44bf70"/>
<circle cx="1219.2" cy="843.0" r="4.6" fill="#44bf70" stroke="#44bf70"/>
<circle cx="1525.4" cy="728.9" r="4.6" fill="#44bf70" stroke="#44bf70"/>
<circle cx="502.7" cy="1045.8" r="4.6" fill="#44bf70" stroke="#44bf70"/>
<circle cx="791.8" cy="1000.2" r="4.6" fill="#44bf70" stroke="#44bf70"/>
<circle cx="1117.4" cy="965.5" r="4.6" fill="#44bf70" stroke="#44bf70"/>
<circle cx="1334.7" cy="979.2" r="4.6" fill="#44bf70" stroke="#44bf70"/>
<circle cx="1334.7" cy="979.2" r="4.6" fill="#44bf70" stroke="#44bf70"/>
<circle cx="581.7" cy="272.9" r="4.6" fill="#50c46a" stroke="#50c46a"/>
<circle cx="850.5" cy="114.4" r="4.6" fill="#50c46a" stroke="#50c46a"/>
<circle cx="1121.5" cy="341.5" r="4.6" fill="#50c46a" stroke="#50c46a"/>
<circle cx="408.5" cy="571.2" r="4.6" fill="#50c46a" stroke="#50c46a"/>
<circle cx="483.1" cy="581.0" r="4.6" fill="#50c46a" stroke="#50c46a"/>
<circle cx="878.7" cy="492.2" r="4.6" fill="#50c46a" stroke="#50c46a"/>
<circle cx="1286.9" cy="419.7" r="4.6" fill="#50c46a" stroke="#50c46a"/>
<circle cx="1325.1" cy="413.1" r="4.6" fill="#50c46a" stroke="#50c46a"/>
<circle cx="1319.9" cy="494.3" r="4.6" fill="#50c46a" stroke="#50c46a"/>
<circle cx="371.3" cy="687.4" r="4.6" fill="#50c46a" stroke="#50c46a"/>
<circle cx="223.5" cy="803.3" r="4.6" fill="#50c46a" stroke="#50c46a"/>
<circle cx="440.5" cy="827.0" r="4.6" fill="#50c46a" stroke="#50c46a"/>
<circle cx="493.4" cy="634.1" r="4.6" fill="#50c46a" stroke="#50c46a"/>
<circle cx="557.7" cy="755.1" r="4.6" fill="#50c46a" stroke="#50c46a"/>
<circle cx="508.6" cy="755.1" r="4.6" fill="#50c46a" stroke="#50c46a"/>
<circle cx="656.3" cy="808.0" r="4.6" fill="#50c46a" stroke="#50c46a"/>
<circle cx="792.3" cy="806.7" r="4.6" fill="#50c46a" stroke="#50c46a"/>
<circle cx="992.9" cy="611.3" r="4.6" fill="#50c46a" stroke="#50c46a"/>
<circle cx="915.9" cy="655.3" r="4.6" fill="#50c46a" stroke="#50c46a"/>
<circle cx="1091.0" cy="767.3" r="4.6" fill="#50c46a" stroke="#50c46a"/>
<circle cx="1046.7" cy="775.7" r="4.6" fill="#50c46a" stroke="#50c46a"/>
<circle cx="1217.5" cy="670.8" r="4.6" fill="#50c46a" stroke="#50c46a"/>
<circle cx="1257.9" cy="690.3" r="4.6" fill="#50c46a" stroke="#50c46a"/>
<circle cx="1368.2" cy="694.2" r="4.6" fill="#50c46a" stroke="#50c46a"/>
<circle cx="1447.4" cy="766.9" r="4.6" fill="#50c46a" stroke="#50c46a"/>
<circle cx="1242.1" cy="787.7" r="4.6" fill="#50c46a" stroke="#50c46a"/>
<circle cx="1376.0" cy="800.7" r="4.6" fill="#50c46a" stroke="#50c46a"/>
<circle cx="1393.4" cy="817.3" r="4.6" fill="#50c46a" stroke="#50c46a"/>
<circle cx="1546.3" cy="618.9" r="4.6" fill="#50c46a" stroke="#50c46a"/>
<circle cx="1497.1" cy="687.1" r="4.6" fill="#50c46a" stroke="#50c46a"/>
<circle cx="1548.5" cy="726.8" r="4.6" fill="#50c46a" stroke="#50c46a"/>
<circle cx="1499.7" cy="779.4" r="4.6" fill="#50c46a" stroke="#50c46a"/>
<circle cx="1558.2" cy="781.0" r="4.6" fill="#50c46a" stroke="#50c46a"/>
<circle cx="1558.2" cy="781.0" r="4.6" fill="#50c46a" stroke="#50c46a"/>
<circle cx="1562.7" cy="780.8" r="4.6" fill="#50c46a" stroke="#50c46a"/>
<circle cx="1562.7" cy="780.8" r="4.6" fill="#50c46a" stroke="#50c46a"/>
<circle cx="1587.3" cy="780.1" r="4.6" fill="#50c46a" stroke="#50c46a"/>
<circle cx="1595.4" cy="779.6" r="4.6" fill="#50c46a" stroke="#50c46a"/>
<circle cx="1602.2" cy="779.6" r="4.6" fill="#50c46a" stroke="#50c46a"/>
<circle cx="279.6" cy="878.7" r="4.6" fill="#50c46a" stroke="#50c46a"/>
<circle cx="279.6" cy="878.7" r="4.6" fill="#50c46a" stroke="#50c46a"/>
<circle cx="267.4" cy="908.0" r="4.6" fill="#50c46a" stroke="#50c46a"/>
<circle cx="267.4" cy="908.0" r="4.6" fill="#50c46a" stroke="#50c46a"/>
<circle cx="1150.4" cy="896.5" r="4.6" fill="#50c46a" stroke="#50c46a"/>
<circle cx="1176.6" cy="893.6" r="4.6" fill="#50c46a" stroke="#50c46a"/>
<circle cx="1221.8" cy="980.7" r="4.6" fill="#50c46a" stroke="#50c46a"/>
<circle cx="1502.7" cy="866.9" r="4.6" fill="#50c46a" stroke="#50c46a"/>
<circle cx="1507.4" cy="872.5" r="4.6" fill="#50c46a" stroke="#50c46a"/>
<circle cx="1513.4" cy="878.4" r="4.6" fill="#50c46a" stroke="#50c46a"/>
<circle cx="1516.2" cy="878.7" r="4.6" fill="#50c46a" stroke="#50c46a"/>
<circle cx="1462.1" cy="887.2" r="4.6" fill="#50c46a" stroke="#50c46a"/>
<circle cx="1462.1" cy="887.2" r="4.6" fill="#50c46a" stroke="#50c46a"/>
<circle cx="1505.7" cy="900.5" r="4.6" fill="#50c46a" stroke="#50c46a"/>
<circle cx="1505.7" cy="900.5" r="4.6" fill="#50c46a" stroke="#50c46a"/>
<circle cx="1126.5" cy="1192.3" r="4.6" fill="#50c46a" stroke="#50c46a"/>
<circle cx="1126.5" cy="1192.3" r="4.6" fill="#50c46a" stroke="#50c46a"/>
<circle cx="1199.9" cy="1109.4" r="4.6" fill="#50c46a" stroke="#50c46a"/>
<circle cx="1199.9" cy="1109.4" r="4.6" fill="#50c46a" stroke="#50c46a"/>
<circle cx="1199.9" cy="1109.4" r="4.6" fill="#50c46a" stroke="#50c46a"/>
<circle cx="476.2" cy="310.1" r="4.6" fill="#5ec962" stroke="#5ec962"/>
<circle cx="539.6" cy="238.0" r="4.6" fill="#5ec962" stroke="#5ec962"/>
<circle cx="565.5" cy="230.9" r="4.6" fill="#5ec962" stroke="#5ec962"/>
<circle cx="550.1" cy="263.2" r="4.6" fill="#5ec962" stroke="#5ec962"/>
<circle cx="533.7" cy="284.0" r="4.6" fill="#5ec962" stroke="#5ec962"/>
<circle cx="547.2" cy="297.6" r="4.6" fill="#5ec962" stroke="#5ec962"/>
<circle cx="589.5" cy="345.6" r="4.6" fill="#5ec962" stroke="#5ec962"/>
<circle cx="1202.0" cy="332.6" r="4.6" fill="#5ec962" stroke="#5ec962"/>
<circle cx="408.5" cy="481.6" r="4.6" fill="#5ec962" stroke="#5ec962"/>
<circle cx="402.1" cy="559.1" r="4.6" fill="#5ec962" stroke="#5ec962"/>
<circle cx="420.5" cy="575.1" r="4.6" fill="#5ec962" stroke="#5ec962"/>
<circle cx="374.7" cy="581.4" r="4.6" fill="#5ec962" stroke="#5ec962"/>
<circle cx="587.1" cy="359.5" r="4.6" fill="#5ec962" stroke="#5ec962"/>
<circle cx="479.4" cy="510.5" r="4.6" fill="#5ec962" stroke="#5ec962"/>
<circle cx="669.5" cy="589.2" r="4.6" fill="#5ec962" stroke="#5ec962"/>
<circle cx="666.3" cy="405.5" r="4.6" fill="#5ec962" stroke="#5ec962"/>
<circle cx="666.3" cy="405.5" r="4.6" fill="#5ec962" stroke="#5ec962"/>
<circle cx="1256.9" cy="592.0" r="4.6" fill="#5ec962" stroke="#5ec962"/>
<circle cx="1530.3" cy="534.2" r="4.6" fill="#5ec962" stroke="#5ec962"/>
<circle cx="227.0" cy="770.3" r="4.6" fill="#5ec962" stroke="#5ec962"/>
<circle cx="484.5" cy="828.3" r="4.6" fill="#5ec962" stroke="#5ec962"/>
<circle cx="484.5" cy="828.3" r="4.6" fill="#5ec962" stroke="#5ec962"/>
<circle cx="979.4" cy="604.5" r="4.6" fill="#5ec962" stroke="#5ec962"/>
<circle cx="1124.0" cy="751.2" r="4.6" fill="#5ec962" stroke="#5ec962"/>
<circle cx="1185.2" cy="669.0" r="4.6" fill="#5ec962" stroke="#5ec962"/>
<circle cx="1233.6" cy="759.3" r="4.6" fill="#5ec962" stroke="#5ec962"/>
<circle cx="1406.3" cy="821.6" r="4.6" fill="#5ec962" stroke="#5ec962"/>
<circle cx="1418.5" cy="821.9" r="4.6" fill="#5ec962" stroke="#5ec962"/>
<circle cx="1423.9" cy="828.2" r="4.6" fill="#5ec962" stroke="#5ec962"/>
<circle cx="1326.8" cy="840.8" r="4.6" fill="#5ec962" stroke="#5ec962"/>
<circle cx="1326.8" cy="840.8" r="4.6" fill="#5ec962" stroke="#5ec962"/>
<circle cx="1516.2" cy="697.1" r="4.6" fill="#5ec962" stroke="#5ec962"/>
<circle cx="1516.2" cy="697.1" r="4.6" fill="#5ec962" stroke="#5ec962"/>
<circle cx="1579.3" cy="781.3" r="4.6" fill="#5ec962" stroke="#5ec962"/>
<circle cx="1579.3" cy="781.3" r="4.6" fill="#5ec962" stroke="#5ec962"/>
<circle cx="315.6" cy="889.0" r="4.6" fill="#5ec962" stroke="#5ec962"/>
<circle cx="426.9" cy="861.8" r="4.6" fill="#5ec962" stroke="#5ec962"/>
<circle cx="695.4" cy="949.8" r="4.6" fill="#5ec962" stroke="#5ec962"/>
<circle cx="1066.5" cy="918.5" r="4.6" fill="#5ec962" stroke="#5ec962"/>
<circle cx="1009.0" cy="957.9" r="4.6" fill="#5ec962" stroke="#5ec962"/>
<circle cx="1278.1" cy="867.4" r="4.6" fill="#5ec962" stroke="#5ec962"/>
<circle cx="1290.8" cy="937.2" r="4.6" fill="#5ec962" stroke="#5ec962"/>
<circle cx="546.0" cy="243.8" r="4.6" fill="#6ccd5a" stroke="#6ccd5a"/>
<circle cx="562.3" cy="235.3" r="4.6" fill="#6ccd5a" stroke="#6ccd5a"/>
<circle cx="558.5" cy="238.4" r="4.6" fill="#6ccd5a" stroke="#6ccd5a"/>
<circle cx="561.4" cy="246.0" r="4.6" fill="#6ccd5a" stroke="#6ccd5a"/>
<circle cx="538.9" cy="257.3" r="4.6" fill="#6ccd5a" stroke="#6ccd5a"/>
<circle cx="541.1" cy="259.5" r="4.6" fill="#6ccd5a" stroke="#6ccd5a"/>
<circle cx="546.4" cy="288.3" r="4.6" fill="#6ccd5a" stroke="#6ccd5a"/>
<circle cx="646.3" cy="231.9" r="4.6" fill="#6ccd5a" stroke="#6ccd5a"/>
<circle cx="646.3" cy="231.9" r="4.6" fill="#6ccd5a" stroke="#6ccd5a"/>
<circle cx="653.6" cy="226.0" r="4.6" fill="#6ccd5a" stroke="#6ccd5a"/>
<circle cx="658.7" cy="221.8" r="4.6" fill="#6ccd5a" stroke="#6ccd5a"/>
<circle cx="662.1" cy="220.9" r="4.6" fill="#6ccd5a" stroke="#6ccd5a"/>
<circle cx="866.5" cy="342.7" r="4.6" fill="#6ccd5a" stroke="#6ccd5a"/>
<circle cx="441.2" cy="554.3" r="4.6" fill="#6ccd5a" stroke="#6ccd5a"/>
<circle cx="542.3" cy="373.3" r="4.6" fill="#6ccd5a" stroke="#6ccd5a"/>
<circle cx="611.5" cy="455.0" r="4.6" fill="#6ccd5a" stroke="#6ccd5a"/>
<circle cx="546.5" cy="475.7" r="4.6" fill="#6ccd5a" stroke="#6ccd5a"/>
<circle cx="531.8" cy="515.4" r="4.6" fill="#6ccd5a" stroke="#6ccd5a"/>
<circle cx="504.2" cy="530.6" r="4.6" fill="#6ccd5a" stroke="#6ccd5a"/>
<circle cx="492.2" cy="547.7" r="4.6" fill="#6ccd5a" stroke="#6ccd5a"/>
<circle cx="670.5" cy="415.3" r="4.6" fill="#6ccd5a" stroke="#6ccd5a"/>
<circle cx="937.1" cy="387.0" r="4.6" fill="#6ccd5a" stroke="#6ccd5a"/>
<circle cx="1003.9" cy="399.2" r="4.6" fill="#6ccd5a" stroke="#6ccd5a"/>
<circle cx="880.9" cy="411.0" r="4.6" fill="#6ccd5a" stroke="#6ccd5a"/>
<circle cx="1191.5" cy="397.7" r="4.6" fill="#6ccd5a" stroke="#6ccd5a"/>
<circle cx="1562.1" cy="592.2" r="4.6" fill="#6ccd5a" stroke="#6ccd5a"/>
<circle cx="1502.4" cy="580.7" r="4.6" fill="#6ccd5a" stroke="#6ccd5a"/>
<circle cx="341.0" cy="640.6" r="4.6" fill="#6ccd5a" stroke="#6ccd5a"/>
<circle cx="306.3" cy="781.0" r="4.6" fill="#6ccd5a" stroke="#6ccd5a"/>
<circle cx="200.5" cy="808.9" r="4.6" fill="#6ccd5a" stroke="#6ccd5a"/>
<circle cx="400.1" cy="828.3" r="4.6" fill="#6ccd5a" stroke="#6ccd5a"/>
<circle cx="402.3" cy="832.0" r="4.6" fill="#6ccd5a" stroke="#6ccd5a"/>
<circle cx="549.6" cy="662.0" r="4.6" fill="#6ccd5a" stroke="#6ccd5a"/>
<circle cx="1061.2" cy="622.3" r="4.6" fill="#6ccd5a" stroke="#6ccd5a"/>
<circle cx="970.9" cy="653.3" r="4.6" fill="#6ccd5a" stroke="#6ccd5a"/>
<circle cx="1031.0" cy="671.4" r="4.6" fill="#6ccd5a" stroke="#6ccd5a"/>
<circle cx="1029.3" cy="680.7" r="4.6" fill="#6ccd5a" stroke="#6ccd5a"/>
<circle cx="1136.5" cy="673.4" r="4.6" fill="#6ccd5a" stroke="#6ccd5a"/>
<circle cx="1421.0" cy="696.0" r="4.6" fill="#6ccd5a" stroke="#6ccd5a"/>
<circle cx="1421.0" cy="696.0" r="4.6" fill="#6ccd5a" stroke="#6ccd5a"/>
<circle cx="1261.2" cy="735.1" r="4.6" fill="#6ccd5a" stroke="#6ccd5a"/>
<circle cx="1241.2" cy="791.8" r="4.6" fill="#6ccd5a" stroke="#6ccd5a"/>
<circle cx="1399.9" cy="820.7" r="4.6" fill="#6ccd5a" stroke="#6ccd5a"/>
<circle cx="1192.3" cy="827.0" r="4.6" fill="#6ccd5a" stroke="#6ccd5a"/>
<circle cx="1430.3" cy="846.8" r="4.6" fill="#6ccd5a" stroke="#6ccd5a"/>
<circle cx="1432.0" cy="852.0" r="4.6" fill="#6ccd5a" stroke="#6ccd5a"/>
<circle cx="1532.0" cy="620.3" r="4.6" fill="#6ccd5a" stroke="#6ccd5a"/>
<circle cx="1532.0" cy="620.3" r="4.6" fill="#6ccd5a" stroke="#6ccd5a"/>
<circle cx="1598.3" cy="722.9" r="4.6" fill="#6ccd5a" stroke="#6ccd5a"/>
<circle cx="1598.3" cy="722.9" r="4.6" fill="#6ccd5a" stroke="#6ccd5a"/>
<circle cx="1537.5" cy="732.2" r="4.6" fill="#6ccd5a" stroke="#6ccd5a"/>
<circle cx="534.4" cy="875.0" r="4.6" fill="#6ccd5a" stroke="#6ccd5a"/>
<circle cx="668.0" cy="1031.5" r="4.6" fill="#6ccd5a" stroke="#6ccd5a"/>
<circle cx="1026.7" cy="1067.0" r="4.6" fill="#6ccd5a" stroke="#6ccd5a"/>
<circle cx="1434.9" cy="858.9" r="4.6" fill="#6ccd5a" stroke="#6ccd5a"/>
<circle cx="1323.6" cy="883.4" r="4.6" fill="#6ccd5a" stroke="#6ccd5a"/>
<circle cx="1323.6" cy="883.4" r="4.6" fill="#6ccd5a" stroke="#6ccd5a"/>
<circle cx="1209.6" cy="918.1" r="4.6" fill="#6ccd5a" stroke="#6ccd5a"/>
<circle cx="1253.0" cy="920.0" r="4.6" fill="#6ccd5a" stroke="#6ccd5a"/>
<circle cx="1171.2" cy="999.1" r="4.6" fill="#6ccd5a" stroke="#6ccd5a"/>
<circle cx="512.4" cy="1126.7" r="4.6" fill="#6ccd5a" stroke="#6ccd5a"/>
<circle cx="479.4" cy="294.0" r="4.6" fill="#7ad151" stroke="#7ad151"/>
<circle cx="479.4" cy="294.0" r="4.6" fill="#7ad151" stroke="#7ad151"/>
<circle cx="673.1" cy="217.4" r="4.6" fill="#7ad151" stroke="#7ad151"/>
<circle cx="891.6" cy="348.6" r="4.6" fill="#7ad151" stroke="#7ad151"/>
<circle cx="986.5" cy="321.1" r="4.6" fill="#7ad151" stroke="#7ad151"/>
<circle cx="1302.3" cy="269.1" r="4.6" fill="#7ad151" stroke="#7ad151"/>
<circle cx="1302.3" cy="269.1" r="4.6" fill="#7ad151" stroke="#7ad151"/>
<circle cx="447.6" cy="438.3" r="4.6" fill="#7ad151" stroke="#7ad151"/>
<circle cx="439.5" cy="531.3" r="4.6" fill="#7ad151" stroke="#7ad151"/>
<circle cx="481.6" cy="553.1" r="4.6" fill="#7ad151" stroke="#7ad151"/>
<circle cx="478.9" cy="571.7" r="4.6" fill="#7ad151" stroke="#7ad151"/>
<circle cx="493.2" cy="571.4" r="4.6" fill="#7ad151" stroke="#7ad151"/>
<circle cx="692.0" cy="400.4" r="4.6" fill="#7ad151" stroke="#7ad151"/>
<circle cx="941.8" cy="384.0" r="4.6" fill="#7ad151" stroke="#7ad151"/>
<circle cx="944.4" cy="470.4" r="4.6" fill="#7ad151" stroke="#7ad151"/>
<circle cx="989.2" cy="506.6" r="4.6" fill="#7ad151" stroke="#7ad151"/>
<circle cx="935.1" cy="512.9" r="4.6" fill="#7ad151" stroke="#7ad151"/>
<circle cx="986.1" cy="542.6" r="4.6" fill="#7ad151" stroke="#7ad151"/>
<circle cx="952.6" cy="582.2" r="4.6" fill="#7ad151" stroke="#7ad151"/>
<circle cx="1268.1" cy="416.3" r="4.6" fill="#7ad151" stroke="#7ad151"/>
<circle cx="1297.2" cy="436.1" r="4.6" fill="#7ad151" stroke="#7ad151"/>
<circle cx="1239.7" cy="593.4" r="4.6" fill="#7ad151" stroke="#7ad151"/>
<circle cx="1301.3" cy="590.3" r="4.6" fill="#7ad151" stroke="#7ad151"/>
<circle cx="369.3" cy="685.2" r="4.6" fill="#7ad151" stroke="#7ad151"/>
<circle cx="285.9" cy="822.2" r="4.6" fill="#7ad151" stroke="#7ad151"/>
<circle cx="285.9" cy="822.2" r="4.6" fill="#7ad151" stroke="#7ad151"/>
<circle cx="204.4" cy="847.6" r="4.6" fill="#7ad151" stroke="#7ad151"/>
<circle cx="522.8" cy="739.3" r="4.6" fill="#7ad151" stroke="#7ad151"/>
<circle cx="777.4" cy="765.2" r="4.6" fill="#7ad151" stroke="#7ad151"/>
<circle cx="974.6" cy="695.0" r="4.6" fill="#7ad151" stroke="#7ad151"/>
<circle cx="1026.7" cy="678.1" r="4.6" fill="#7ad151" stroke="#7ad151"/>
<circle cx="1010.7" cy="709.7" r="4.6" fill="#7ad151" stroke="#7ad151"/>
<circle cx="1122.3" cy="785.5" r="4.6" fill="#7ad151" stroke="#7ad151"/>
<circle cx="817.5" cy="823.9" r="4.6" fill="#7ad151" stroke="#7ad151"/>
<circle cx="1283.2" cy="625.7" r="4.6" fill="#7ad151" stroke="#7ad151"/>
<circle cx="1454.0" cy="637.5" r="4.6" fill="#7ad151" stroke="#7ad151"/>
<circle cx="1329.3" cy="670.8" r="4.6" fill="#7ad151" stroke="#7ad151"/>
<circle cx="1372.8" cy="709.4" r="4.6" fill="#7ad151" stroke="#7ad151"/>
<circle cx="1169.3" cy="729.7" r="4.6" fill="#7ad151" stroke="#7ad151"/>
<circle cx="1227.7" cy="756.4" r="4.6" fill="#7ad151" stroke="#7ad151"/>
<circle cx="1249.3" cy="759.0" r="4.6" fill="#7ad151" stroke="#7ad151"/>
<circle cx="1259.5" cy="760.5" r="4.6" fill="#7ad151" stroke="#7ad151"/>
<circle cx="1279.3" cy="768.6" r="4.6" fill="#7ad151" stroke="#7ad151"/>
<circle cx="1137.2" cy="772.5" r="4.6" fill="#7ad151" stroke="#7ad151"/>
<circle cx="1266.4" cy="796.5" r="4.6" fill="#7ad151" stroke="#7ad151"/>
<circle cx="386.5" cy="903.2" r="4.6" fill="#7ad151" stroke="#7ad151"/>
<circle cx="555.7" cy="1010.3" r="4.6" fill="#7ad151" stroke="#7ad151"/>
<circle cx="780.0" cy="888.5" r="4.6" fill="#7ad151" stroke="#7ad151"/>
<circle cx="720.9" cy="899.9" r="4.6" fill="#7ad151" stroke="#7ad151"/>
<circle cx="955.5" cy="875.0" r="4.6" fill="#7ad151" stroke="#7ad151"/>
<circle cx="858.9" cy="927.4" r="4.6" fill="#7ad151" stroke="#7ad151"/>
<circle cx="935.7" cy="959.6" r="4.6" fill="#7ad151" stroke="#7ad151"/>
<circle cx="917.1" cy="973.1" r="4.6" fill="#7ad151" stroke="#7ad151"/>
<circle cx="882.1" cy="1041.3" r="4.6" fill="#7ad151" stroke="#7ad151"/>
<circle cx="1240.9" cy="860.6" r="4.6" fill="#7ad151" stroke="#7ad151"/>
<circle cx="1130.9" cy="964.6" r="4.6" fill="#7ad151" stroke="#7ad151"/>
<circle cx="478.2" cy="300.4" r="4.6" fill="#8bd646" stroke="#8bd646"/>
<circle cx="421.5" cy="425.4" r="4.6" fill="#8bd646" stroke="#8bd646"/>
<circle cx="381.1" cy="462.1" r="4.6" fill="#8bd646" stroke="#8bd646"/>
<circle cx="431.3" cy="561.3" r="4.6" fill="#8bd646" stroke="#8bd646"/>
<circle cx="493.8" cy="369.9" r="4.6" fill="#8bd646" stroke="#8bd646"/>
<circle cx="530.0" cy="440.6" r="4.6" fill="#8bd646" stroke="#8bd646"/>
<circle cx="611.8" cy="463.0" r="4.6" fill="#8bd646" stroke="#8bd646"/>
<circle cx="610.0" cy="498.5" r="4.6" fill="#8bd646" stroke="#8bd646"/>
<circle cx="694.2" cy="399.2" r="4.6" fill="#8bd646" stroke="#8bd646"/>
<circle cx="855.6" cy="420.0" r="4.6" fill="#8bd646" stroke="#8bd646"/>
<circle cx="894.8" cy="425.6" r="4.6" fill="#8bd646" stroke="#8bd646"/>
<circle cx="1080.5" cy="420.4" r="4.6" fill="#8bd646" stroke="#8bd646"/>
<circle cx="1077.1" cy="428.0" r="4.6" fill="#8bd646" stroke="#8bd646"/>
<circle cx="1072.4" cy="432.5" r="4.6" fill="#8bd646" stroke="#8bd646"/>
<circle cx="975.6" cy="544.7" r="4.6" fill="#8bd646" stroke="#8bd646"/>
<circle cx="1087.6" cy="570.4" r="4.6" fill="#8bd646" stroke="#8bd646"/>
<circle cx="1177.1" cy="410.0" r="4.6" fill="#8bd646" stroke="#8bd646"/>
<circle cx="1354.0" cy="470.8" r="4.6" fill="#8bd646" stroke="#8bd646"/>
<circle cx="1247.8" cy="520.5" r="4.6" fill="#8bd646" stroke="#8bd646"/>
<circle cx="1247.8" cy="520.5" r="4.6" fill="#8bd646" stroke="#8bd646"/>
<circle cx="1389.7" cy="570.0" r="4.6" fill="#8bd646" stroke="#8bd646"/>
<circle cx="436.3" cy="613.8" r="4.6" fill="#8bd646" stroke="#8bd646"/>
<circle cx="455.9" cy="659.8" r="4.6" fill="#8bd646" stroke="#8bd646"/>
<circle cx="293.5" cy="717.4" r="4.6" fill="#8bd646" stroke="#8bd646"/>
<circle cx="293.5" cy="717.4" r="4.6" fill="#8bd646" stroke="#8bd646"/>
<circle cx="307.2" cy="763.0" r="4.6" fill="#8bd646" stroke="#8bd646"/>
<circle cx="340.3" cy="785.0" r="4.6" fill="#8bd646" stroke="#8bd646"/>
<circle cx="340.3" cy="785.0" r="4.6" fill="#8bd646" stroke="#8bd646"/>
<circle cx="421.0" cy="793.6" r="4.6" fill="#8bd646" stroke="#8bd646"/>
<circle cx="209.4" cy="850.6" r="4.6" fill="#8bd646" stroke="#8bd646"/>
<circle cx="531.8" cy="657.0" r="4.6" fill="#8bd646" stroke="#8bd646"/>
<circle cx="634.1" cy="604.0" r="4.6" fill="#8bd646" stroke="#8bd646"/>
<circle cx="634.1" cy="604.0" r="4.6" fill="#8bd646" stroke="#8bd646"/>
<circle cx="520.0" cy="683.5" r="4.6" fill="#8bd646" stroke="#8bd646"/>
<circle cx="547.9" cy="691.6" r="4.6" fill="#8bd646" stroke="#8bd646"/>
<circle cx="527.9" cy="719.6" r="4.6" fill="#8bd646" stroke="#8bd646"/>
<circle cx="501.0" cy="843.0" r="4.6" fill="#8bd646" stroke="#8bd646"/>
<circle cx="650.7" cy="831.5" r="4.6" fill="#8bd646" stroke="#8bd646"/>
<circle cx="684.0" cy="748.8" r="4.6" fill="#8bd646" stroke="#8bd646"/>
<circle cx="760.5" cy="803.3" r="4.6" fill="#8bd646" stroke="#8bd646"/>
<circle cx="975.5" cy="685.2" r="4.6" fill="#8bd646" stroke="#8bd646"/>
<circle cx="1050.6" cy="670.7" r="4.6" fill="#8bd646" stroke="#8bd646"/>
<circle cx="919.5" cy="709.7" r="4.6" fill="#8bd646" stroke="#8bd646"/>
<circle cx="919.5" cy="709.7" r="4.6" fill="#8bd646" stroke="#8bd646"/>
<circle cx="1050.8" cy="728.9" r="4.6" fill="#8bd646" stroke="#8bd646"/>
<circle cx="1050.8" cy="728.9" r="4.6" fill="#8bd646" stroke="#8bd646"/>
<circle cx="1102.5" cy="748.8" r="4.6" fill="#8bd646" stroke="#8bd646"/>
<circle cx="1021.3" cy="818.8" r="4.6" fill="#8bd646" stroke="#8bd646"/>
<circle cx="1020.5" cy="845.9" r="4.6" fill="#8bd646" stroke="#8bd646"/>
<circle cx="1229.9" cy="641.2" r="4.6" fill="#8bd646" stroke="#8bd646"/>
<circle cx="1203.1" cy="644.3" r="4.6" fill="#8bd646" stroke="#8bd646"/>
<circle cx="1219.9" cy="652.6" r="4.6" fill="#8bd646" stroke="#8bd646"/>
<circle cx="1385.5" cy="654.8" r="4.6" fill="#8bd646" stroke="#8bd646"/>
<circle cx="1221.9" cy="700.6" r="4.6" fill="#8bd646" stroke="#8bd646"/>
<circle cx="1447.7" cy="753.4" r="4.6" fill="#8bd646" stroke="#8bd646"/>
<circle cx="213.7" cy="853.8" r="4.6" fill="#8bd646" stroke="#8bd646"/>
<circle cx="217.5" cy="856.7" r="4.6" fill="#8bd646" stroke="#8bd646"/>
<circle cx="382.3" cy="905.1" r="4.6" fill="#8bd646" stroke="#8bd646"/>
<circle cx="383.0" cy="988.8" r="4.6" fill="#8bd646" stroke="#8bd646"/>
<circle cx="383.0" cy="988.8" r="4.6" fill="#8bd646" stroke="#8bd646"/>
<circle cx="356.9" cy="997.1" r="4.6" fill="#8bd646" stroke="#8bd646"/>
<circle cx="496.0" cy="869.9" r="4.6" fill="#8bd646" stroke="#8bd646"/>
<circle cx="783.5" cy="966.0" r="4.6" fill="#8bd646" stroke="#8bd646"/>
<circle cx="1078.7" cy="866.7" r="4.6" fill="#8bd646" stroke="#8bd646"/>
<circle cx="880.6" cy="870.4" r="4.6" fill="#8bd646" stroke="#8bd646"/>
<circle cx="1017.6" cy="926.6" r="4.6" fill="#8bd646" stroke="#8bd646"/>
<circle cx="1049.6" cy="961.3" r="4.6" fill="#8bd646" stroke="#8bd646"/>
<circle cx="929.5" cy="964.1" r="4.6" fill="#8bd646" stroke="#8bd646"/>
<circle cx="1046.7" cy="976.1" r="4.6" fill="#8bd646" stroke="#8bd646"/>
<circle cx="846.6" cy="1103.3" r="4.6" fill="#8bd646" stroke="#8bd646"/>
<circle cx="1252.7" cy="929.1" r="4.6" fill="#8bd646" stroke="#8bd646"/>
<circle cx="1191.8" cy="973.6" r="4.6" fill="#8bd646" stroke="#8bd646"/>
<circle cx="750.0" cy="1106.0" r="4.6" fill="#8bd646" stroke="#8bd646"/>
<circle cx="750.0" cy="1106.0" r="4.6" fill="#8bd646" stroke="#8bd646"/>
<circle cx="1224.1" cy="1188.7" r="4.6" fill="#8bd646" stroke="#8bd646"/>
<circle cx="1224.1" cy="1188.7" r="4.6" fill="#8bd646" stroke="#8bd646"/>
<circle cx="1224.1" cy="1188.7" r="4.6" fill="#8bd646" stroke="#8bd646"/>
<circle cx="854.5" cy="120.3" r="4.6" fill="#9bd93c" stroke="#9bd93c"/>
<circle cx="389.2" cy="493.6" r="4.6" fill="#9bd93c" stroke="#9bd93c"/>
<circle cx="413.2" cy="536.2" r="4.6" fill="#9bd93c" stroke="#9bd93c"/>
<circle cx="412.4" cy="563.3" r="4.6" fill="#9bd93c" stroke="#9bd93c"/>
<circle cx="463.1" cy="576.8" r="4.6" fill="#9bd93c" stroke="#9bd93c"/>
<circle cx="536.2" cy="424.9" r="4.6" fill="#9bd93c" stroke="#9bd93c"/>
<circle cx="606.7" cy="470.2" r="4.6" fill="#9bd93c" stroke="#9bd93c"/>
<circle cx="851.7" cy="440.6" r="4.6" fill="#9bd93c" stroke="#9bd93c"/>
<circle cx="912.2" cy="453.7" r="4.6" fill="#9bd93c" stroke="#9bd93c"/>
<circle cx="995.6" cy="582.2" r="4.6" fill="#9bd93c" stroke="#9bd93c"/>
<circle cx="1286.5" cy="451.6" r="4.6" fill="#9bd93c" stroke="#9bd93c"/>
<circle cx="1506.8" cy="590.3" r="4.6" fill="#9bd93c" stroke="#9bd93c"/>
<circle cx="337.3" cy="648.2" r="4.6" fill="#9bd93c" stroke="#9bd93c"/>
<circle cx="373.3" cy="708.2" r="4.6" fill="#9bd93c" stroke="#9bd93c"/>
<circle cx="464.0" cy="738.2" r="4.6" fill="#9bd93c" stroke="#9bd93c"/>
<circle cx="403.3" cy="767.4" r="4.6" fill="#9bd93c" stroke="#9bd93c"/>
<circle cx="493.8" cy="627.4" r="4.6" fill="#9bd93c" stroke="#9bd93c"/>
<circle cx="529.6" cy="665.8" r="4.6" fill="#9bd93c" stroke="#9bd93c"/>
<circle cx="582.9" cy="651.9" r="4.6" fill="#9bd93c" stroke="#9bd93c"/>
<circle cx="596.9" cy="707.2" r="4.6" fill="#9bd93c" stroke="#9bd93c"/>
<circle cx="580.7" cy="749.8" r="4.6" fill="#9bd93c" stroke="#9bd93c"/>
<circle cx="961.6" cy="680.7" r="4.6" fill="#9bd93c" stroke="#9bd93c"/>
<circle cx="1020.5" cy="745.8" r="4.6" fill="#9bd93c" stroke="#9bd93c"/>
<circle cx="972.3" cy="769.5" r="4.6" fill="#9bd93c" stroke="#9bd93c"/>
<circle cx="972.3" cy="769.5" r="4.6" fill="#9bd93c" stroke="#9bd93c"/>
<circle cx="1221.4" cy="620.6" r="4.6" fill="#9bd93c" stroke="#9bd93c"/>
<circle cx="1361.8" cy="629.9" r="4.6" fill="#9bd93c" stroke="#9bd93c"/>
<circle cx="1289.9" cy="658.2" r="4.6" fill="#9bd93c" stroke="#9bd93c"/>
<circle cx="1314.8" cy="670.0" r="4.6" fill="#9bd93c" stroke="#9bd93c"/>
<circle cx="1308.2" cy="687.1" r="4.6" fill="#9bd93c" stroke="#9bd93c"/>
<circle cx="1199.4" cy="702.1" r="4.6" fill="#9bd93c" stroke="#9bd93c"/>
<circle cx="1137.7" cy="707.7" r="4.6" fill="#9bd93c" stroke="#9bd93c"/>
<circle cx="1219.4" cy="718.7" r="4.6" fill="#9bd93c" stroke="#9bd93c"/>
<circle cx="1218.9" cy="750.8" r="4.6" fill="#9bd93c" stroke="#9bd93c"/>
<circle cx="1452.3" cy="749.2" r="4.6" fill="#9bd93c" stroke="#9bd93c"/>
<circle cx="1215.7" cy="781.3" r="4.6" fill="#9bd93c" stroke="#9bd93c"/>
<circle cx="242.6" cy="890.6" r="4.6" fill="#9bd93c" stroke="#9bd93c"/>
<circle cx="307.0" cy="894.1" r="4.6" fill="#9bd93c" stroke="#9bd93c"/>
<circle cx="469.2" cy="885.1" r="4.6" fill="#9bd93c" stroke="#9bd93c"/>
<circle cx="711.1" cy="897.3" r="4.6" fill="#9bd93c" stroke="#9bd93c"/>
<circle cx="1110.6" cy="943.8" r="4.6" fill="#9bd93c" stroke="#9bd93c"/>
<circle cx="1110.6" cy="943.8" r="4.6" fill="#9bd93c" stroke="#9bd93c"/>
<circle cx="1241.7" cy="903.4" r="4.6" fill="#9bd93c" stroke="#9bd93c"/>
<circle cx="1217.7" cy="979.4" r="4.6" fill="#9bd93c" stroke="#9bd93c"/>
<circle cx="1386.8" cy="1016.6" r="4.6" fill="#9bd93c" stroke="#9bd93c"/>
<circle cx="622.6" cy="253.1" r="4.6" fill="#addc30" stroke="#addc30"/>
<circle cx="851.2" cy="117.8" r="4.6" fill="#addc30" stroke="#addc30"/>
<circle cx="838.6" cy="127.1" r="4.6" fill="#addc30" stroke="#addc30"/>
<circle cx="448.9" cy="396.2" r="4.6" fill="#addc30" stroke="#addc30"/>
<circle cx="277.6" cy="545.9" r="4.6" fill="#addc30" stroke="#addc30"/>
<circle cx="610.8" cy="460.1" r="4.6" fill="#addc30" stroke="#addc30"/>
<circle cx="599.8" cy="490.5" r="4.6" fill="#addc30" stroke="#addc30"/>
<circle cx="577.8" cy="515.1" r="4.6" fill="#addc30" stroke="#addc30"/>
<circle cx="700.1" cy="393.3" r="4.6" fill="#addc30" stroke="#addc30"/>
<circle cx="944.7" cy="378.4" r="4.6" fill="#addc30" stroke="#addc30"/>
<circle cx="956.0" cy="405.5" r="4.6" fill="#addc30" stroke="#addc30"/>
<circle cx="847.9" cy="409.9" r="4.6" fill="#addc30" stroke="#addc30"/>
<circle cx="926.4" cy="465.7" r="4.6" fill="#addc30" stroke="#addc30"/>
<circle cx="976.8" cy="592.5" r="4.6" fill="#addc30" stroke="#addc30"/>
<circle cx="1251.7" cy="457.6" r="4.6" fill="#addc30" stroke="#addc30"/>
<circle cx="1229.2" cy="547.2" r="4.6" fill="#addc30" stroke="#addc30"/>
<circle cx="1315.5" cy="551.8" r="4.6" fill="#addc30" stroke="#addc30"/>
<circle cx="1312.4" cy="564.1" r="4.6" fill="#addc30" stroke="#addc30"/>
<circle cx="1312.4" cy="564.1" r="4.6" fill="#addc30" stroke="#addc30"/>
<circle cx="1203.0" cy="568.9" r="4.6" fill="#addc30" stroke="#addc30"/>
<circle cx="1471.4" cy="489.4" r="4.6" fill="#addc30" stroke="#addc30"/>
<circle cx="1515.2" cy="581.0" r="4.6" fill="#addc30" stroke="#addc30"/>
<circle cx="458.1" cy="622.6" r="4.6" fill="#addc30" stroke="#addc30"/>
<circle cx="275.4" cy="722.4" r="4.6" fill="#addc30" stroke="#addc30"/>
<circle cx="275.4" cy="722.4" r="4.6" fill="#addc30" stroke="#addc30"/>
<circle cx="488.7" cy="625.7" r="4.6" fill="#addc30" stroke="#addc30"/>
<circle cx="566.5" cy="685.4" r="4.6" fill="#addc30" stroke="#addc30"/>
<circle cx="481.1" cy="719.1" r="4.6" fill="#addc30" stroke="#addc30"/>
<circle cx="514.4" cy="827.5" r="4.6" fill="#addc30" stroke="#addc30"/>
<circle cx="977.3" cy="703.2" r="4.6" fill="#addc30" stroke="#addc30"/>
<circle cx="1042.3" cy="675.7" r="4.6" fill="#addc30" stroke="#addc30"/>
<circle cx="829.7" cy="835.1" r="4.6" fill="#addc30" stroke="#addc30"/>
<circle cx="1151.7" cy="654.8" r="4.6" fill="#addc30" stroke="#addc30"/>
<circle cx="1417.6" cy="673.9" r="4.6" fill="#addc30" stroke="#addc30"/>
<circle cx="1216.3" cy="708.6" r="4.6" fill="#addc30" stroke="#addc30"/>
<circle cx="1305.6" cy="706.4" r="4.6" fill="#addc30" stroke="#addc30"/>
<circle cx="1174.1" cy="770.3" r="4.6" fill="#addc30" stroke="#addc30"/>
<circle cx="1252.7" cy="818.2" r="4.6" fill="#addc30" stroke="#addc30"/>
<circle cx="303.8" cy="901.2" r="4.6" fill="#addc30" stroke="#addc30"/>
<circle cx="437.3" cy="868.2" r="4.6" fill="#addc30" stroke="#addc30"/>
<circle cx="509.3" cy="858.4" r="4.6" fill="#addc30" stroke="#addc30"/>
<circle cx="480.6" cy="911.7" r="4.6" fill="#addc30" stroke="#addc30"/>
<circle cx="474.8" cy="954.5" r="4.6" fill="#addc30" stroke="#addc30"/>
<circle cx="967.0" cy="912.2" r="4.6" fill="#addc30" stroke="#addc30"/>
<circle cx="858.3" cy="963.6" r="4.6" fill="#addc30" stroke="#addc30"/>
<circle cx="1015.7" cy="983.8" r="4.6" fill="#addc30" stroke="#addc30"/>
<circle cx="882.1" cy="1041.3" r="4.6" fill="#addc30" stroke="#addc30"/>
<circle cx="1033.5" cy="1070.0" r="4.6" fill="#addc30" stroke="#addc30"/>
<circle cx="1231.9" cy="857.2" r="4.6" fill="#addc30" stroke="#addc30"/>
<circle cx="1271.0" cy="893.6" r="4.6" fill="#addc30" stroke="#addc30"/>
<circle cx="1268.4" cy="996.8" r="4.6" fill="#addc30" stroke="#addc30"/>
<circle cx="978.9" cy="1195.3" r="4.6" fill="#addc30" stroke="#addc30"/>
<circle cx="618.4" cy="254.8" r="4.6" fill="#bddf26" stroke="#bddf26"/>
<circle cx="710.8" cy="323.8" r="4.6" fill="#bddf26" stroke="#bddf26"/>
<circle cx="710.8" cy="323.8" r="4.6" fill="#bddf26" stroke="#bddf26"/>
<circle cx="462.3" cy="399.7" r="4.6" fill="#bddf26" stroke="#bddf26"/>
<circle cx="399.9" cy="514.7" r="4.6" fill="#bddf26" stroke="#bddf26"/>
<circle cx="425.4" cy="509.7" r="4.6" fill="#bddf26" stroke="#bddf26"/>
<circle cx="401.6" cy="544.3" r="4.6" fill="#bddf26" stroke="#bddf26"/>
<circle cx="605.7" cy="526.1" r="4.6" fill="#bddf26" stroke="#bddf26"/>
<circle cx="585.8" cy="527.9" r="4.6" fill="#bddf26" stroke="#bddf26"/>
<circle cx="638.4" cy="576.3" r="4.6" fill="#bddf26" stroke="#bddf26"/>
<circle cx="726.7" cy="589.0" r="4.6" fill="#bddf26" stroke="#bddf26"/>
<circle cx="730.9" cy="404.8" r="4.6" fill="#bddf26" stroke="#bddf26"/>
<circle cx="1075.4" cy="573.1" r="4.6" fill="#bddf26" stroke="#bddf26"/>
<circle cx="1276.0" cy="391.1" r="4.6" fill="#bddf26" stroke="#bddf26"/>
<circle cx="1188.9" cy="407.7" r="4.6" fill="#bddf26" stroke="#bddf26"/>
<circle cx="1147.0" cy="419.5" r="4.6" fill="#bddf26" stroke="#bddf26"/>
<circle cx="1172.5" cy="429.5" r="4.6" fill="#bddf26" stroke="#bddf26"/>
<circle cx="349.5" cy="847.6" r="4.6" fill="#bddf26" stroke="#bddf26"/>
<circle cx="505.9" cy="655.8" r="4.6" fill="#bddf26" stroke="#bddf26"/>
<circle cx="547.4" cy="690.3" r="4.6" fill="#bddf26" stroke="#bddf26"/>
<circle cx="539.1" cy="774.5" r="4.6" fill="#bddf26" stroke="#bddf26"/>
<circle cx="586.8" cy="828.2" r="4.6" fill="#bddf26" stroke="#bddf26"/>
<circle cx="1082.6" cy="742.4" r="4.6" fill="#bddf26" stroke="#bddf26"/>
<circle cx="1057.5" cy="772.2" r="4.6" fill="#bddf26" stroke="#bddf26"/>
<circle cx="1088.8" cy="796.5" r="4.6" fill="#bddf26" stroke="#bddf26"/>
<circle cx="861.8" cy="830.3" r="4.6" fill="#bddf26" stroke="#bddf26"/>
<circle cx="1225.8" cy="629.1" r="4.6" fill="#bddf26" stroke="#bddf26"/>
<circle cx="1341.0" cy="641.7" r="4.6" fill="#bddf26" stroke="#bddf26"/>
<circle cx="1174.1" cy="654.9" r="4.6" fill="#bddf26" stroke="#bddf26"/>
<circle cx="1370.3" cy="690.0" r="4.6" fill="#bddf26" stroke="#bddf26"/>
<circle cx="316.3" cy="933.2" r="4.6" fill="#bddf26" stroke="#bddf26"/>
<circle cx="1076.3" cy="913.9" r="4.6" fill="#bddf26" stroke="#bddf26"/>
<circle cx="1153.4" cy="893.6" r="4.6" fill="#bddf26" stroke="#bddf26"/>
<circle cx="1132.6" cy="945.7" r="4.6" fill="#bddf26" stroke="#bddf26"/>
<circle cx="575.8" cy="254.8" r="4.6" fill="#cde11d" stroke="#cde11d"/>
<circle cx="876.2" cy="343.6" r="4.6" fill="#cde11d" stroke="#cde11d"/>
<circle cx="978.5" cy="321.1" r="4.6" fill="#cde11d" stroke="#cde11d"/>
<circle cx="1293.5" cy="283.2" r="4.6" fill="#cde11d" stroke="#cde11d"/>
<circle cx="1201.6" cy="330.9" r="4.6" fill="#cde11d" stroke="#cde11d"/>
<circle cx="348.5" cy="561.8" r="4.6" fill="#cde11d" stroke="#cde11d"/>
<circle cx="543.1" cy="370.5" r="4.6" fill="#cde11d" stroke="#cde11d"/>
<circle cx="614.7" cy="531.6" r="4.6" fill="#cde11d" stroke="#cde11d"/>
<circle cx="492.6" cy="468.9" r="4.6" fill="#cde11d" stroke="#cde11d"/>
<circle cx="722.4" cy="492.7" r="4.6" fill="#cde11d" stroke="#cde11d"/>
<circle cx="706.5" cy="403.8" r="4.6" fill="#cde11d" stroke="#cde11d"/>
<circle cx="1026.4" cy="416.1" r="4.6" fill="#cde11d" stroke="#cde11d"/>
<circle cx="890.6" cy="425.1" r="4.6" fill="#cde11d" stroke="#cde11d"/>
<circle cx="1115.9" cy="450.0" r="4.6" fill="#cde11d" stroke="#cde11d"/>
<circle cx="1019.5" cy="469.2" r="4.6" fill="#cde11d" stroke="#cde11d"/>
<circle cx="952.6" cy="550.3" r="4.6" fill="#cde11d" stroke="#cde11d"/>
<circle cx="227.4" cy="772.3" r="4.6" fill="#cde11d" stroke="#cde11d"/>
<circle cx="227.4" cy="772.3" r="4.6" fill="#cde11d" stroke="#cde11d"/>
<circle cx="455.5" cy="828.7" r="4.6" fill="#cde11d" stroke="#cde11d"/>
<circle cx="492.1" cy="615.5" r="4.6" fill="#cde11d" stroke="#cde11d"/>
<circle cx="472.1" cy="680.5" r="4.6" fill="#cde11d" stroke="#cde11d"/>
<circle cx="747.1" cy="796.9" r="4.6" fill="#cde11d" stroke="#cde11d"/>
<circle cx="756.8" cy="823.2" r="4.6" fill="#cde11d" stroke="#cde11d"/>
<circle cx="1028.8" cy="619.4" r="4.6" fill="#cde11d" stroke="#cde11d"/>
<circle cx="1048.2" cy="719.6" r="4.6" fill="#cde11d" stroke="#cde11d"/>
<circle cx="959.1" cy="725.0" r="4.6" fill="#cde11d" stroke="#cde11d"/>
<circle cx="905.8" cy="751.7" r="4.6" fill="#cde11d" stroke="#cde11d"/>
<circle cx="989.2" cy="797.4" r="4.6" fill="#cde11d" stroke="#cde11d"/>
<circle cx="1044.0" cy="824.9" r="4.6" fill="#cde11d" stroke="#cde11d"/>
<circle cx="1043.6" cy="827.8" r="4.6" fill="#cde11d" stroke="#cde11d"/>
<circle cx="1168.1" cy="768.3" r="4.6" fill="#cde11d" stroke="#cde11d"/>
<circle cx="1243.1" cy="781.6" r="4.6" fill="#cde11d" stroke="#cde11d"/>
<circle cx="1147.3" cy="796.5" r="4.6" fill="#cde11d" stroke="#cde11d"/>
<circle cx="1193.2" cy="804.6" r="4.6" fill="#cde11d" stroke="#cde11d"/>
<circle cx="1257.3" cy="819.4" r="4.6" fill="#cde11d" stroke="#cde11d"/>
<circle cx="1536.7" cy="604.5" r="4.6" fill="#cde11d" stroke="#cde11d"/>
<circle cx="343.9" cy="859.8" r="4.6" fill="#cde11d" stroke="#cde11d"/>
<circle cx="368.6" cy="866.5" r="4.6" fill="#cde11d" stroke="#cde11d"/>
<circle cx="432.2" cy="994.7" r="4.6" fill="#cde11d" stroke="#cde11d"/>
<circle cx="718.7" cy="1065.3" r="4.6" fill="#cde11d" stroke="#cde11d"/>
<circle cx="858.4" cy="887.3" r="4.6" fill="#cde11d" stroke="#cde11d"/>
<circle cx="1020.5" cy="963.5" r="4.6" fill="#cde11d" stroke="#cde11d"/>
<circle cx="1055.5" cy="988.8" r="4.6" fill="#cde11d" stroke="#cde11d"/>
<circle cx="839.5" cy="1034.7" r="4.6" fill="#cde11d" stroke="#cde11d"/>
<circle cx="1194.4" cy="974.1" r="4.6" fill="#cde11d" stroke="#cde11d"/>
<circle cx="1194.4" cy="974.1" r="4.6" fill="#cde11d" stroke="#cde11d"/>
<circle cx="1254.7" cy="984.1" r="4.6" fill="#cde11d" stroke="#cde11d"/>
<circle cx="1395.6" cy="1010.3" r="4.6" fill="#cde11d" stroke="#cde11d"/>
<circle cx="1395.6" cy="1010.3" r="4.6" fill="#cde11d" stroke="#cde11d"/>
<circle cx="1433.2" cy="339.7" r="4.6" fill="#dfe318" stroke="#dfe318"/>
<circle cx="407.3" cy="432.2" r="4.6" fill="#dfe318" stroke="#dfe318"/>
<circle cx="472.1" cy="402.6" r="4.6" fill="#dfe318" stroke="#dfe318"/>
<circle cx="491.2" cy="409.9" r="4.6" fill="#dfe318" stroke="#dfe318"/>
<circle cx="537.6" cy="470.1" r="4.6" fill="#dfe318" stroke="#dfe318"/>
<circle cx="469.7" cy="539.6" r="4.6" fill="#dfe318" stroke="#dfe318"/>
<circle cx="472.3" cy="562.8" r="4.6" fill="#dfe318" stroke="#dfe318"/>
<circle cx="1110.5" cy="453.7" r="4.6" fill="#dfe318" stroke="#dfe318"/>
<circle cx="1110.5" cy="453.7" r="4.6" fill="#dfe318" stroke="#dfe318"/>
<circle cx="987.0" cy="504.2" r="4.6" fill="#dfe318" stroke="#dfe318"/>
<circle cx="1074.1" cy="527.8" r="4.6" fill="#dfe318" stroke="#dfe318"/>
<circle cx="1074.1" cy="527.8" r="4.6" fill="#dfe318" stroke="#dfe318"/>
<circle cx="1423.7" cy="443.5" r="4.6" fill="#dfe318" stroke="#dfe318"/>
<circle cx="1259.6" cy="482.8" r="4.6" fill="#dfe318" stroke="#dfe318"/>
<circle cx="1172.9" cy="494.8" r="4.6" fill="#dfe318" stroke="#dfe318"/>
<circle cx="1229.9" cy="563.6" r="4.6" fill="#dfe318" stroke="#dfe318"/>
<circle cx="1493.6" cy="436.9" r="4.6" fill="#dfe318" stroke="#dfe318"/>
<circle cx="1528.1" cy="539.3" r="4.6" fill="#dfe318" stroke="#dfe318"/>
<circle cx="442.0" cy="681.8" r="4.6" fill="#dfe318" stroke="#dfe318"/>
<circle cx="480.2" cy="608.8" r="4.6" fill="#dfe318" stroke="#dfe318"/>
<circle cx="494.1" cy="607.1" r="4.6" fill="#dfe318" stroke="#dfe318"/>
<circle cx="497.1" cy="618.9" r="4.6" fill="#dfe318" stroke="#dfe318"/>
<circle cx="535.4" cy="614.2" r="4.6" fill="#dfe318" stroke="#dfe318"/>
<circle cx="778.8" cy="632.8" r="4.6" fill="#dfe318" stroke="#dfe318"/>
<circle cx="571.6" cy="687.9" r="4.6" fill="#dfe318" stroke="#dfe318"/>
<circle cx="493.1" cy="740.7" r="4.6" fill="#dfe318" stroke="#dfe318"/>
<circle cx="555.0" cy="782.3" r="4.6" fill="#dfe318" stroke="#dfe318"/>
<circle cx="563.6" cy="793.1" r="4.6" fill="#dfe318" stroke="#dfe318"/>
<circle cx="650.6" cy="712.3" r="4.6" fill="#dfe318" stroke="#dfe318"/>
<circle cx="671.0" cy="751.2" r="4.6" fill="#dfe318" stroke="#dfe318"/>
<circle cx="1112.7" cy="654.9" r="4.6" fill="#dfe318" stroke="#dfe318"/>
<circle cx="1112.7" cy="654.9" r="4.6" fill="#dfe318" stroke="#dfe318"/>
<circle cx="1099.5" cy="732.2" r="4.6" fill="#dfe318" stroke="#dfe318"/>
<circle cx="1099.5" cy="732.2" r="4.6" fill="#dfe318" stroke="#dfe318"/>
<circle cx="1116.9" cy="752.2" r="4.6" fill="#dfe318" stroke="#dfe318"/>
<circle cx="994.1" cy="792.3" r="4.6" fill="#dfe318" stroke="#dfe318"/>
<circle cx="1358.4" cy="700.6" r="4.6" fill="#dfe318" stroke="#dfe318"/>
<circle cx="1234.3" cy="725.5" r="4.6" fill="#dfe318" stroke="#dfe318"/>
<circle cx="1386.0" cy="743.2" r="4.6" fill="#dfe318" stroke="#dfe318"/>
<circle cx="1169.3" cy="798.5" r="4.6" fill="#dfe318" stroke="#dfe318"/>
<circle cx="1259.1" cy="806.2" r="4.6" fill="#dfe318" stroke="#dfe318"/>
<circle cx="1115.7" cy="898.7" r="4.6" fill="#dfe318" stroke="#dfe318"/>
<circle cx="1033.2" cy="954.0" r="4.6" fill="#dfe318" stroke="#dfe318"/>
<circle cx="1287.0" cy="905.1" r="4.6" fill="#dfe318" stroke="#dfe318"/>
<circle cx="1136.3" cy="1131.6" r="4.6" fill="#dfe318" stroke="#dfe318"/>
<circle cx="1136.3" cy="1131.6" r="4.6" fill="#dfe318" stroke="#dfe318"/>
<circle cx="1136.3" cy="1131.6" r="4.6" fill="#dfe318" stroke="#dfe318"/>
<circle cx="844.4" cy="120.3" r="4.6" fill="#efe51c" stroke="#efe51c"/>
<circle cx="416.6" cy="559.1" r="4.6" fill="#efe51c" stroke="#efe51c"/>
<circle cx="605.1" cy="355.7" r="4.6" fill="#efe51c" stroke="#efe51c"/>
<circle cx="498.5" cy="587.8" r="4.6" fill="#efe51c" stroke="#efe51c"/>
<circle cx="773.4" cy="381.4" r="4.6" fill="#efe51c" stroke="#efe51c"/>
<circle cx="773.4" cy="381.4" r="4.6" fill="#efe51c" stroke="#efe51c"/>
<circle cx="951.6" cy="469.9" r="4.6" fill="#efe51c" stroke="#efe51c"/>
<circle cx="880.9" cy="496.5" r="4.6" fill="#efe51c" stroke="#efe51c"/>
<circle cx="999.3" cy="523.2" r="4.6" fill="#efe51c" stroke="#efe51c"/>
<circle cx="1039.8" cy="582.7" r="4.6" fill="#efe51c" stroke="#efe51c"/>
<circle cx="1384.5" cy="400.1" r="4.6" fill="#efe51c" stroke="#efe51c"/>
<circle cx="1384.5" cy="400.1" r="4.6" fill="#efe51c" stroke="#efe51c"/>
<circle cx="1246.8" cy="457.9" r="4.6" fill="#efe51c" stroke="#efe51c"/>
<circle cx="1269.5" cy="471.8" r="4.6" fill="#efe51c" stroke="#efe51c"/>
<circle cx="1348.6" cy="567.2" r="4.6" fill="#efe51c" stroke="#efe51c"/>
<circle cx="1348.6" cy="567.2" r="4.6" fill="#efe51c" stroke="#efe51c"/>
<circle cx="1294.7" cy="595.1" r="4.6" fill="#efe51c" stroke="#efe51c"/>
<circle cx="427.8" cy="646.5" r="4.6" fill="#efe51c" stroke="#efe51c"/>
<circle cx="326.5" cy="756.3" r="4.6" fill="#efe51c" stroke="#efe51c"/>
<circle cx="447.1" cy="755.9" r="4.6" fill="#efe51c" stroke="#efe51c"/>
<circle cx="504.2" cy="682.3" r="4.6" fill="#efe51c" stroke="#efe51c"/>
<circle cx="509.3" cy="703.2" r="4.6" fill="#efe51c" stroke="#efe51c"/>
<circle cx="550.1" cy="718.0" r="4.6" fill="#efe51c" stroke="#efe51c"/>
<circle cx="506.4" cy="780.8" r="4.6" fill="#efe51c" stroke="#efe51c"/>
<circle cx="776.7" cy="771.1" r="4.6" fill="#efe51c" stroke="#efe51c"/>
<circle cx="899.4" cy="668.0" r="4.6" fill="#efe51c" stroke="#efe51c"/>
<circle cx="925.9" cy="714.5" r="4.6" fill="#efe51c" stroke="#efe51c"/>
<circle cx="804.3" cy="847.3" r="4.6" fill="#efe51c" stroke="#efe51c"/>
<circle cx="1399.0" cy="620.3" r="4.6" fill="#efe51c" stroke="#efe51c"/>
<circle cx="1155.1" cy="640.9" r="4.6" fill="#efe51c" stroke="#efe51c"/>
<circle cx="1175.1" cy="684.0" r="4.6" fill="#efe51c" stroke="#efe51c"/>
<circle cx="1147.8" cy="716.2" r="4.6" fill="#efe51c" stroke="#efe51c"/>
<circle cx="1166.3" cy="747.0" r="4.6" fill="#efe51c" stroke="#efe51c"/>
<circle cx="1398.5" cy="767.3" r="4.6" fill="#efe51c" stroke="#efe51c"/>
<circle cx="1174.4" cy="849.8" r="4.6" fill="#efe51c" stroke="#efe51c"/>
<circle cx="1523.5" cy="706.0" r="4.6" fill="#efe51c" stroke="#efe51c"/>
<circle cx="496.8" cy="863.5" r="4.6" fill="#efe51c" stroke="#efe51c"/>
<circle cx="506.4" cy="875.0" r="4.6" fill="#efe51c" stroke="#efe51c"/>
<circle cx="498.8" cy="918.6" r="4.6" fill="#efe51c" stroke="#efe51c"/>
<circle cx="703.2" cy="968.0" r="4.6" fill="#efe51c" stroke="#efe51c"/>
<circle cx="653.6" cy="996.8" r="4.6" fill="#efe51c" stroke="#efe51c"/>
<circle cx="1031.8" cy="940.6" r="4.6" fill="#efe51c" stroke="#efe51c"/>
<circle cx="1090.7" cy="970.6" r="4.6" fill="#efe51c" stroke="#efe51c"/></g>
<text x="725.0" y="675.2" font-size="17.2" textLength="40.8" lengthAdjust="spacingAndGlyphs" opacity="0.7" stroke="#262626" stroke-width="0.25">&lt;/s&gt;</text><text x="722.5" y="681.4" font-size="17.2" textLength="92.0" lengthAdjust="spacingAndGlyphs" opacity="0.7" stroke="#262626" stroke-width="0.25">Cyfeiriadau</text><text x="780.0" y="723.8" font-size="17.2" textLength="20.9" lengthAdjust="spacingAndGlyphs" opacity="0.7" stroke="#262626" stroke-width="0.25">o'r</text><text x="692.0" y="769.3" font-size="17.2" textLength="16.4" lengthAdjust="spacingAndGlyphs" opacity="0.7" stroke="#262626" stroke-width="0.25">Yr</text><text x="620.5" y="726.2" font-size="17.2" textLength="82.1" lengthAdjust="spacingAndGlyphs" opacity="0.7" stroke="#262626" stroke-width="0.25">Daleithiau</text><text x="621.5" y="726.0" font-size="17.2" textLength="66.4" lengthAdjust="spacingAndGlyphs" opacity="0.7" stroke="#262626" stroke-width="0.25">America</text><text x="622.5" y="725.6" font-size="17.2" textLength="36.3" lengthAdjust="spacingAndGlyphs" opacity="0.7" stroke="#262626" stroke-width="0.25">Unol</text><text x="615.2" y="731.6" font-size="17.2" textLength="68.7" lengthAdjust="spacingAndGlyphs" opacity="0.7" stroke="#262626" stroke-width="0.25">Saesneg</text><text x="501.8" y="767.5" font-size="17.2" textLength="29.9" lengthAdjust="spacingAndGlyphs" opacity="0.7" stroke="#262626" stroke-width="0.25">The</text><text x="497.6" y="770.5" font-size="17.2" textLength="15.5" lengthAdjust="spacingAndGlyphs" opacity="0.7" stroke="#262626" stroke-width="0.25">of</text><text x="704.6" y="821.1" font-size="17.2" textLength="16.1" lengthAdjust="spacingAndGlyphs" opacity="0.7" stroke="#262626" stroke-width="0.25">yr</text><text x="686.6" y="829.4" font-size="17.2" textLength="9.8" lengthAdjust="spacingAndGlyphs" opacity="0.7" stroke="#262626" stroke-width="0.25">o</text><text x="716.8" y="837.3" font-size="17.2" textLength="18.7" lengthAdjust="spacingAndGlyphs" opacity="0.7" stroke="#262626" stroke-width="0.25">ac</text><text x="660.2" y="841.2" font-size="17.2" textLength="35.7" lengthAdjust="spacingAndGlyphs" opacity="0.7" stroke="#262626" stroke-width="0.25">ffilm</text><text x="681.0" y="838.5" font-size="17.2" textLength="30.3" lengthAdjust="spacingAndGlyphs" opacity="0.7" stroke="#262626" stroke-width="0.25">gan</text><text x="690.5" y="842.5" font-size="17.2" textLength="19.7" lengthAdjust="spacingAndGlyphs" opacity="0.7" stroke="#262626" stroke-width="0.25">yn</text><text x="706.8" y="849.1" font-size="17.2" textLength="16.5" lengthAdjust="spacingAndGlyphs" opacity="0.7" stroke="#262626" stroke-width="0.25">ar</text><text x="660.5" y="861.7" font-size="17.2" textLength="40.2" lengthAdjust="spacingAndGlyphs" opacity="0.7" stroke="#262626" stroke-width="0.25">oedd</text><text x="687.2" y="861.7" font-size="17.2" textLength="14.4" lengthAdjust="spacingAndGlyphs" opacity="0.7" stroke="#262626" stroke-width="0.25">ei</text><text x="685.8" y="857.5" font-size="17.2" textLength="9.9" lengthAdjust="spacingAndGlyphs" opacity="0.7" stroke="#262626" stroke-width="0.25">a</text><text x="645.2" y="869.2" font-size="17.2" textLength="43.6" lengthAdjust="spacingAndGlyphs" opacity="0.7" stroke="#262626" stroke-width="0.25">fwyaf</text><text x="689.3" y="871.0" font-size="17.2" textLength="48.9" lengthAdjust="spacingAndGlyphs" opacity="0.7" stroke="#262626" stroke-width="0.25">mewn</text><text x="641.5" y="884.0" font-size="17.2" textLength="108.5" lengthAdjust="spacingAndGlyphs" opacity="0.7" stroke="#262626" stroke-width="0.25">Cyfarwyddwyd</text><text x="645.5" y="888.0" font-size="17.2" textLength="45.2" lengthAdjust="spacingAndGlyphs" opacity="0.7" stroke="#262626" stroke-width="0.25">hefyd</text><text x="653.0" y="881.0" font-size="17.2" textLength="46.2" lengthAdjust="spacingAndGlyphs" opacity="0.7" stroke="#262626" stroke-width="0.25">sgript</text><text x="662.0" y="889.5" font-size="17.2" textLength="54.6" lengthAdjust="spacingAndGlyphs" opacity="0.7" stroke="#262626" stroke-width="0.25">cafodd</text><text x="688.0" y="880.5" font-size="17.2" textLength="35.6" lengthAdjust="spacingAndGlyphs" opacity="0.7" stroke="#262626" stroke-width="0.25">stori</text><text x="714.5" y="886.0" font-size="17.2" textLength="5.1" lengthAdjust="spacingAndGlyphs" opacity="0.7" stroke="#262626" stroke-width="0.25">,</text><text x="700.0" y="884.0" font-size="17.2" textLength="5.1" lengthAdjust="spacingAndGlyphs" opacity="0.7" stroke="#262626" stroke-width="0.25">.</text><text x="639.0" y="934.5" font-size="17.2" textLength="9.8" lengthAdjust="spacingAndGlyphs" opacity="0.7" stroke="#262626" stroke-width="0.25">Y</text><text x="606.2" y="947.3" font-size="17.2" textLength="66.0" lengthAdjust="spacingAndGlyphs" opacity="0.7" stroke="#262626" stroke-width="0.25">actorion</text><text x="669.8" y="977.5" font-size="17.2" textLength="106.5" lengthAdjust="spacingAndGlyphs" opacity="0.7" stroke="#262626" stroke-width="0.25">cynhyrchwyd</text><text x="671.3" y="983.7" font-size="17.2" textLength="101.6" lengthAdjust="spacingAndGlyphs" opacity="0.7" stroke="#262626" stroke-width="0.25">cyhoeddwyd</text><text x="639.5" y="991.9" font-size="17.2" textLength="73.0" lengthAdjust="spacingAndGlyphs" opacity="0.7" stroke="#262626" stroke-width="0.25">wreiddiol</text><text x="674.0" y="994.0" font-size="17.2" textLength="22.7" lengthAdjust="spacingAndGlyphs" opacity="0.7" stroke="#262626" stroke-width="0.25">yw</text><text x="632.3" y="1010.3" font-size="17.2" textLength="39.5" lengthAdjust="spacingAndGlyphs" opacity="0.7" stroke="#262626" stroke-width="0.25">Ffilm</text><text x="616.6" y="1036.1" font-size="17.2" textLength="50.2" lengthAdjust="spacingAndGlyphs" opacity="0.7" stroke="#262626" stroke-width="0.25">Gwlad</text><text x="617.5" y="1047.7" font-size="17.2" textLength="67.4" lengthAdjust="spacingAndGlyphs" opacity="0.7" stroke="#262626" stroke-width="0.25">canlynol</text><text x="656.5" y="1050.4" font-size="17.2" textLength="103.4" lengthAdjust="spacingAndGlyphs" opacity="0.7" stroke="#262626" stroke-width="0.25">cyfarwyddwr</text><text x="605.0" y="1052.8" font-size="17.2" textLength="60.2" lengthAdjust="spacingAndGlyphs" opacity="0.7" stroke="#262626" stroke-width="0.25">ffilmiau</text><text x="640.0" y="1052.5" font-size="17.2" textLength="69.8" lengthAdjust="spacingAndGlyphs" opacity="0.7" stroke="#262626" stroke-width="0.25">cynnwys</text><text x="608.0" y="1065.2" font-size="17.2" textLength="101.4" lengthAdjust="spacingAndGlyphs" opacity="0.7" stroke="#262626" stroke-width="0.25">Cyhoeddodd</text><text x="609.5" y="1067.0" font-size="17.2" textLength="83.4" lengthAdjust="spacingAndGlyphs" opacity="0.7" stroke="#262626" stroke-width="0.25">Derbyniad</text><text x="613.3" y="1076.3" font-size="17.2" textLength="56.5" lengthAdjust="spacingAndGlyphs" opacity="0.7" stroke="#262626" stroke-width="0.25">Gweler</text><text x="617.8" y="1079.0" font-size="17.2" textLength="45.2" lengthAdjust="spacingAndGlyphs" opacity="0.7" stroke="#262626" stroke-width="0.25">hefyd</text><text x="532.2" y="1092.8" font-size="17.2" textLength="16.2" lengthAdjust="spacingAndGlyphs" opacity="0.7" stroke="#262626" stroke-width="0.25">at</text><text x="535.6" y="1100.4" font-size="17.2" textLength="46.4" lengthAdjust="spacingAndGlyphs" opacity="0.7" stroke="#262626" stroke-width="0.25">roedd</text><text x="552.2" y="1100.4" font-size="17.2" textLength="37.7" lengthAdjust="spacingAndGlyphs" opacity="0.7" stroke="#262626" stroke-width="0.25">wedi</text><text x="1172.2" y="717.9" font-size="17.2" textLength="4.5" lengthAdjust="spacingAndGlyphs" opacity="0.7" stroke="#262626" stroke-width="0.25">i</text>
<rect x="92.5" y="53.8" width="1581.5" height="1353.4" fill="none" stroke="#cccccc" stroke-width="2.4"/>
<defs><linearGradient id="cb" x1="0" y1="0" x2="0" y2="1"><stop offset="0.0000" stop-color="#fde725"/><stop offset="0.0312" stop-color="#ece51b"/><stop offset="0.0625" stop-color="#d8e219"/><stop offset="0.0938" stop-color="#c2df23"/><stop offset="0.1250" stop-color="#addc30"/><stop offset="0.1562" stop-color="#98d83e"/><stop offset="0.1875" stop-color="#84d44b"/><stop offset="0.2188" stop-color="#70cf57"/><stop offset="0.2500" stop-color="#5ec962"/><stop offset="0.2812" stop-color="#4ec36b"/><stop offset="0.3125" stop-color="#3fbc73"/><stop offset="0.3438" stop-color="#32b67a"/><stop offset="0.3750" stop-color="#28ae80"/><stop offset="0.4062" stop-color="#22a785"/><stop offset="0.4375" stop-color="#1fa088"/><stop offset="0.4688" stop-color="#1f988b"/><stop offset="0.5000" stop-color="#21918c"/><stop offset="0.5312" stop-color="#23898e"/><stop offset="0.5625" stop-color="#26828e"/><stop offset="0.5938" stop-color="#297a8e"/><stop offset="0.6250" stop-color="#2c728e"/><stop offset="0.6562" stop-color="#2f6b8e"/><stop offset="0.6875" stop-color="#33638d"/><stop offset="0.7188" stop-color="#375b8d"/><stop offset="0.7500" stop-color="#3b528b"/><stop offset="0.7812" stop-color="#3e4989"/><stop offset="0.8125" stop-color="#424086"/><stop offset="0.8438" stop-color="#453781"/><stop offset="0.8750" stop-color="#472d7b"/><stop offset="0.9062" stop-color="#482374"/><stop offset="0.9375" stop-color="#48186a"/><stop offset="0.9688" stop-color="#470d60"/><stop offset="1.0000" stop-color="#440154"/></linearGradient></defs>
<rect x="1773.0" y="53.8" width="67.5" height="1353.4" fill="url(#cb)" fill-opacity="0.6"/>
<rect x="1773.0" y="53.8" width="67.5" height="1353.4" fill="none" stroke="#cccccc" stroke-width="2.4"/>
<text x="1856.6" y="1414.6" font-size="22.2" text-anchor="start" textLength="12.6" lengthAdjust="spacingAndGlyphs">0</text>
<text x="1856.6" y="1245.3" font-size="22.2" text-anchor="start" textLength="38.6" lengthAdjust="spacingAndGlyphs">250</text>
<text x="1856.6" y="1076.0" font-size="22.2" text-anchor="start" textLength="38.6" lengthAdjust="spacingAndGlyphs">500</text>
<text x="1856.6" y="906.7" font-size="22.2" text-anchor="start" textLength="38.6" lengthAdjust="spacingAndGlyphs">750</text>
<text x="1856.6" y="737.4" font-size="22.2" text-anchor="start" textLength="51.6" lengthAdjust="spacingAndGlyphs">1000</text>
<text x="1856.6" y="568.1" font-size="22.2" text-anchor="start" textLength="51.6" lengthAdjust="spacingAndGlyphs">1250</text>
<text x="1856.6" y="398.8" font-size="22.2" text-anchor="start" textLength="51.6" lengthAdjust="spacingAndGlyphs">1500</text>
<text x="1856.6" y="229.5" font-size="22.2" text-anchor="start" textLength="51.6" lengthAdjust="spacingAndGlyphs">1750</text>
<path d="M1841.0 1407.0h6.5M1841.0 1237.7h6.5M1841.0 1068.4h6.5M1841.0 899.1h6.5M1841.0 729.8h6.5M1841.0 560.5h6.5M1841.0 391.2h6.5M1841.0 221.9h6.5" stroke="#262626" stroke-width="2.1" fill="none"/>
<text x="223.8" y="1437.5" font-size="22.2" text-anchor="middle" textLength="34.0" lengthAdjust="spacingAndGlyphs">-60</text>
<text x="446.3" y="1437.5" font-size="22.2" text-anchor="middle" textLength="34.0" lengthAdjust="spacingAndGlyphs">-40</text>
<text x="668.8" y="1437.5" font-size="22.2" text-anchor="middle" textLength="34.0" lengthAdjust="spacingAndGlyphs">-20</text>
<text x="892.4" y="1437.5" font-size="22.2" text-anchor="middle" textLength="13.25" lengthAdjust="spacingAndGlyphs">0</text>
<text x="1114.9" y="1437.5" font-size="22.2" text-anchor="middle" textLength="26.5" lengthAdjust="spacingAndGlyphs">20</text>
<text x="1337.4" y="1437.5" font-size="22.2" text-anchor="middle" textLength="26.5" lengthAdjust="spacingAndGlyphs">40</text>
<text x="1559.9" y="1437.5" font-size="22.2" text-anchor="middle" textLength="26.5" lengthAdjust="spacingAndGlyphs">60</text>
<text x="77.3" y="228.4" font-size="22.2" text-anchor="end" textLength="26.5" lengthAdjust="spacingAndGlyphs">40</text>
<text x="77.3" y="466.4" font-size="22.2" text-anchor="end" textLength="26.5" lengthAdjust="spacingAndGlyphs">20</text>
<text x="77.3" y="704.4" font-size="22.2" text-anchor="end" textLength="13.25" lengthAdjust="spacingAndGlyphs">0</text>
<text x="77.3" y="942.4" font-size="22.2" text-anchor="end" textLength="34.0" lengthAdjust="spacingAndGlyphs">-20</text>
<text x="77.3" y="1180.4" font-size="22.2" text-anchor="end" textLength="34.0" lengthAdjust="spacingAndGlyphs">-40</text>
<text x="883" y="1466" font-size="21.5" text-anchor="middle" textLength="193.5" lengthAdjust="spacingAndGlyphs">t-SNE Dimension 1</text>
<text x="30" y="732" font-size="21.5" text-anchor="middle" textLength="193.5" lengthAdjust="spacingAndGlyphs" transform="rotate(-90 30 732)">t-SNE Dimension 2</text>
<text x="1931" y="731" font-size="21.5" text-anchor="middle" textLength="270" lengthAdjust="spacingAndGlyphs" transform="rotate(-90 1931 731)">Word Rank (by frequency)</text>
<text x="882.5" y="41" font-size="34.0" text-anchor="middle" textLength="1018" lengthAdjust="spacingAndGlyphs" font-weight="bold">t-SNE Visualization of Word Embeddings (2000 words)</text>
</svg></body></html>
